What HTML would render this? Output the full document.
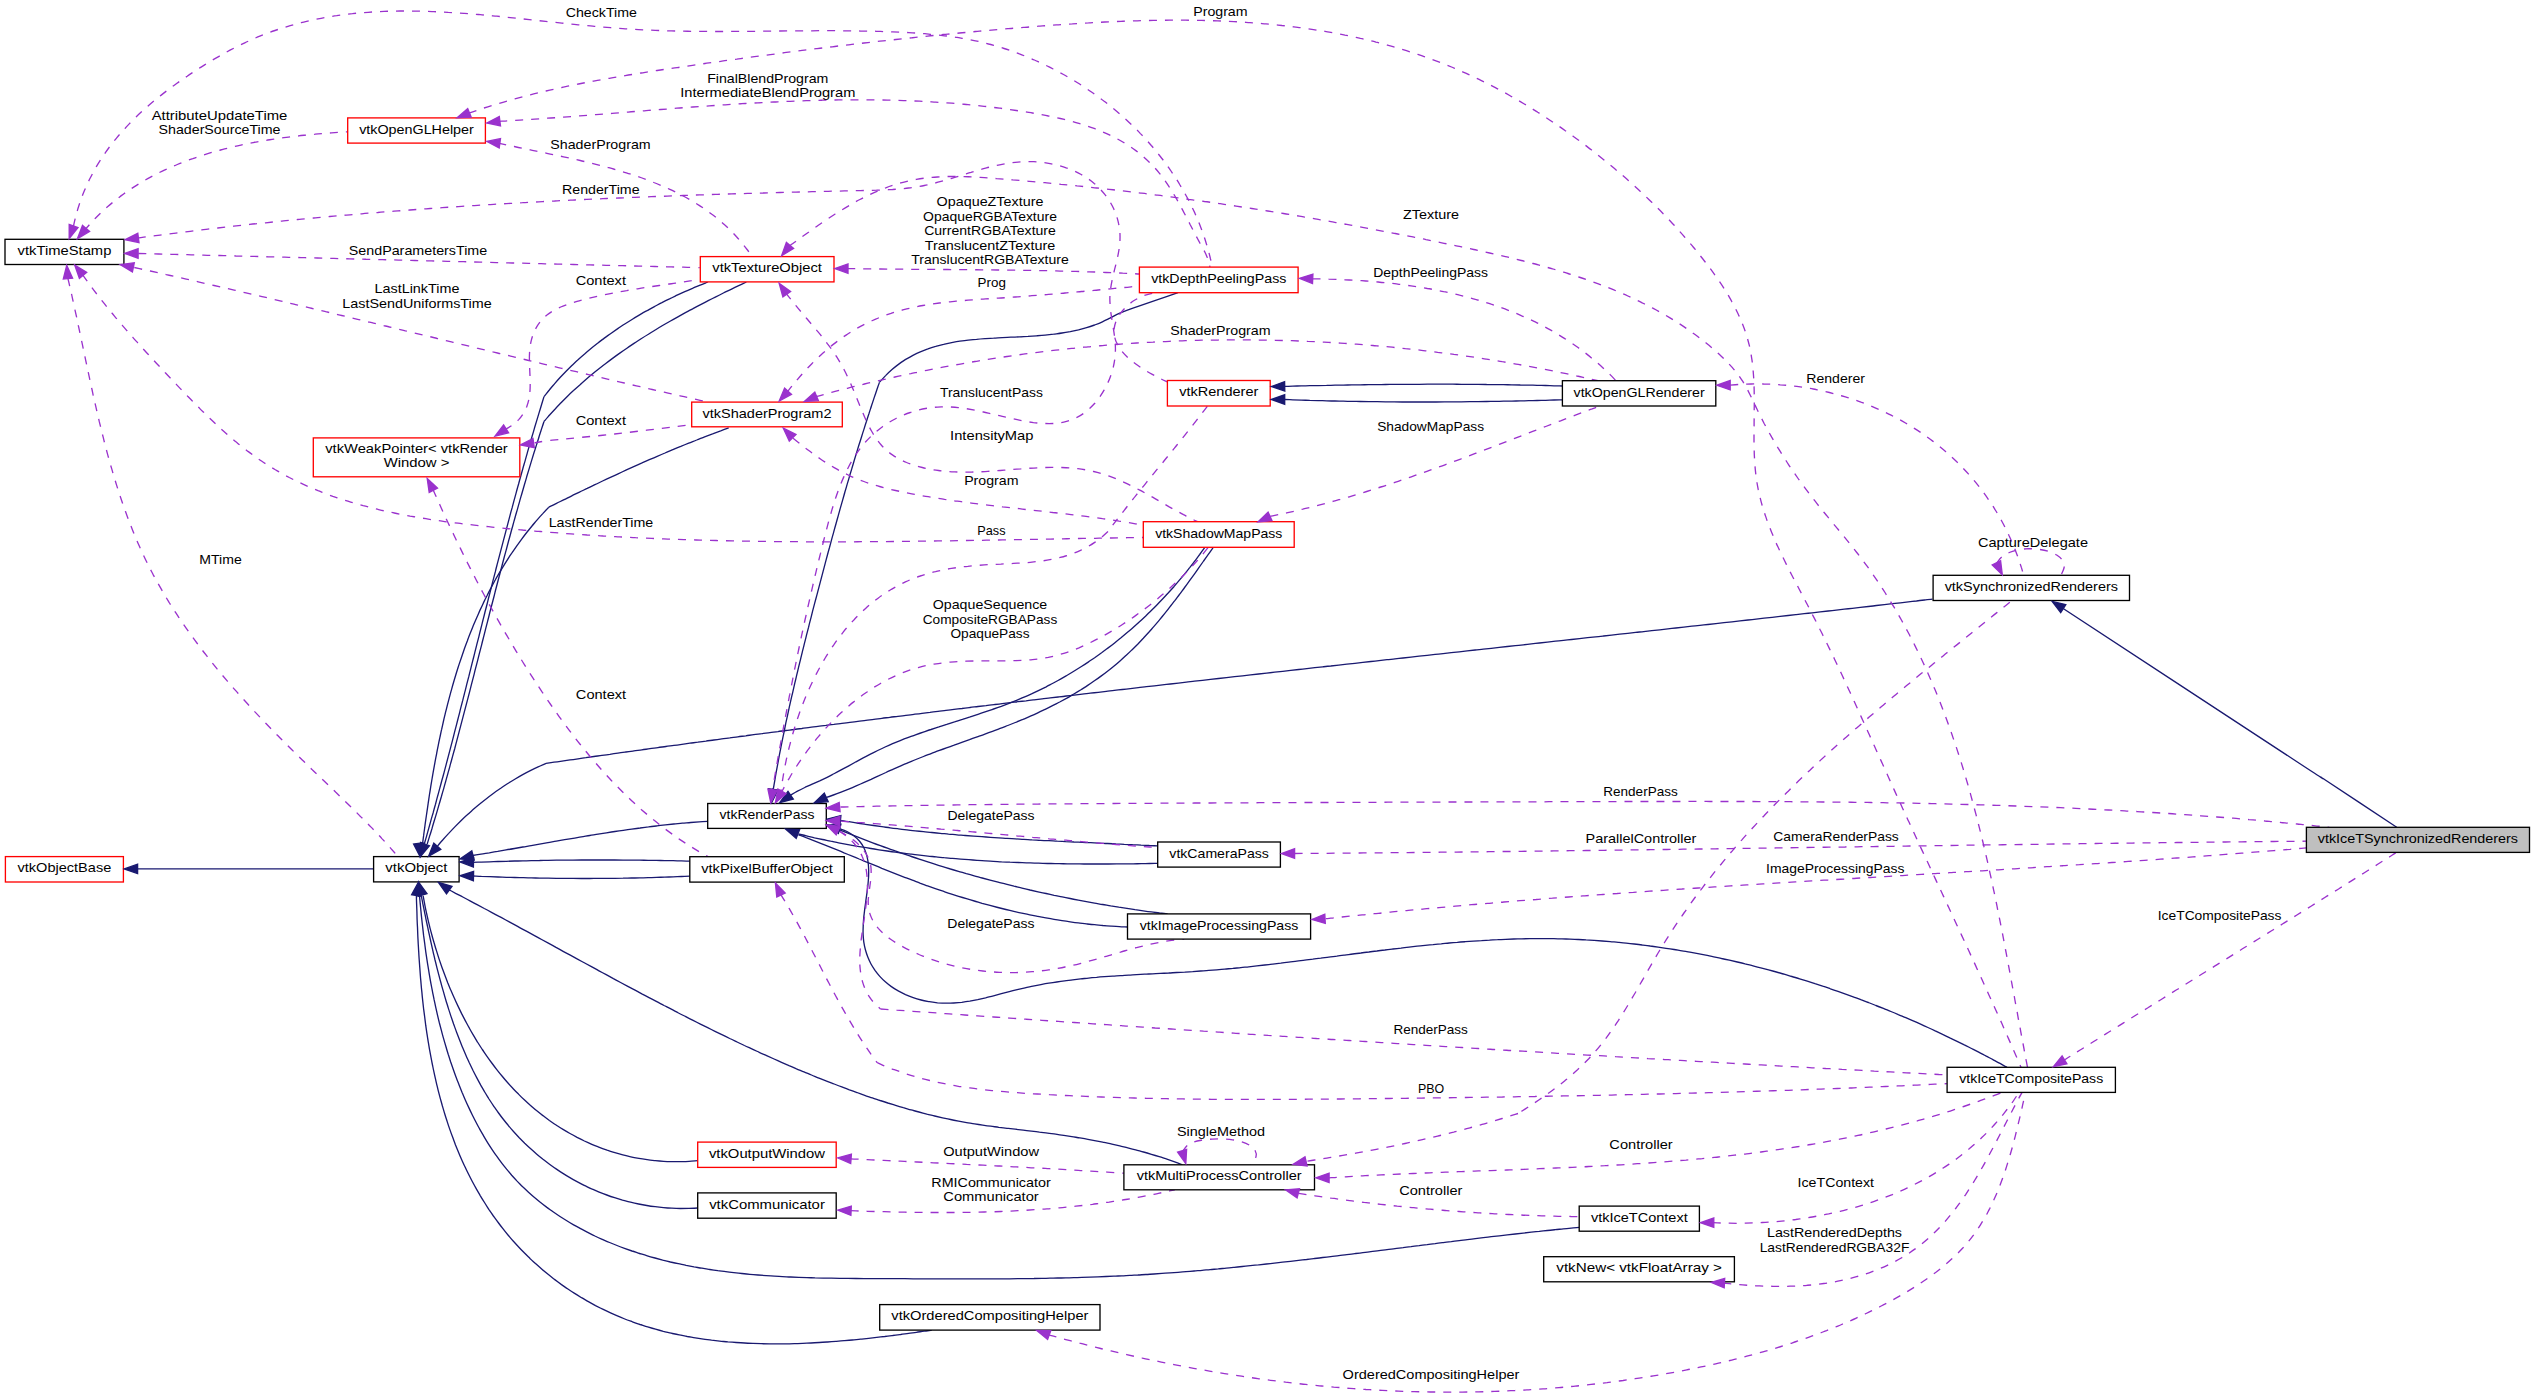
<!DOCTYPE html><html><head><meta charset="utf-8"><style>html,body{margin:0;padding:0;background:#fff;}svg{display:block;}text{font-family:"Liberation Sans",sans-serif;font-size:12.8px;fill:#000;}</style></head><body>
<svg xmlns="http://www.w3.org/2000/svg" width="2535" height="1397" viewBox="0 0 2535 1397">
<rect x="0" y="0" width="2535" height="1397" fill="#fff"/>
<g fill="none" stroke-width="1.33">
<path d="M137.9,868.9L373.6,868.9" stroke="#191970"/>
<path d="M708.0,282.0C706.7,282.5 702.8,284.1 700.2,285.1C697.7,286.2 695.1,287.2 692.5,288.4C689.9,289.5 687.3,290.6 684.8,291.7C682.2,292.9 679.7,294.0 677.1,295.2C674.6,296.4 672.0,297.6 669.5,298.9C667.0,300.1 664.4,301.4 661.9,302.7C659.4,303.9 656.9,305.3 654.4,306.6C651.9,307.9 649.5,309.3 647.0,310.7C644.5,312.0 642.1,313.4 639.6,314.9C637.2,316.3 634.8,317.7 632.4,319.2C630.0,320.7 627.6,322.2 625.2,323.7C622.8,325.2 620.5,326.8 618.1,328.4C615.8,330.0 613.5,331.6 611.2,333.2C608.9,334.8 606.6,336.5 604.3,338.1C602.1,339.8 599.8,341.5 597.6,343.3C595.4,345.0 593.2,346.7 591.0,348.5C588.8,350.3 586.7,352.1 584.6,354.0C582.4,355.8 580.3,357.7 578.3,359.6C576.2,361.4 574.1,363.4 572.1,365.3C570.1,367.3 568.1,369.2 566.1,371.2C564.2,373.2 562.2,375.3 560.3,377.3C558.4,379.4 556.5,381.5 554.7,383.6C552.9,385.7 551.0,387.8 549.3,390.0C547.5,392.2 544.9,395.5 544.0,396.6" stroke="#191970"/>
<path d="M544.0,396.6C543.6,397.9 542.4,401.9 541.6,404.5C540.8,407.1 540.0,409.8 539.2,412.4C538.4,415.1 537.6,417.7 536.8,420.4C536.0,423.0 535.2,425.6 534.4,428.3C533.7,430.9 532.9,433.6 532.1,436.2C531.3,438.9 530.6,441.5 529.8,444.2C529.0,446.8 528.3,449.5 527.5,452.1C526.8,454.8 526.0,457.4 525.3,460.1C524.5,462.7 523.8,465.4 523.0,468.0C522.3,470.7 521.5,473.3 520.8,476.0C520.0,478.7 519.3,481.3 518.6,484.0C517.8,486.6 517.1,489.3 516.4,491.9C515.7,494.6 514.9,497.3 514.2,499.9C513.5,502.6 512.8,505.2 512.1,507.9C511.3,510.6 510.6,513.2 509.9,515.9C509.2,518.6 508.5,521.2 507.8,523.9C507.1,526.6 506.4,529.2 505.7,531.9C505.0,534.6 504.3,537.2 503.6,539.9C502.9,542.6 502.2,545.2 501.5,547.9C500.8,550.6 500.1,553.2 499.4,555.9C498.7,558.6 498.0,561.2 497.3,563.9C496.6,566.6 495.9,569.2 495.3,571.9C494.6,574.6 493.9,577.3 493.2,579.9C492.5,582.6 491.8,585.3 491.2,587.9C490.5,590.6 489.8,593.3 489.1,596.0C488.4,598.6 487.8,601.3 487.1,604.0C486.4,606.6 485.7,609.3 485.0,612.0C484.4,614.7 483.7,617.3 483.0,620.0C482.3,622.7 481.7,625.4 481.0,628.0C480.3,630.7 479.6,633.4 479.0,636.1C478.3,638.7 477.6,641.4 476.9,644.1C476.3,646.7 475.6,649.4 474.9,652.1C474.3,654.8 473.6,657.4 472.9,660.1C472.2,662.8 471.6,665.5 470.9,668.1C470.2,670.8 469.5,673.5 468.9,676.2C468.2,678.8 467.5,681.5 466.8,684.2C466.2,686.9 465.5,689.5 464.8,692.2C464.1,694.9 463.4,697.5 462.8,700.2C462.1,702.9 461.4,705.6 460.7,708.2C460.0,710.9 459.4,713.6 458.7,716.2C458.0,718.9 457.3,721.6 456.6,724.3C455.9,726.9 455.2,729.6 454.5,732.3C453.9,734.9 453.2,737.6 452.5,740.3C451.8,742.9 451.1,745.6 450.4,748.3C449.7,750.9 449.0,753.6 448.3,756.3C447.6,758.9 446.9,761.6 446.2,764.3C445.5,766.9 444.8,769.6 444.1,772.3C443.4,774.9 442.7,777.6 441.9,780.3C441.2,782.9 440.5,785.6 439.8,788.2C439.1,790.9 438.4,793.6 437.6,796.2C436.9,798.9 436.2,801.5 435.5,804.2C434.7,806.9 434.0,809.5 433.3,812.2C432.5,814.8 431.8,817.5 431.0,820.1C430.3,822.8 429.6,825.4 428.8,828.1C428.1,830.7 427.3,833.4 426.6,836.1C425.8,838.7 424.7,842.7 424.3,844.0" stroke="#191970"/>
<path d="M746.4,282.0C745.1,282.6 741.3,284.4 738.7,285.6C736.2,286.8 733.6,288.1 731.1,289.3C728.5,290.5 726.0,291.8 723.4,293.0C720.9,294.3 718.3,295.6 715.8,296.8C713.3,298.1 710.7,299.4 708.2,300.7C705.6,302.0 703.1,303.3 700.6,304.6C698.0,305.9 695.5,307.2 693.0,308.6C690.5,309.9 688.0,311.3 685.4,312.6C682.9,314.0 680.4,315.4 677.9,316.8C675.4,318.2 672.9,319.6 670.5,321.0C668.0,322.4 665.5,323.8 663.0,325.3C660.6,326.7 658.1,328.2 655.7,329.7C653.2,331.2 650.8,332.6 648.4,334.2C645.9,335.7 643.5,337.2 641.1,338.7C638.7,340.3 636.3,341.8 634.0,343.4C631.6,345.0 629.2,346.6 626.9,348.2C624.5,349.8 622.2,351.4 619.8,353.1C617.5,354.7 615.2,356.4 612.9,358.1C610.6,359.8 608.3,361.5 606.1,363.2C603.8,364.9 601.6,366.6 599.3,368.4C597.1,370.2 594.9,372.0 592.7,373.8C590.5,375.6 588.3,377.4 586.2,379.2C584.0,381.1 581.9,383.0 579.8,384.9C577.6,386.8 575.5,388.7 573.5,390.6C571.4,392.5 569.3,394.5 567.3,396.5C565.3,398.5 563.3,400.5 561.3,402.5C559.3,404.6 557.3,406.6 555.4,408.7C553.4,410.8 551.5,412.9 549.6,415.0C547.7,417.2 544.9,420.4 544.0,421.5" stroke="#191970"/>
<path d="M544.0,421.5C543.6,422.8 542.3,426.7 541.4,429.4C540.6,432.0 539.7,434.6 538.9,437.2C538.1,439.9 537.2,442.5 536.4,445.1C535.6,447.8 534.8,450.4 533.9,453.0C533.1,455.7 532.3,458.3 531.5,460.9C530.7,463.6 529.9,466.2 529.1,468.9C528.3,471.5 527.5,474.1 526.7,476.8C526.0,479.4 525.2,482.1 524.4,484.7C523.6,487.4 522.9,490.0 522.1,492.7C521.3,495.3 520.6,498.0 519.8,500.6C519.1,503.3 518.3,505.9 517.6,508.6C516.8,511.2 516.1,513.9 515.3,516.5C514.6,519.2 513.8,521.9 513.1,524.5C512.4,527.2 511.6,529.8 510.9,532.5C510.2,535.2 509.5,537.8 508.7,540.5C508.0,543.1 507.3,545.8 506.6,548.5C505.9,551.1 505.2,553.8 504.4,556.5C503.7,559.1 503.0,561.8 502.3,564.5C501.6,567.1 500.9,569.8 500.2,572.5C499.5,575.1 498.8,577.8 498.1,580.5C497.4,583.1 496.7,585.8 496.0,588.5C495.3,591.1 494.7,593.8 494.0,596.5C493.3,599.2 492.6,601.8 491.9,604.5C491.2,607.2 490.5,609.9 489.8,612.5C489.2,615.2 488.5,617.9 487.8,620.5C487.1,623.2 486.4,625.9 485.7,628.6C485.1,631.2 484.4,633.9 483.7,636.6C483.0,639.3 482.3,641.9 481.7,644.6C481.0,647.3 480.3,649.9 479.6,652.6C478.9,655.3 478.3,658.0 477.6,660.6C476.9,663.3 476.2,666.0 475.5,668.7C474.8,671.3 474.2,674.0 473.5,676.7C472.8,679.4 472.1,682.0 471.4,684.7C470.7,687.4 470.1,690.0 469.4,692.7C468.7,695.4 468.0,698.0 467.3,700.7C466.6,703.4 465.9,706.1 465.2,708.7C464.5,711.4 463.8,714.1 463.1,716.7C462.4,719.4 461.7,722.1 461.0,724.7C460.3,727.4 459.6,730.1 458.9,732.7C458.2,735.4 457.5,738.1 456.8,740.7C456.1,743.4 455.4,746.0 454.7,748.7C453.9,751.4 453.2,754.0 452.5,756.7C451.8,759.3 451.0,762.0 450.3,764.7C449.6,767.3 448.9,770.0 448.1,772.6C447.4,775.3 446.6,777.9 445.9,780.6C445.2,783.2 444.4,785.9 443.7,788.6C442.9,791.2 442.1,793.9 441.4,796.5C440.6,799.1 439.9,801.8 439.1,804.4C438.3,807.1 437.6,809.7 436.8,812.4C436.0,815.0 435.2,817.7 434.4,820.3C433.6,822.9 432.8,825.6 432.1,828.2C431.3,830.8 430.5,833.5 429.6,836.1C428.8,838.7 427.6,842.7 427.2,844.0" stroke="#191970"/>
<path d="M728.7,427.8C727.4,428.3 723.3,429.8 720.7,430.8C718.0,431.7 715.3,432.7 712.6,433.8C710.0,434.8 707.3,435.8 704.6,436.8C702.0,437.9 699.3,438.9 696.7,440.0C694.0,441.0 691.4,442.1 688.7,443.1C686.1,444.2 683.4,445.3 680.8,446.4C678.2,447.4 675.5,448.5 672.9,449.6C670.3,450.7 667.6,451.8 665.0,453.0C662.4,454.1 659.8,455.2 657.2,456.3C654.5,457.5 651.9,458.6 649.3,459.7C646.7,460.9 644.1,462.0 641.5,463.2C638.9,464.3 636.3,465.5 633.7,466.7C631.1,467.9 628.5,469.0 625.9,470.2C623.3,471.4 620.7,472.6 618.1,473.8C615.6,475.0 613.0,476.2 610.4,477.4C607.8,478.6 605.2,479.8 602.6,481.0C600.1,482.2 597.5,483.5 594.9,484.7C592.4,485.9 589.8,487.1 587.2,488.4C584.6,489.6 582.1,490.9 579.5,492.1C576.9,493.3 574.4,494.6 571.8,495.8C569.3,497.1 566.7,498.3 564.1,499.6C561.6,500.9 559.0,502.1 556.5,503.4C553.9,504.7 550.1,506.6 548.8,507.2" stroke="#191970"/>
<path d="M548.8,507.2C547.8,508.2 544.9,511.3 543.0,513.4C541.1,515.4 539.2,517.5 537.4,519.6C535.6,521.7 533.8,523.9 532.0,526.0C530.2,528.2 528.5,530.3 526.7,532.5C525.0,534.7 523.3,536.9 521.7,539.1C520.0,541.4 518.4,543.6 516.8,545.8C515.2,548.1 513.6,550.4 512.1,552.7C510.5,554.9 509.0,557.2 507.5,559.6C506.0,561.9 504.6,564.2 503.1,566.6C501.7,568.9 500.3,571.3 498.9,573.7C497.5,576.0 496.1,578.4 494.8,580.8C493.5,583.3 492.2,585.7 490.9,588.1C489.6,590.5 488.3,593.0 487.1,595.5C485.8,597.9 484.6,600.4 483.4,602.9C482.3,605.4 481.1,607.9 479.9,610.4C478.8,612.9 477.7,615.4 476.6,617.9C475.5,620.5 474.4,623.0 473.3,625.6C472.3,628.1 471.3,630.7 470.2,633.3C469.2,635.8 468.2,638.4 467.3,641.0C466.3,643.6 465.3,646.2 464.4,648.8C463.5,651.4 462.6,654.0 461.7,656.7C460.8,659.3 459.9,661.9 459.0,664.6C458.2,667.2 457.3,669.9 456.5,672.5C455.7,675.2 454.9,677.9 454.1,680.5C453.3,683.2 452.5,685.9 451.8,688.6C451.0,691.3 450.3,693.9 449.6,696.6C448.9,699.3 448.2,702.0 447.5,704.7C446.8,707.4 446.1,710.2 445.4,712.9C444.8,715.6 444.1,718.3 443.5,721.0C442.9,723.7 442.3,726.5 441.7,729.2C441.0,731.9 440.5,734.7 439.9,737.4C439.3,740.1 438.7,742.9 438.2,745.6C437.6,748.3 437.1,751.1 436.6,753.8C436.0,756.6 435.5,759.3 435.0,762.1C434.5,764.8 434.0,767.5 433.5,770.3C433.0,773.0 432.6,775.8 432.1,778.5C431.6,781.3 431.2,784.0 430.7,786.8C430.3,789.5 429.9,792.2 429.4,795.0C429.0,797.7 428.6,800.5 428.2,803.2C427.8,805.9 427.4,808.7 427.0,811.4C426.6,814.1 426.2,816.9 425.8,819.6C425.4,822.3 425.0,825.0 424.7,827.7C424.3,830.5 423.9,833.2 423.6,835.9C423.2,838.6 422.7,842.6 422.5,844.0" stroke="#191970"/>
<path d="M1932.5,599.1C1931.2,599.3 1927.2,599.7 1924.5,600.0C1921.8,600.3 1919.1,600.6 1916.5,601.0C1913.8,601.3 1911.1,601.6 1908.4,601.9C1905.8,602.2 1903.1,602.5 1900.4,602.8C1897.8,603.1 1895.1,603.4 1892.4,603.7C1889.7,604.0 1887.1,604.3 1884.4,604.6C1881.7,604.9 1879.0,605.2 1876.4,605.5C1873.7,605.9 1871.0,606.2 1868.3,606.5C1865.7,606.8 1863.0,607.1 1860.3,607.4C1857.7,607.7 1855.0,608.0 1852.3,608.3C1849.6,608.6 1847.0,608.9 1844.3,609.2C1841.6,609.5 1838.9,609.8 1836.3,610.1C1833.6,610.4 1830.9,610.7 1828.2,611.0C1825.6,611.3 1822.9,611.6 1820.2,611.9C1817.6,612.2 1814.9,612.5 1812.2,612.8C1809.5,613.1 1806.9,613.4 1804.2,613.7C1801.5,614.0 1798.8,614.3 1796.2,614.6C1793.5,614.9 1790.8,615.2 1788.1,615.5C1785.5,615.8 1782.8,616.1 1780.1,616.4C1777.4,616.7 1774.8,617.0 1772.1,617.3C1769.4,617.6 1766.7,617.9 1764.1,618.2C1761.4,618.5 1758.7,618.8 1756.1,619.1C1753.4,619.4 1750.7,619.7 1748.0,620.0C1745.4,620.3 1742.7,620.6 1740.0,620.9C1737.3,621.2 1734.7,621.5 1732.0,621.8C1729.3,622.1 1726.6,622.4 1724.0,622.7C1721.3,623.0 1718.6,623.3 1715.9,623.6C1713.3,623.9 1710.6,624.2 1707.9,624.5C1705.2,624.8 1702.6,625.1 1699.9,625.4C1697.2,625.7 1694.5,626.0 1691.9,626.2C1689.2,626.5 1686.5,626.8 1683.8,627.1C1681.2,627.4 1678.5,627.7 1675.8,628.0C1673.1,628.3 1670.5,628.6 1667.8,628.9C1665.1,629.2 1662.5,629.5 1659.8,629.8C1657.1,630.1 1654.4,630.4 1651.8,630.7C1649.1,631.0 1646.4,631.3 1643.7,631.6C1641.1,631.9 1638.4,632.1 1635.7,632.4C1633.0,632.7 1630.4,633.0 1627.7,633.3C1625.0,633.6 1622.3,633.9 1619.7,634.2C1617.0,634.5 1614.3,634.8 1611.6,635.1C1609.0,635.4 1606.3,635.7 1603.6,636.0C1600.9,636.3 1598.3,636.6 1595.6,636.8C1592.9,637.1 1590.2,637.4 1587.6,637.7C1584.9,638.0 1582.2,638.3 1579.5,638.6C1576.9,638.9 1574.2,639.2 1571.5,639.5C1568.8,639.8 1566.2,640.1 1563.5,640.4C1560.8,640.7 1558.1,641.0 1555.5,641.2C1552.8,641.5 1550.1,641.8 1547.4,642.1C1544.8,642.4 1542.1,642.7 1539.4,643.0C1536.7,643.3 1534.1,643.6 1531.4,643.9C1528.7,644.2 1526.1,644.5 1523.4,644.8C1520.7,645.1 1518.0,645.4 1515.4,645.6C1512.7,645.9 1510.0,646.2 1507.3,646.5C1504.7,646.8 1502.0,647.1 1499.3,647.4C1496.6,647.7 1494.0,648.0 1491.3,648.3C1488.6,648.6 1485.9,648.9 1483.3,649.2C1480.6,649.5 1477.9,649.7 1475.2,650.0C1472.6,650.3 1469.9,650.6 1467.2,650.9C1464.5,651.2 1461.9,651.5 1459.2,651.8C1456.5,652.1 1453.8,652.4 1451.2,652.7C1448.5,653.0 1445.8,653.3 1443.1,653.6C1440.5,653.9 1437.8,654.2 1435.1,654.4C1432.4,654.7 1429.8,655.0 1427.1,655.3C1424.4,655.6 1421.7,655.9 1419.1,656.2C1416.4,656.5 1413.7,656.8 1411.0,657.1C1408.4,657.4 1405.7,657.7 1403.0,658.0C1400.3,658.3 1397.7,658.6 1395.0,658.9C1392.3,659.2 1389.7,659.4 1387.0,659.7C1384.3,660.0 1381.6,660.3 1379.0,660.6C1376.3,660.9 1373.6,661.2 1370.9,661.5C1368.3,661.8 1365.6,662.1 1362.9,662.4C1360.2,662.7 1357.6,663.0 1354.9,663.3C1352.2,663.6 1349.5,663.9 1346.9,664.2C1344.2,664.5 1341.5,664.8 1338.8,665.1C1336.2,665.4 1333.5,665.7 1330.8,666.0C1328.1,666.2 1325.5,666.5 1322.8,666.8C1320.1,667.1 1317.4,667.4 1314.8,667.7C1312.1,668.0 1309.4,668.3 1306.8,668.6C1304.1,668.9 1301.4,669.2 1298.7,669.5C1296.1,669.8 1293.4,670.1 1290.7,670.4C1288.0,670.7 1285.4,671.0 1282.7,671.3C1280.0,671.6 1277.3,671.9 1274.7,672.2C1272.0,672.5 1269.3,672.8 1266.6,673.1C1264.0,673.4 1261.3,673.7 1258.6,674.0C1256.0,674.3 1253.3,674.6 1250.6,674.9C1247.9,675.2 1245.3,675.5 1242.6,675.8C1239.9,676.1 1237.2,676.4 1234.6,676.7C1231.9,677.0 1229.2,677.3 1226.5,677.6C1223.9,677.9 1221.2,678.2 1218.5,678.5C1215.9,678.8 1213.2,679.1 1210.5,679.4C1207.8,679.7 1205.2,680.0 1202.5,680.3C1199.8,680.6 1197.1,680.9 1194.5,681.2C1191.8,681.5 1189.1,681.9 1186.4,682.2C1183.8,682.5 1181.1,682.8 1178.4,683.1C1175.8,683.4 1173.1,683.7 1170.4,684.0C1167.7,684.3 1165.1,684.6 1162.4,684.9C1159.7,685.2 1157.0,685.5 1154.4,685.8C1151.7,686.1 1149.0,686.4 1146.4,686.7C1143.7,687.0 1141.0,687.4 1138.3,687.7C1135.7,688.0 1133.0,688.3 1130.3,688.6C1127.6,688.9 1125.0,689.2 1122.3,689.5C1119.6,689.8 1117.0,690.1 1114.3,690.4C1111.6,690.7 1108.9,691.1 1106.3,691.4C1103.6,691.7 1100.9,692.0 1098.3,692.3C1095.6,692.6 1092.9,692.9 1090.2,693.2C1087.6,693.5 1084.9,693.9 1082.2,694.2C1079.5,694.5 1076.9,694.8 1074.2,695.1C1071.5,695.4 1068.9,695.7 1066.2,696.0C1063.5,696.4 1060.8,696.7 1058.2,697.0C1055.5,697.3 1052.8,697.6 1050.2,697.9C1047.5,698.2 1044.8,698.6 1042.1,698.9C1039.5,699.2 1036.8,699.5 1034.1,699.8C1031.5,700.1 1028.8,700.4 1026.1,700.8C1023.4,701.1 1020.8,701.4 1018.1,701.7C1015.4,702.0 1012.8,702.4 1010.1,702.7C1007.4,703.0 1004.7,703.3 1002.1,703.6C999.4,704.0 996.7,704.3 994.1,704.6C991.4,704.9 988.7,705.2 986.0,705.6C983.4,705.9 980.7,706.2 978.0,706.5C975.4,706.8 972.7,707.2 970.0,707.5C967.4,707.8 964.7,708.1 962.0,708.5C959.3,708.8 956.7,709.1 954.0,709.4C951.3,709.8 948.7,710.1 946.0,710.4C943.3,710.7 940.7,711.1 938.0,711.4C935.3,711.7 932.6,712.0 930.0,712.4C927.3,712.7 924.6,713.0 922.0,713.3C919.3,713.7 916.6,714.0 914.0,714.3C911.3,714.7 908.6,715.0 905.9,715.3C903.3,715.7 900.6,716.0 897.9,716.3C895.3,716.6 892.6,717.0 889.9,717.3C887.3,717.6 884.6,718.0 881.9,718.3C879.2,718.6 876.6,719.0 873.9,719.3C871.2,719.6 868.6,720.0 865.9,720.3C863.2,720.6 860.6,721.0 857.9,721.3C855.2,721.7 852.6,722.0 849.9,722.3C847.2,722.7 844.6,723.0 841.9,723.3C839.2,723.7 836.5,724.0 833.9,724.4C831.2,724.7 828.5,725.0 825.9,725.4C823.2,725.7 820.5,726.1 817.9,726.4C815.2,726.7 812.5,727.1 809.9,727.4C807.2,727.8 804.5,728.1 801.9,728.5C799.2,728.8 796.5,729.1 793.9,729.5C791.2,729.8 788.5,730.2 785.9,730.5C783.2,730.9 780.5,731.2 777.9,731.6C775.2,731.9 772.5,732.3 769.9,732.6C767.2,733.0 764.5,733.3 761.8,733.7C759.2,734.0 756.5,734.4 753.8,734.7C751.2,735.1 748.5,735.4 745.8,735.8C743.2,736.1 740.5,736.5 737.8,736.8C735.2,737.2 732.5,737.5 729.8,737.9C727.2,738.2 724.5,738.6 721.8,738.9C719.2,739.3 716.5,739.7 713.9,740.0C711.2,740.4 708.5,740.7 705.9,741.1C703.2,741.4 700.5,741.8 697.9,742.2C695.2,742.5 692.5,742.9 689.9,743.2C687.2,743.6 684.5,744.0 681.9,744.3C679.2,744.7 676.5,745.1 673.9,745.4C671.2,745.8 668.5,746.1 665.9,746.5C663.2,746.9 660.5,747.2 657.9,747.6C655.2,748.0 652.5,748.3 649.9,748.7C647.2,749.1 644.5,749.4 641.9,749.8C639.2,750.2 636.6,750.5 633.9,750.9C631.2,751.3 628.6,751.7 625.9,752.0C623.2,752.4 620.6,752.8 617.9,753.1C615.2,753.5 612.6,753.9 609.9,754.3C607.3,754.6 604.6,755.0 601.9,755.4C599.3,755.8 596.6,756.1 593.9,756.5C591.3,756.9 588.6,757.3 585.9,757.7C583.3,758.0 580.6,758.4 578.0,758.8C575.3,759.2 572.6,759.6 570.0,759.9C567.3,760.3 564.6,760.7 562.0,761.1C559.3,761.5 556.6,761.9 554.0,762.2C551.3,762.6 547.3,763.2 546.0,763.4" stroke="#191970"/>
<path d="M546.0,763.4C544.7,764.0 540.7,765.7 538.1,766.9C535.5,768.1 532.9,769.4 530.3,770.7C527.7,772.0 525.2,773.3 522.7,774.7C520.1,776.1 517.7,777.5 515.2,779.0C512.7,780.5 510.3,782.0 507.8,783.5C505.4,785.1 503.0,786.6 500.7,788.3C498.3,789.9 495.9,791.5 493.6,793.2C491.3,794.9 489.0,796.6 486.7,798.4C484.5,800.1 482.2,801.9 480.0,803.8C477.8,805.6 475.6,807.4 473.4,809.3C471.3,811.2 469.1,813.1 467.0,815.1C464.9,817.0 462.8,819.0 460.7,821.0C458.7,823.0 456.7,825.0 454.6,827.1C452.6,829.2 450.7,831.2 448.7,833.4C446.7,835.5 444.8,837.6 442.9,839.8C441.0,841.9 438.2,845.2 437.3,846.3" stroke="#191970"/>
<path d="M472.6,855.5C474.0,855.3 478.2,854.6 481.0,854.1C483.8,853.7 486.6,853.2 489.3,852.8C492.1,852.3 494.9,851.8 497.7,851.4C500.5,850.9 503.3,850.4 506.1,849.9C508.9,849.5 511.7,849.0 514.5,848.5C517.2,848.0 520.0,847.5 522.8,847.0C525.6,846.5 528.4,846.1 531.2,845.6C534.0,845.1 536.8,844.6 539.5,844.1C542.3,843.6 545.1,843.1 547.9,842.6C550.7,842.1 553.5,841.7 556.3,841.2C559.1,840.7 561.9,840.2 564.6,839.7C567.4,839.3 570.2,838.8 573.0,838.3C575.8,837.8 578.6,837.4 581.4,836.9C584.2,836.4 587.0,836.0 589.8,835.5C592.6,835.0 595.4,834.6 598.1,834.1C600.9,833.7 603.7,833.3 606.5,832.8C609.3,832.4 612.1,832.0 614.9,831.5C617.7,831.1 620.5,830.7 623.3,830.3C626.1,829.9 628.9,829.5 631.7,829.1C634.5,828.7 637.3,828.3 640.1,828.0C642.9,827.6 645.7,827.2 648.5,826.9C651.3,826.5 654.2,826.2 657.0,825.9C659.8,825.5 662.6,825.2 665.4,824.9C668.2,824.6 671.0,824.3 673.8,824.0C676.7,823.7 679.5,823.5 682.3,823.2C685.1,823.0 687.9,822.7 690.7,822.5C693.6,822.3 696.4,822.1 699.2,821.9C702.0,821.7 706.3,821.4 707.7,821.3" stroke="#191970"/>
<path d="M472.9,862.4C474.3,862.3 478.5,862.2 481.2,862.1C484.0,862.0 486.8,861.9 489.6,861.8C492.4,861.7 495.1,861.6 497.9,861.5C500.7,861.4 503.5,861.3 506.3,861.3C509.0,861.2 511.8,861.1 514.6,861.0C517.4,861.0 520.2,860.9 522.9,860.8C525.7,860.8 528.5,860.7 531.3,860.6C534.1,860.6 536.8,860.5 539.6,860.5C542.4,860.4 545.2,860.4 548.0,860.3C550.7,860.3 553.5,860.3 556.3,860.2C559.1,860.2 561.9,860.2 564.7,860.1C567.4,860.1 570.2,860.1 573.0,860.1C575.8,860.0 578.6,860.0 581.3,860.0C584.1,860.0 586.9,860.0 589.7,860.0C592.5,860.0 595.2,860.0 598.0,860.0C600.8,860.0 603.6,860.0 606.4,860.0C609.2,860.0 611.9,860.0 614.7,860.0C617.5,860.0 620.3,860.0 623.1,860.1C625.8,860.1 628.6,860.1 631.4,860.1C634.2,860.1 637.0,860.2 639.7,860.2C642.5,860.2 645.3,860.3 648.1,860.3C650.9,860.4 653.7,860.4 656.4,860.4C659.2,860.5 662.0,860.5 664.8,860.6C667.6,860.6 670.3,860.7 673.1,860.7C675.9,860.8 678.7,860.8 681.5,860.9C684.2,861.0 688.4,861.1 689.8,861.1" stroke="#191970"/>
<path d="M473.1,876.0C474.5,876.1 478.7,876.2 481.4,876.4C484.2,876.5 487.0,876.6 489.8,876.7C492.5,876.8 495.3,876.9 498.1,877.0C500.9,877.1 503.6,877.2 506.4,877.3C509.2,877.4 512.0,877.4 514.8,877.5C517.5,877.6 520.3,877.7 523.1,877.7C525.9,877.8 528.6,877.9 531.4,877.9C534.2,878.0 537.0,878.0 539.8,878.1C542.5,878.1 545.3,878.2 548.1,878.2C550.9,878.3 553.7,878.3 556.4,878.3C559.2,878.4 562.0,878.4 564.8,878.4C567.6,878.4 570.3,878.4 573.1,878.4C575.9,878.5 578.7,878.5 581.4,878.5C584.2,878.5 587.0,878.5 589.8,878.5C592.6,878.5 595.3,878.4 598.1,878.4C600.9,878.4 603.7,878.4 606.5,878.4C609.2,878.3 612.0,878.3 614.8,878.3C617.6,878.2 620.4,878.2 623.1,878.2C625.9,878.1 628.7,878.1 631.5,878.0C634.2,878.0 637.0,877.9 639.8,877.8C642.6,877.8 645.4,877.7 648.1,877.6C650.9,877.6 653.7,877.5 656.5,877.4C659.3,877.3 662.0,877.2 664.8,877.1C667.6,877.0 670.4,877.0 673.1,876.9C675.9,876.8 678.7,876.6 681.5,876.5C684.2,876.4 688.4,876.3 689.8,876.2" stroke="#191970"/>
<path d="M416.4,895.8C416.4,897.1 416.5,901.0 416.6,903.6C416.7,906.3 416.8,908.9 416.9,911.5C417.0,914.2 417.0,916.8 417.1,919.5C417.2,922.1 417.3,924.8 417.5,927.4C417.6,930.1 417.7,932.8 417.8,935.5C417.9,938.1 418.1,940.8 418.2,943.5C418.4,946.2 418.5,948.9 418.7,951.6C418.8,954.3 419.0,957.0 419.2,959.7C419.4,962.5 419.6,965.2 419.8,967.9C420.0,970.6 420.2,973.3 420.4,976.1C420.6,978.8 420.9,981.5 421.1,984.2C421.3,987.0 421.6,989.7 421.9,992.4C422.1,995.2 422.4,997.9 422.7,1000.6C423.0,1003.4 423.3,1006.1 423.6,1008.8C424.0,1011.6 424.3,1014.3 424.7,1017.0C425.0,1019.8 425.4,1022.5 425.7,1025.2C426.1,1028.0 426.5,1030.7 426.9,1033.4C427.3,1036.2 427.8,1038.9 428.2,1041.6C428.7,1044.3 429.1,1047.0 429.6,1049.8C430.1,1052.5 430.6,1055.2 431.1,1057.9C431.6,1060.6 432.1,1063.3 432.7,1066.0C433.2,1068.7 433.8,1071.4 434.4,1074.1C435.0,1076.8 435.6,1079.4 436.2,1082.1C436.8,1084.8 437.5,1087.5 438.1,1090.1C438.8,1092.8 439.5,1095.4 440.2,1098.1C440.9,1100.7 441.7,1103.4 442.4,1106.0C443.2,1108.6 443.9,1111.2 444.7,1113.8C445.5,1116.5 446.4,1119.1 447.2,1121.6C448.0,1124.2 448.9,1126.8 449.8,1129.4C450.7,1132.0 451.6,1134.5 452.6,1137.1C453.5,1139.6 454.5,1142.1 455.4,1144.7C456.4,1147.2 457.5,1149.7 458.5,1152.2C459.5,1154.7 460.6,1157.2 461.7,1159.7C462.8,1162.1 463.9,1164.6 465.1,1167.0C466.2,1169.5 467.4,1171.9 468.6,1174.3C469.8,1176.7 471.0,1179.1 472.3,1181.5C473.6,1183.9 474.9,1186.3 476.2,1188.6C477.5,1191.0 478.9,1193.3 480.2,1195.6C481.6,1197.9 483.0,1200.2 484.5,1202.5C485.9,1204.8 487.4,1207.1 488.8,1209.3C490.3,1211.5 491.9,1213.8 493.4,1216.0C495.0,1218.2 496.5,1220.3 498.2,1222.5C499.8,1224.7 501.4,1226.8 503.1,1228.9C504.7,1231.0 506.4,1233.1 508.2,1235.2C509.9,1237.2 511.6,1239.3 513.4,1241.3C515.2,1243.3 517.0,1245.3 518.9,1247.2C520.7,1249.2 522.6,1251.1 524.5,1253.0C526.3,1254.9 528.3,1256.8 530.2,1258.7C532.2,1260.5 534.1,1262.3 536.1,1264.1C538.1,1265.9 540.1,1267.7 542.2,1269.5C544.2,1271.2 546.3,1272.9 548.4,1274.6C550.5,1276.3 552.6,1277.9 554.8,1279.6C556.9,1281.2 559.1,1282.8 561.2,1284.4C563.4,1285.9 565.6,1287.5 567.9,1289.0C570.1,1290.5 572.3,1292.0 574.6,1293.4C576.9,1294.9 579.2,1296.3 581.5,1297.7C583.8,1299.0 586.1,1300.4 588.4,1301.7C590.8,1303.0 593.1,1304.3 595.5,1305.6C597.9,1306.8 600.3,1308.0 602.7,1309.2C605.1,1310.4 607.6,1311.6 610.0,1312.7C612.4,1313.8 614.9,1314.9 617.4,1315.9C619.9,1317.0 622.3,1318.0 624.8,1319.0C627.3,1320.0 629.9,1320.9 632.4,1321.8C634.9,1322.8 637.5,1323.6 640.0,1324.5C642.6,1325.3 645.1,1326.2 647.7,1326.9C650.3,1327.7 652.9,1328.5 655.5,1329.2C658.1,1329.9 660.7,1330.6 663.3,1331.3C666.0,1331.9 668.6,1332.6 671.2,1333.2C673.9,1333.8 676.5,1334.4 679.2,1334.9C681.9,1335.4 684.5,1336.0 687.2,1336.5C689.9,1336.9 692.6,1337.4 695.3,1337.8C698.0,1338.3 700.7,1338.7 703.4,1339.1C706.1,1339.5 708.8,1339.8 711.5,1340.2C714.3,1340.5 717.0,1340.8 719.7,1341.1C722.5,1341.4 725.2,1341.6 727.9,1341.9C730.7,1342.1 733.4,1342.3 736.2,1342.5C738.9,1342.7 741.7,1342.9 744.5,1343.0C747.2,1343.2 750.0,1343.3 752.8,1343.4C755.5,1343.5 758.3,1343.6 761.1,1343.7C763.8,1343.8 766.6,1343.8 769.4,1343.8C772.2,1343.9 774.9,1343.9 777.7,1343.9C780.5,1343.9 783.3,1343.8 786.0,1343.8C788.8,1343.8 791.6,1343.7 794.4,1343.6C797.2,1343.6 799.9,1343.5 802.7,1343.4C805.5,1343.3 808.2,1343.1 811.0,1343.0C813.8,1342.9 816.6,1342.7 819.3,1342.5C822.1,1342.4 824.8,1342.2 827.6,1342.0C830.4,1341.8 833.1,1341.6 835.9,1341.4C838.6,1341.2 841.4,1341.0 844.1,1340.7C846.8,1340.5 849.6,1340.3 852.3,1340.0C855.0,1339.7 857.8,1339.5 860.5,1339.2C863.2,1338.9 865.9,1338.6 868.6,1338.3C871.3,1338.0 874.0,1337.7 876.7,1337.4C879.4,1337.1 882.1,1336.8 884.8,1336.5C887.4,1336.1 890.1,1335.8 892.7,1335.5C895.4,1335.1 898.1,1334.8 900.7,1334.5C903.3,1334.1 905.9,1333.8 908.6,1333.4C911.2,1333.0 913.8,1332.7 916.4,1332.3C919.0,1331.9 921.6,1331.6 924.1,1331.2C926.7,1330.8 930.5,1330.3 931.8,1330.1" stroke="#191970"/>
<path d="M419.5,895.8C419.6,897.1 420.0,901.0 420.2,903.7C420.5,906.3 420.7,908.9 421.0,911.6C421.2,914.2 421.5,916.8 421.8,919.5C422.1,922.1 422.4,924.8 422.7,927.4C423.0,930.1 423.3,932.7 423.6,935.4C424.0,938.0 424.3,940.7 424.7,943.3C425.0,946.0 425.4,948.6 425.7,951.3C426.1,954.0 426.5,956.6 426.9,959.3C427.3,962.0 427.7,964.6 428.2,967.3C428.6,969.9 429.0,972.6 429.5,975.3C429.9,977.9 430.4,980.6 430.9,983.3C431.4,985.9 431.9,988.6 432.4,991.2C432.9,993.9 433.5,996.5 434.0,999.2C434.6,1001.9 435.1,1004.5 435.7,1007.1C436.3,1009.8 436.9,1012.4 437.5,1015.1C438.1,1017.7 438.8,1020.4 439.4,1023.0C440.1,1025.6 440.8,1028.2 441.5,1030.9C442.1,1033.5 442.9,1036.1 443.6,1038.7C444.3,1041.3 445.1,1043.9 445.9,1046.5C446.6,1049.1 447.4,1051.7 448.2,1054.3C449.1,1056.9 449.9,1059.5 450.7,1062.0C451.6,1064.6 452.5,1067.2 453.4,1069.7C454.3,1072.3 455.2,1074.8 456.2,1077.4C457.1,1079.9 458.1,1082.4 459.1,1085.0C460.1,1087.5 461.1,1090.0 462.1,1092.5C463.2,1095.0 464.2,1097.5 465.3,1100.0C466.4,1102.5 467.5,1104.9 468.7,1107.4C469.8,1109.8 471.0,1112.3 472.2,1114.7C473.4,1117.1 474.6,1119.6 475.9,1122.0C477.1,1124.4 478.4,1126.7 479.7,1129.1C481.0,1131.5 482.4,1133.8 483.7,1136.1C485.1,1138.5 486.5,1140.8 487.9,1143.1C489.3,1145.3 490.8,1147.6 492.3,1149.8C493.8,1152.1 495.3,1154.3 496.9,1156.4C498.4,1158.6 500.0,1160.8 501.6,1162.9C503.2,1165.0 504.9,1167.1 506.6,1169.2C508.3,1171.2 510.0,1173.2 511.7,1175.2C513.5,1177.2 515.3,1179.2 517.1,1181.1C519.0,1183.0 520.8,1184.9 522.7,1186.8C524.6,1188.6 526.5,1190.4 528.5,1192.2C530.5,1194.0 532.4,1195.7 534.5,1197.5C536.5,1199.2 538.5,1200.9 540.6,1202.5C542.7,1204.2 544.8,1205.8 546.9,1207.4C549.1,1208.9 551.2,1210.5 553.4,1212.0C555.6,1213.5 557.8,1215.0 560.0,1216.5C562.2,1217.9 564.5,1219.3 566.8,1220.7C569.0,1222.1 571.3,1223.5 573.6,1224.8C576.0,1226.1 578.3,1227.4 580.6,1228.7C583.0,1230.0 585.4,1231.2 587.7,1232.4C590.1,1233.6 592.5,1234.8 594.9,1236.0C597.4,1237.1 599.8,1238.2 602.2,1239.3C604.7,1240.4 607.1,1241.5 609.6,1242.5C612.1,1243.5 614.5,1244.5 617.0,1245.5C619.5,1246.5 622.0,1247.4 624.5,1248.3C627.0,1249.2 629.5,1250.1 632.0,1251.0C634.6,1251.8 637.1,1252.7 639.6,1253.5C642.2,1254.3 644.7,1255.1 647.3,1255.8C649.8,1256.6 652.4,1257.3 655.0,1258.0C657.5,1258.7 660.1,1259.4 662.7,1260.1C665.3,1260.7 667.8,1261.3 670.4,1262.0C673.0,1262.6 675.6,1263.2 678.2,1263.7C680.9,1264.3 683.5,1264.8 686.1,1265.4C688.7,1265.9 691.3,1266.4 694.0,1266.9C696.6,1267.3 699.2,1267.8 701.9,1268.2C704.5,1268.7 707.2,1269.1 709.8,1269.5C712.5,1269.9 715.1,1270.3 717.8,1270.7C720.5,1271.0 723.1,1271.4 725.8,1271.7C728.5,1272.1 731.1,1272.4 733.8,1272.7C736.5,1273.0 739.2,1273.3 741.9,1273.5C744.6,1273.8 747.3,1274.1 749.9,1274.3C752.6,1274.6 755.3,1274.8 758.0,1275.0C760.7,1275.2 763.4,1275.4 766.2,1275.6C768.9,1275.8 771.6,1276.0 774.3,1276.1C777.0,1276.3 779.7,1276.5 782.4,1276.6C785.1,1276.7 787.9,1276.9 790.6,1277.0C793.3,1277.1 796.0,1277.2 798.7,1277.3C801.5,1277.4 804.2,1277.5 806.9,1277.6C809.6,1277.7 812.4,1277.8 815.1,1277.9C817.8,1277.9 820.6,1278.0 823.3,1278.1C826.0,1278.1 828.7,1278.2 831.5,1278.2C834.2,1278.3 836.9,1278.3 839.7,1278.3C842.4,1278.4 845.1,1278.4 847.8,1278.4C850.6,1278.5 853.3,1278.5 856.0,1278.5C858.8,1278.5 861.5,1278.5 864.2,1278.6C866.9,1278.6 869.7,1278.6 872.4,1278.6C875.1,1278.6 877.8,1278.6 880.5,1278.6C883.3,1278.6 886.0,1278.7 888.7,1278.7C891.4,1278.7 894.1,1278.7 896.8,1278.7C899.6,1278.7 902.3,1278.7 905.0,1278.7C907.7,1278.8 910.4,1278.8 913.1,1278.8C915.8,1278.8 918.5,1278.8 921.2,1278.8C923.9,1278.8 926.6,1278.8 929.3,1278.8C932.0,1278.9 934.7,1278.9 937.4,1278.9C940.1,1278.9 942.8,1278.9 945.5,1278.9C948.2,1278.9 950.9,1278.9 953.5,1278.9C956.2,1278.9 958.9,1278.9 961.6,1278.9C964.3,1278.9 967.0,1278.9 969.7,1278.9C972.3,1278.9 975.0,1278.9 977.7,1278.9C980.4,1278.9 983.1,1278.9 985.8,1278.9C988.4,1278.9 991.1,1278.9 993.8,1278.9C996.5,1278.8 999.1,1278.8 1001.8,1278.8C1004.5,1278.8 1007.2,1278.8 1009.8,1278.8C1012.5,1278.7 1015.2,1278.7 1017.9,1278.7C1020.5,1278.7 1023.2,1278.6 1025.9,1278.6C1028.6,1278.6 1031.2,1278.5 1033.9,1278.5C1036.6,1278.4 1039.2,1278.4 1041.9,1278.4C1044.6,1278.3 1047.2,1278.3 1049.9,1278.2C1052.6,1278.2 1055.2,1278.1 1057.9,1278.0C1060.6,1278.0 1063.3,1277.9 1065.9,1277.8C1068.6,1277.8 1071.3,1277.7 1073.9,1277.6C1076.6,1277.6 1079.3,1277.5 1081.9,1277.4C1084.6,1277.3 1087.3,1277.2 1089.9,1277.1C1092.6,1277.0 1095.3,1276.9 1097.9,1276.8C1100.6,1276.7 1103.3,1276.6 1105.9,1276.5C1108.6,1276.4 1111.3,1276.3 1113.9,1276.2C1116.6,1276.1 1119.3,1275.9 1121.9,1275.8C1124.6,1275.7 1127.3,1275.5 1129.9,1275.4C1132.6,1275.3 1135.3,1275.1 1137.9,1275.0C1140.6,1274.8 1143.3,1274.7 1145.9,1274.5C1148.6,1274.3 1151.3,1274.2 1154.0,1274.0C1156.6,1273.8 1159.3,1273.6 1162.0,1273.4C1164.6,1273.3 1167.3,1273.1 1170.0,1272.9C1172.7,1272.7 1175.3,1272.5 1178.0,1272.3C1180.7,1272.1 1183.4,1271.9 1186.0,1271.6C1188.7,1271.4 1191.4,1271.2 1194.1,1271.0C1196.7,1270.8 1199.4,1270.5 1202.1,1270.3C1204.8,1270.1 1207.4,1269.8 1210.1,1269.6C1212.8,1269.4 1215.5,1269.1 1218.2,1268.9C1220.8,1268.6 1223.5,1268.4 1226.2,1268.1C1228.9,1267.9 1231.5,1267.6 1234.2,1267.3C1236.9,1267.1 1239.6,1266.8 1242.3,1266.5C1244.9,1266.3 1247.6,1266.0 1250.3,1265.7C1253.0,1265.4 1255.7,1265.1 1258.3,1264.9C1261.0,1264.6 1263.7,1264.3 1266.4,1264.0C1269.1,1263.7 1271.7,1263.4 1274.4,1263.1C1277.1,1262.8 1279.8,1262.5 1282.5,1262.2C1285.1,1261.9 1287.8,1261.6 1290.5,1261.3C1293.2,1261.0 1295.9,1260.7 1298.5,1260.4C1301.2,1260.1 1303.9,1259.8 1306.6,1259.5C1309.3,1259.1 1312.0,1258.8 1314.6,1258.5C1317.3,1258.2 1320.0,1257.9 1322.7,1257.5C1325.4,1257.2 1328.0,1256.9 1330.7,1256.6C1333.4,1256.3 1336.1,1255.9 1338.8,1255.6C1341.4,1255.3 1344.1,1254.9 1346.8,1254.6C1349.5,1254.3 1352.2,1254.0 1354.9,1253.6C1357.5,1253.3 1360.2,1253.0 1362.9,1252.6C1365.6,1252.3 1368.3,1252.0 1370.9,1251.6C1373.6,1251.3 1376.3,1250.9 1379.0,1250.6C1381.7,1250.3 1384.3,1249.9 1387.0,1249.6C1389.7,1249.3 1392.4,1248.9 1395.0,1248.6C1397.7,1248.3 1400.4,1247.9 1403.1,1247.6C1405.8,1247.2 1408.4,1246.9 1411.1,1246.6C1413.8,1246.2 1416.5,1245.9 1419.2,1245.6C1421.8,1245.2 1424.5,1244.9 1427.2,1244.6C1429.9,1244.2 1432.5,1243.9 1435.2,1243.6C1437.9,1243.2 1440.6,1242.9 1443.2,1242.6C1445.9,1242.2 1448.6,1241.9 1451.3,1241.6C1453.9,1241.2 1456.6,1240.9 1459.3,1240.6C1462.0,1240.3 1464.6,1239.9 1467.3,1239.6C1470.0,1239.3 1472.6,1239.0 1475.3,1238.6C1478.0,1238.3 1480.7,1238.0 1483.3,1237.7C1486.0,1237.4 1488.7,1237.1 1491.3,1236.7C1494.0,1236.4 1496.7,1236.1 1499.3,1235.8C1502.0,1235.5 1504.7,1235.2 1507.3,1234.9C1510.0,1234.6 1512.7,1234.3 1515.3,1234.0C1518.0,1233.7 1520.7,1233.4 1523.3,1233.1C1526.0,1232.8 1528.7,1232.5 1531.3,1232.2C1534.0,1231.9 1536.7,1231.6 1539.3,1231.4C1542.0,1231.1 1544.6,1230.8 1547.3,1230.5C1550.0,1230.3 1552.6,1230.0 1555.3,1229.7C1557.9,1229.4 1560.6,1229.2 1563.3,1228.9C1565.9,1228.7 1568.6,1228.4 1571.2,1228.1C1573.9,1227.9 1577.9,1227.5 1579.2,1227.4" stroke="#191970"/>
<path d="M421.3,895.8C421.6,897.1 422.3,901.0 422.8,903.6C423.4,906.2 423.9,908.8 424.4,911.4C424.9,914.0 425.5,916.6 426.0,919.3C426.6,921.9 427.1,924.6 427.7,927.2C428.2,929.9 428.8,932.6 429.4,935.2C430.0,937.9 430.6,940.6 431.2,943.3C431.8,946.0 432.4,948.7 433.0,951.4C433.6,954.1 434.3,956.8 434.9,959.5C435.6,962.2 436.3,964.9 436.9,967.6C437.6,970.3 438.3,973.0 439.0,975.7C439.7,978.4 440.4,981.1 441.2,983.8C441.9,986.5 442.7,989.2 443.5,991.9C444.2,994.6 445.0,997.3 445.8,1000.0C446.6,1002.7 447.5,1005.4 448.3,1008.1C449.2,1010.7 450.0,1013.4 450.9,1016.1C451.8,1018.7 452.7,1021.4 453.6,1024.0C454.6,1026.7 455.5,1029.3 456.5,1031.9C457.5,1034.6 458.5,1037.2 459.5,1039.8C460.5,1042.4 461.6,1045.0 462.6,1047.5C463.7,1050.1 464.8,1052.7 465.9,1055.2C467.0,1057.8 468.2,1060.3 469.3,1062.8C470.5,1065.3 471.7,1067.8 472.9,1070.3C474.2,1072.8 475.4,1075.2 476.7,1077.6C478.0,1080.1 479.3,1082.5 480.6,1084.9C482.0,1087.3 483.3,1089.7 484.7,1092.0C486.1,1094.4 487.6,1096.7 489.0,1099.0C490.5,1101.3 492.0,1103.6 493.5,1105.8C495.1,1108.1 496.6,1110.3 498.2,1112.5C499.8,1114.7 501.4,1116.9 503.1,1119.0C504.8,1121.2 506.5,1123.3 508.2,1125.3C509.9,1127.4 511.7,1129.5 513.5,1131.5C515.3,1133.5 517.2,1135.5 519.0,1137.5C520.9,1139.4 522.8,1141.3 524.7,1143.2C526.7,1145.1 528.7,1147.0 530.7,1148.8C532.7,1150.6 534.7,1152.4 536.8,1154.2C538.8,1155.9 540.9,1157.6 543.0,1159.3C545.2,1161.0 547.3,1162.6 549.5,1164.2C551.7,1165.8 553.9,1167.4 556.1,1168.9C558.4,1170.5 560.6,1172.0 562.9,1173.4C565.2,1174.9 567.5,1176.3 569.9,1177.6C572.2,1179.0 574.6,1180.3 577.0,1181.6C579.4,1182.9 581.8,1184.2 584.2,1185.4C586.7,1186.6 589.2,1187.7 591.6,1188.9C594.1,1190.0 596.6,1191.0 599.2,1192.1C601.7,1193.1 604.3,1194.1 606.8,1195.0C609.4,1196.0 612.0,1196.9 614.6,1197.7C617.2,1198.5 619.8,1199.3 622.5,1200.1C625.1,1200.8 627.8,1201.6 630.5,1202.2C633.2,1202.9 635.9,1203.5 638.6,1204.0C641.3,1204.6 644.0,1205.1 646.8,1205.5C649.5,1206.0 652.3,1206.4 655.1,1206.7C657.9,1207.1 660.7,1207.4 663.5,1207.6C666.3,1207.9 669.1,1208.1 671.9,1208.2C674.8,1208.4 677.6,1208.5 680.5,1208.5C683.3,1208.5 686.2,1208.5 689.0,1208.4C691.9,1208.3 696.3,1208.1 697.7,1208.0" stroke="#191970"/>
<path d="M423.1,895.8C423.4,897.1 424.1,901.1 424.6,903.7C425.1,906.3 425.6,909.0 426.2,911.6C426.8,914.3 427.4,916.9 428.0,919.6C428.6,922.3 429.3,924.9 429.9,927.6C430.6,930.2 431.3,932.9 432.0,935.5C432.7,938.2 433.5,940.8 434.3,943.5C435.0,946.1 435.8,948.8 436.7,951.4C437.5,954.1 438.3,956.7 439.2,959.4C440.1,962.0 441.0,964.6 441.9,967.2C442.9,969.9 443.8,972.5 444.8,975.1C445.8,977.7 446.8,980.3 447.8,982.9C448.9,985.5 449.9,988.1 451.0,990.6C452.1,993.2 453.2,995.8 454.4,998.3C455.5,1000.9 456.7,1003.4 457.9,1005.9C459.1,1008.4 460.3,1010.9 461.5,1013.4C462.8,1015.9 464.1,1018.4 465.4,1020.9C466.7,1023.3 468.0,1025.8 469.4,1028.2C470.7,1030.6 472.1,1033.0 473.5,1035.4C474.9,1037.8 476.4,1040.2 477.8,1042.5C479.3,1044.9 480.8,1047.2 482.3,1049.5C483.9,1051.8 485.4,1054.1 487.0,1056.3C488.6,1058.6 490.2,1060.8 491.8,1063.0C493.5,1065.3 495.1,1067.4 496.8,1069.6C498.5,1071.8 500.2,1073.9 502.0,1076.0C503.7,1078.1 505.5,1080.2 507.3,1082.2C509.1,1084.3 510.9,1086.3 512.8,1088.3C514.7,1090.3 516.5,1092.2 518.5,1094.1C520.4,1096.1 522.3,1098.0 524.3,1099.8C526.3,1101.7 528.3,1103.5 530.3,1105.3C532.4,1107.1 534.4,1108.9 536.5,1110.6C538.6,1112.3 540.7,1114.0 542.9,1115.6C545.0,1117.3 547.2,1118.9 549.4,1120.5C551.6,1122.0 553.8,1123.6 556.1,1125.0C558.4,1126.5 560.6,1128.0 563.0,1129.4C565.3,1130.8 567.6,1132.2 570.0,1133.5C572.3,1134.8 574.7,1136.1 577.1,1137.4C579.5,1138.6 582.0,1139.8 584.4,1141.0C586.9,1142.1 589.3,1143.2 591.8,1144.3C594.3,1145.4 596.9,1146.4 599.4,1147.4C601.9,1148.4 604.5,1149.3 607.1,1150.2C609.7,1151.0 612.2,1151.9 614.9,1152.7C617.5,1153.5 620.1,1154.2 622.8,1154.9C625.4,1155.6 628.1,1156.2 630.8,1156.8C633.4,1157.4 636.1,1157.9 638.9,1158.4C641.6,1158.9 644.3,1159.3 647.1,1159.7C649.8,1160.1 652.6,1160.4 655.3,1160.7C658.1,1161.0 660.9,1161.2 663.7,1161.3C666.5,1161.5 669.3,1161.6 672.1,1161.7C674.9,1161.7 677.7,1161.7 680.6,1161.7C683.4,1161.6 686.3,1161.5 689.1,1161.3C692.0,1161.1 696.3,1160.7 697.7,1160.6" stroke="#191970"/>
<path d="M448.4,889.5C449.6,890.1 453.2,892.0 455.6,893.3C458.0,894.5 460.4,895.8 462.8,897.0C465.2,898.3 467.6,899.6 470.0,900.8C472.3,902.1 474.7,903.4 477.1,904.6C479.5,905.9 481.9,907.2 484.3,908.5C486.7,909.7 489.1,911.0 491.5,912.3C493.9,913.6 496.3,914.9 498.6,916.2C501.0,917.4 503.4,918.7 505.8,920.0C508.2,921.3 510.6,922.6 513.0,923.9C515.4,925.2 517.8,926.5 520.1,927.8C522.5,929.1 524.9,930.4 527.3,931.7C529.7,933.0 532.1,934.3 534.5,935.6C536.9,936.9 539.3,938.2 541.6,939.5C544.0,940.8 546.4,942.1 548.8,943.4C551.2,944.7 553.6,946.0 556.0,947.4C558.4,948.7 560.8,950.0 563.1,951.3C565.5,952.6 567.9,953.9 570.3,955.2C572.7,956.5 575.1,957.8 577.5,959.1C579.9,960.4 582.3,961.7 584.7,963.0C587.1,964.3 589.5,965.6 591.9,966.9C594.3,968.2 596.7,969.5 599.0,970.8C601.4,972.1 603.8,973.4 606.2,974.7C608.6,976.0 611.0,977.3 613.4,978.6C615.8,979.9 618.2,981.2 620.6,982.5C623.0,983.8 625.4,985.1 627.8,986.4C630.3,987.7 632.7,988.9 635.1,990.2C637.5,991.5 639.9,992.8 642.3,994.1C644.7,995.3 647.1,996.6 649.5,997.9C651.9,999.2 654.3,1000.4 656.8,1001.7C659.2,1003.0 661.6,1004.2 664.0,1005.5C666.4,1006.7 668.8,1008.0 671.3,1009.2C673.7,1010.5 676.1,1011.7 678.5,1013.0C681.0,1014.2 683.4,1015.5 685.8,1016.7C688.2,1017.9 690.7,1019.2 693.1,1020.4C695.5,1021.6 698.0,1022.9 700.4,1024.1C702.8,1025.3 705.3,1026.5 707.7,1027.7C710.1,1028.9 712.6,1030.1 715.0,1031.3C717.5,1032.5 719.9,1033.7 722.4,1034.9C724.8,1036.1 727.3,1037.3 729.7,1038.5C732.2,1039.6 734.6,1040.8 737.1,1042.0C739.5,1043.2 742.0,1044.3 744.4,1045.5C746.9,1046.6 749.4,1047.8 751.8,1048.9C754.3,1050.1 756.8,1051.2 759.2,1052.3C761.7,1053.5 764.2,1054.6 766.6,1055.7C769.1,1056.8 771.6,1057.9 774.1,1059.0C776.6,1060.1 779.0,1061.2 781.5,1062.3C784.0,1063.4 786.5,1064.5 789.0,1065.6C791.5,1066.6 794.0,1067.7 796.5,1068.8C799.0,1069.8 801.5,1070.9 804.0,1071.9C806.5,1072.9 809.0,1074.0 811.5,1075.0C814.0,1076.0 816.5,1077.1 819.0,1078.1C821.6,1079.1 824.1,1080.1 826.6,1081.1C829.1,1082.1 831.6,1083.0 834.2,1084.0C836.7,1085.0 839.2,1086.0 841.8,1086.9C844.3,1087.9 846.8,1088.8 849.4,1089.8C851.9,1090.7 854.5,1091.6 857.0,1092.5C859.6,1093.5 862.1,1094.4 864.7,1095.3C867.2,1096.2 869.8,1097.0 872.4,1097.9C874.9,1098.8 877.5,1099.6 880.1,1100.5C882.7,1101.3 885.2,1102.1 887.8,1103.0C890.4,1103.8 893.0,1104.6 895.6,1105.4C898.2,1106.2 900.7,1106.9 903.3,1107.7C905.9,1108.4 908.5,1109.2 911.1,1109.9C913.8,1110.6 916.4,1111.4 919.0,1112.0C921.6,1112.7 924.2,1113.4 926.8,1114.1C929.5,1114.7 932.1,1115.4 934.7,1116.0C937.4,1116.6 940.0,1117.2 942.6,1117.8C945.3,1118.4 947.9,1119.0 950.6,1119.5C953.2,1120.1 955.9,1120.6 958.6,1121.1C961.2,1121.6 963.9,1122.1 966.6,1122.6C969.2,1123.0 971.9,1123.5 974.6,1123.9C977.3,1124.3 980.0,1124.7 982.7,1125.1C985.3,1125.5 988.0,1125.9 990.7,1126.2C993.4,1126.6 996.1,1126.9 998.8,1127.3C1001.6,1127.6 1004.3,1127.9 1007.0,1128.3C1009.7,1128.6 1012.4,1128.9 1015.1,1129.2C1017.8,1129.5 1020.5,1129.8 1023.2,1130.1C1025.9,1130.5 1028.6,1130.8 1031.4,1131.1C1034.1,1131.4 1036.8,1131.7 1039.5,1132.1C1042.2,1132.4 1044.9,1132.8 1047.6,1133.1C1050.3,1133.5 1053.0,1133.8 1055.7,1134.2C1058.4,1134.6 1061.1,1135.0 1063.8,1135.4C1066.5,1135.8 1069.2,1136.2 1071.8,1136.6C1074.5,1137.0 1077.2,1137.5 1079.9,1137.9C1082.6,1138.4 1085.3,1138.9 1087.9,1139.3C1090.6,1139.8 1093.3,1140.3 1095.9,1140.8C1098.6,1141.4 1101.3,1141.9 1103.9,1142.4C1106.6,1143.0 1109.3,1143.5 1111.9,1144.1C1114.6,1144.7 1117.2,1145.3 1119.8,1145.9C1122.5,1146.5 1125.1,1147.2 1127.8,1147.8C1130.4,1148.5 1133.0,1149.2 1135.7,1149.8C1138.3,1150.5 1140.9,1151.3 1143.5,1152.0C1146.1,1152.7 1148.8,1153.5 1151.4,1154.3C1154.0,1155.1 1156.6,1155.9 1159.2,1156.7C1161.8,1157.5 1164.4,1158.4 1166.9,1159.2C1169.5,1160.1 1172.1,1161.0 1174.7,1161.9C1177.3,1162.9 1181.1,1164.3 1182.4,1164.8" stroke="#191970"/>
<path d="M1178.0,292.7C1169.0,295.8 1135.5,307.1 1124.2,311.3C1112.9,315.6 1112.4,317.1 1110.0,318.2" stroke="#191970"/>
<path d="M1110.0,318.2C1108.7,318.8 1104.9,320.7 1102.4,321.8C1099.8,323.0 1097.2,324.0 1094.6,325.0C1092.0,325.9 1089.3,326.8 1086.6,327.6C1084.0,328.4 1081.3,329.1 1078.5,329.8C1075.8,330.4 1073.1,331.0 1070.3,331.6C1067.6,332.1 1064.8,332.6 1062.0,333.0C1059.2,333.5 1056.4,333.8 1053.6,334.2C1050.8,334.5 1048.0,334.8 1045.1,335.1C1042.3,335.4 1039.4,335.6 1036.6,335.8C1033.7,336.0 1030.9,336.2 1028.0,336.4C1025.1,336.5 1022.3,336.7 1019.4,336.8C1016.5,337.0 1013.6,337.1 1010.8,337.2C1007.9,337.4 1005.0,337.5 1002.2,337.6C999.3,337.8 996.4,337.9 993.6,338.1C990.7,338.2 987.9,338.4 985.0,338.6C982.2,338.8 979.4,339.0 976.6,339.3C973.8,339.5 971.0,339.8 968.2,340.1C965.4,340.4 962.6,340.8 959.9,341.2C957.1,341.6 954.4,342.1 951.7,342.6C949.0,343.1 946.3,343.6 943.6,344.3C940.9,344.9 938.3,345.6 935.7,346.4C933.1,347.1 930.5,347.9 927.9,348.9C925.3,349.8 922.8,350.8 920.3,351.8C917.8,352.9 915.3,354.1 912.9,355.3C910.5,356.6 908.1,358.0 905.7,359.4C903.4,360.9 901.0,362.4 898.8,364.1C896.5,365.8 894.2,367.6 892.0,369.5C889.8,371.4 887.7,373.4 885.6,375.6C883.5,377.7 880.4,381.3 879.4,382.4" stroke="#191970"/>
<path d="M879.4,382.4C879.0,383.7 877.6,387.6 876.7,390.2C875.9,392.7 875.0,395.3 874.1,397.9C873.3,400.5 872.4,403.1 871.5,405.7C870.7,408.3 869.8,410.9 869.0,413.5C868.1,416.1 867.3,418.7 866.5,421.3C865.6,423.9 864.8,426.5 864.0,429.1C863.1,431.7 862.3,434.3 861.5,437.0C860.7,439.6 859.9,442.2 859.0,444.8C858.2,447.4 857.4,450.0 856.6,452.6C855.8,455.3 855.0,457.9 854.2,460.5C853.5,463.1 852.7,465.7 851.9,468.4C851.1,471.0 850.3,473.6 849.5,476.3C848.8,478.9 848.0,481.5 847.2,484.1C846.5,486.8 845.7,489.4 844.9,492.0C844.2,494.7 843.4,497.3 842.7,499.9C841.9,502.6 841.2,505.2 840.4,507.9C839.7,510.5 838.9,513.1 838.2,515.8C837.5,518.4 836.7,521.1 836.0,523.7C835.2,526.4 834.5,529.0 833.8,531.6C833.1,534.3 832.3,536.9 831.6,539.6C830.9,542.2 830.2,544.9 829.5,547.5C828.7,550.2 828.0,552.8 827.3,555.5C826.6,558.1 825.9,560.8 825.2,563.4C824.5,566.1 823.8,568.7 823.1,571.4C822.4,574.0 821.7,576.7 821.0,579.3C820.3,582.0 819.6,584.7 818.9,587.3C818.2,590.0 817.5,592.6 816.8,595.3C816.1,597.9 815.4,600.6 814.7,603.2C814.0,605.9 813.3,608.6 812.6,611.2C812.0,613.9 811.3,616.5 810.6,619.2C809.9,621.8 809.2,624.5 808.6,627.2C807.9,629.8 807.2,632.5 806.5,635.1C805.9,637.8 805.2,640.5 804.5,643.1C803.9,645.8 803.2,648.5 802.5,651.1C801.9,653.8 801.2,656.4 800.6,659.1C799.9,661.8 799.3,664.4 798.6,667.1C798.0,669.8 797.4,672.4 796.7,675.1C796.1,677.8 795.5,680.4 794.8,683.1C794.2,685.8 793.6,688.5 793.0,691.1C792.4,693.8 791.7,696.5 791.1,699.1C790.5,701.8 789.9,704.5 789.3,707.2C788.7,709.9 788.2,712.5 787.6,715.2C787.0,717.9 786.4,720.6 785.8,723.2C785.3,725.9 784.7,728.6 784.2,731.3C783.6,734.0 783.0,736.7 782.5,739.4C782.0,742.0 781.4,744.7 780.9,747.4C780.4,750.1 779.8,752.8 779.3,755.5C778.8,758.2 778.3,760.9 777.8,763.6C777.3,766.3 776.8,769.0 776.3,771.7C775.8,774.4 775.4,777.1 774.9,779.8C774.4,782.5 774.0,785.2 773.5,787.9C773.1,790.6 772.4,794.6 772.2,796.0" stroke="#191970"/>
<path d="M1204.5,547.8C1203.7,548.9 1201.3,552.3 1199.7,554.5C1198.0,556.7 1196.4,558.9 1194.7,561.1C1193.1,563.3 1191.4,565.5 1189.7,567.7C1188.0,569.8 1186.3,572.0 1184.5,574.1C1182.8,576.2 1181.0,578.3 1179.2,580.4C1177.5,582.5 1175.7,584.6 1173.9,586.7C1172.1,588.7 1170.2,590.8 1168.4,592.8C1166.5,594.8 1164.7,596.8 1162.8,598.8C1160.9,600.8 1159.0,602.8 1157.1,604.7C1155.2,606.7 1153.3,608.6 1151.3,610.5C1149.4,612.4 1147.4,614.3 1145.5,616.2C1143.5,618.1 1141.5,620.0 1139.5,621.8C1137.5,623.6 1135.4,625.5 1133.4,627.3C1131.4,629.1 1129.3,630.8 1127.2,632.6C1125.1,634.4 1123.1,636.1 1121.0,637.8C1118.8,639.5 1116.7,641.2 1114.6,642.9C1112.5,644.6 1110.3,646.3 1108.1,647.9C1106.0,649.5 1103.8,651.2 1101.6,652.8C1099.4,654.3 1097.2,655.9 1095.0,657.5C1092.7,659.0 1090.5,660.6 1088.2,662.1C1086.0,663.6 1083.7,665.1 1081.4,666.5C1079.2,668.0 1076.9,669.4 1074.6,670.8C1072.2,672.3 1069.9,673.7 1067.6,675.0C1065.2,676.4 1062.9,677.8 1060.5,679.1C1058.2,680.4 1055.8,681.7 1053.4,683.0C1051.0,684.3 1048.6,685.5 1046.2,686.8C1043.8,688.0 1041.3,689.2 1038.9,690.4C1036.4,691.6 1034.0,692.7 1031.5,693.9C1029.0,695.0 1026.6,696.1 1024.1,697.2C1021.6,698.3 1019.1,699.3 1016.5,700.4C1014.0,701.4 1011.5,702.4 1009.0,703.4C1006.4,704.4 1003.9,705.3 1001.3,706.3C998.7,707.2 996.2,708.1 993.6,709.0C991.0,709.9 988.4,710.8 985.8,711.7C983.2,712.6 980.6,713.5 978.0,714.3C975.4,715.2 972.8,716.0 970.2,716.9C967.6,717.7 965.0,718.5 962.4,719.4C959.8,720.2 957.2,721.0 954.5,721.9C951.9,722.7 949.3,723.5 946.7,724.4C944.1,725.2 941.5,726.0 938.9,726.9C936.3,727.7 933.6,728.6 931.0,729.5C928.4,730.3 925.9,731.2 923.3,732.1C920.7,733.0 918.1,733.9 915.5,734.8C913.0,735.8 910.4,736.7 907.8,737.7C905.3,738.6 902.7,739.6 900.2,740.6C897.7,741.6 895.1,742.7 892.6,743.7C890.1,744.8 887.6,745.9 885.1,747.0C882.7,748.1 880.2,749.3 877.7,750.5C875.3,751.7 872.8,752.9 870.4,754.1C868.0,755.4 865.6,756.7 863.2,757.9C860.8,759.2 858.4,760.5 856.0,761.8C853.6,763.2 851.2,764.5 848.8,765.8C846.4,767.1 844.0,768.4 841.6,769.7C839.2,771.0 836.8,772.3 834.4,773.5C831.9,774.8 829.5,776.1 827.1,777.3C824.6,778.5 822.2,779.6 819.7,780.8C817.2,781.9 814.7,783.0 812.2,784.1C809.7,785.3 807.2,786.4 804.8,787.5C802.3,788.7 799.9,789.9 797.5,791.2C795.1,792.5 791.6,794.6 790.4,795.3" stroke="#191970"/>
<path d="M1213.0,547.8C1212.2,548.9 1209.9,552.2 1208.3,554.4C1206.8,556.6 1205.2,558.8 1203.6,561.0C1202.1,563.2 1200.5,565.4 1198.9,567.6C1197.4,569.9 1195.8,572.1 1194.2,574.3C1192.6,576.5 1191.0,578.7 1189.4,580.9C1187.8,583.1 1186.2,585.3 1184.6,587.5C1183.0,589.7 1181.3,591.9 1179.7,594.1C1178.1,596.3 1176.4,598.5 1174.8,600.7C1173.1,602.8 1171.4,605.0 1169.7,607.1C1168.1,609.3 1166.4,611.4 1164.6,613.6C1162.9,615.7 1161.2,617.8 1159.5,619.9C1157.7,622.0 1156.0,624.1 1154.2,626.1C1152.4,628.2 1150.6,630.2 1148.8,632.3C1147.0,634.3 1145.1,636.3 1143.3,638.3C1141.4,640.3 1139.6,642.2 1137.7,644.2C1135.8,646.1 1133.9,648.0 1131.9,649.9C1130.0,651.8 1128.0,653.7 1126.0,655.5C1124.1,657.3 1122.1,659.2 1120.0,660.9C1118.0,662.7 1115.9,664.5 1113.8,666.2C1111.8,667.9 1109.6,669.6 1107.5,671.2C1105.4,672.9 1103.2,674.5 1101.0,676.1C1098.9,677.7 1096.7,679.3 1094.4,680.8C1092.2,682.4 1090.0,683.9 1087.7,685.4C1085.5,686.9 1083.2,688.3 1080.9,689.8C1078.6,691.2 1076.2,692.6 1073.9,694.0C1071.6,695.4 1069.2,696.7 1066.9,698.1C1064.5,699.4 1062.1,700.7 1059.7,702.0C1057.3,703.2 1054.9,704.5 1052.5,705.7C1050.1,707.0 1047.6,708.2 1045.2,709.3C1042.7,710.5 1040.3,711.7 1037.8,712.8C1035.3,714.0 1032.9,715.1 1030.4,716.2C1027.9,717.3 1025.4,718.3 1022.9,719.4C1020.4,720.4 1017.9,721.5 1015.3,722.5C1012.8,723.5 1010.3,724.5 1007.8,725.5C1005.2,726.5 1002.7,727.5 1000.2,728.4C997.6,729.4 995.1,730.4 992.5,731.3C990.0,732.2 987.4,733.2 984.9,734.1C982.3,735.1 979.7,736.0 977.2,736.9C974.6,737.8 972.0,738.7 969.5,739.7C966.9,740.6 964.3,741.5 961.8,742.4C959.2,743.3 956.7,744.2 954.1,745.2C951.5,746.1 949.0,747.0 946.4,747.9C943.8,748.9 941.3,749.8 938.7,750.7C936.2,751.7 933.6,752.6 931.1,753.6C928.5,754.6 926.0,755.5 923.5,756.5C920.9,757.5 918.4,758.5 915.9,759.5C913.3,760.5 910.8,761.6 908.3,762.6C905.8,763.7 903.3,764.7 900.8,765.8C898.3,766.9 895.8,768.0 893.3,769.1C890.9,770.2 888.4,771.3 885.9,772.5C883.4,773.6 881.0,774.7 878.5,775.9C876.0,777.0 873.5,778.1 871.1,779.3C868.6,780.4 866.1,781.5 863.6,782.6C861.2,783.7 858.7,784.8 856.2,785.9C853.7,787.0 851.2,788.1 848.7,789.1C846.1,790.1 843.6,791.2 841.1,792.1C838.6,793.1 836.0,794.1 833.4,795.0C830.9,795.9 827.0,797.2 825.7,797.6" stroke="#191970"/>
<path d="M840.5,820.3C841.9,820.5 846.0,821.2 848.8,821.7C851.5,822.2 854.3,822.6 857.0,823.0C859.8,823.5 862.6,823.9 865.3,824.3C868.1,824.7 870.9,825.1 873.6,825.5C876.4,825.9 879.2,826.3 881.9,826.7C884.7,827.1 887.5,827.4 890.2,827.8C893.0,828.2 895.8,828.5 898.5,828.8C901.3,829.2 904.1,829.5 906.9,829.8C909.6,830.2 912.4,830.5 915.2,830.8C918.0,831.1 920.7,831.4 923.5,831.7C926.3,832.0 929.1,832.2 931.8,832.5C934.6,832.8 937.4,833.1 940.2,833.3C943.0,833.6 945.7,833.8 948.5,834.1C951.3,834.3 954.1,834.6 956.9,834.8C959.7,835.0 962.4,835.3 965.2,835.5C968.0,835.7 970.8,835.9 973.6,836.1C976.4,836.3 979.2,836.5 981.9,836.7C984.7,836.9 987.5,837.1 990.3,837.3C993.1,837.5 995.9,837.7 998.7,837.9C1001.5,838.1 1004.2,838.2 1007.0,838.4C1009.8,838.6 1012.6,838.8 1015.4,838.9C1018.2,839.1 1021.0,839.2 1023.8,839.4C1026.6,839.6 1029.3,839.7 1032.1,839.9C1034.9,840.0 1037.7,840.2 1040.5,840.3C1043.3,840.5 1046.1,840.6 1048.9,840.7C1051.7,840.9 1054.5,841.0 1057.3,841.2C1060.1,841.3 1062.8,841.4 1065.6,841.6C1068.4,841.7 1071.2,841.8 1074.0,842.0C1076.8,842.1 1079.6,842.2 1082.4,842.3C1085.2,842.5 1088.0,842.6 1090.8,842.7C1093.5,842.9 1096.3,843.0 1099.1,843.1C1101.9,843.2 1104.7,843.4 1107.5,843.5C1110.3,843.6 1113.1,843.7 1115.9,843.9C1118.7,844.0 1121.5,844.1 1124.2,844.3C1127.0,844.4 1129.8,844.5 1132.6,844.7C1135.4,844.8 1138.2,844.9 1141.0,845.1C1143.8,845.2 1146.6,845.3 1149.3,845.5C1152.1,845.6 1156.3,845.8 1157.7,845.9" stroke="#191970"/>
<path d="M798.5,834.0C799.8,834.3 803.8,835.3 806.5,835.9C809.2,836.5 811.8,837.2 814.5,837.8C817.2,838.3 819.9,838.9 822.5,839.5C825.2,840.1 827.9,840.6 830.6,841.2C833.2,841.7 835.9,842.3 838.6,842.8C841.3,843.3 844.0,843.8 846.7,844.3C849.4,844.8 852.1,845.3 854.8,845.8C857.4,846.3 860.1,846.8 862.8,847.2C865.5,847.7 868.2,848.1 870.9,848.5C873.6,849.0 876.3,849.4 879.0,849.8C881.8,850.2 884.5,850.6 887.2,851.0C889.9,851.4 892.6,851.8 895.3,852.1C898.0,852.5 900.7,852.9 903.4,853.2C906.1,853.6 908.9,853.9 911.6,854.2C914.3,854.6 917.0,854.9 919.7,855.2C922.5,855.5 925.2,855.8 927.9,856.1C930.6,856.4 933.3,856.6 936.1,856.9C938.8,857.2 941.5,857.4 944.2,857.7C947.0,857.9 949.7,858.2 952.4,858.4C955.2,858.7 957.9,858.9 960.6,859.1C963.4,859.3 966.1,859.5 968.8,859.7C971.5,859.9 974.3,860.1 977.0,860.3C979.8,860.5 982.5,860.7 985.2,860.8C988.0,861.0 990.7,861.2 993.4,861.3C996.2,861.5 998.9,861.6 1001.6,861.8C1004.4,861.9 1007.1,862.0 1009.9,862.2C1012.6,862.3 1015.3,862.4 1018.1,862.5C1020.8,862.6 1023.6,862.7 1026.3,862.8C1029.0,862.9 1031.8,863.0 1034.5,863.1C1037.3,863.2 1040.0,863.2 1042.7,863.3C1045.5,863.4 1048.2,863.5 1051.0,863.5C1053.7,863.6 1056.4,863.6 1059.2,863.7C1061.9,863.7 1064.7,863.8 1067.4,863.8C1070.2,863.8 1072.9,863.9 1075.6,863.9C1078.4,863.9 1081.1,864.0 1083.9,864.0C1086.6,864.0 1089.3,864.0 1092.1,864.0C1094.8,864.0 1097.5,864.0 1100.3,864.0C1103.0,864.0 1105.8,864.0 1108.5,864.0C1111.2,864.0 1114.0,864.0 1116.7,863.9C1119.4,863.9 1122.2,863.9 1124.9,863.9C1127.7,863.9 1130.4,863.8 1133.1,863.8C1135.9,863.8 1138.6,863.7 1141.3,863.7C1144.1,863.6 1146.8,863.6 1149.5,863.5C1152.2,863.5 1156.3,863.4 1157.7,863.4" stroke="#191970"/>
<path d="M798.5,834.8C799.8,835.3 803.6,836.7 806.1,837.7C808.7,838.6 811.2,839.6 813.7,840.6C816.3,841.6 818.8,842.6 821.3,843.6C823.9,844.6 826.4,845.6 828.9,846.6C831.4,847.6 833.9,848.7 836.5,849.7C839.0,850.7 841.5,851.7 844.0,852.8C846.6,853.8 849.1,854.8 851.6,855.9C854.1,856.9 856.6,857.9 859.1,859.0C861.7,860.0 864.2,861.1 866.7,862.1C869.2,863.1 871.7,864.2 874.3,865.2C876.8,866.2 879.3,867.2 881.8,868.3C884.4,869.3 886.9,870.3 889.4,871.3C892.0,872.3 894.5,873.3 897.0,874.3C899.6,875.3 902.1,876.3 904.6,877.3C907.2,878.3 909.7,879.3 912.3,880.2C914.8,881.2 917.4,882.1 919.9,883.1C922.5,884.0 925.1,885.0 927.6,885.9C930.2,886.8 932.8,887.7 935.3,888.6C937.9,889.5 940.5,890.4 943.1,891.2C945.7,892.1 948.2,893.0 950.8,893.8C953.4,894.6 956.0,895.5 958.6,896.3C961.2,897.1 963.8,897.9 966.4,898.7C969.0,899.5 971.7,900.3 974.3,901.0C976.9,901.8 979.5,902.5 982.1,903.3C984.8,904.0 987.4,904.7 990.0,905.4C992.7,906.1 995.3,906.8 997.9,907.5C1000.6,908.2 1003.2,908.8 1005.9,909.5C1008.5,910.1 1011.2,910.7 1013.8,911.3C1016.5,912.0 1019.1,912.6 1021.8,913.1C1024.5,913.7 1027.1,914.3 1029.8,914.8C1032.5,915.4 1035.2,915.9 1037.8,916.4C1040.5,917.0 1043.2,917.5 1045.9,917.9C1048.6,918.4 1051.3,918.9 1054.0,919.3C1056.7,919.8 1059.3,920.2 1062.0,920.6C1064.7,921.0 1067.5,921.4 1070.2,921.8C1072.9,922.2 1075.6,922.6 1078.3,922.9C1081.0,923.2 1083.7,923.6 1086.4,923.9C1089.2,924.2 1091.9,924.5 1094.6,924.7C1097.3,925.0 1100.1,925.2 1102.8,925.5C1105.5,925.7 1108.3,925.9 1111.0,926.1C1113.8,926.3 1116.5,926.5 1119.3,926.6C1122.0,926.8 1126.1,926.9 1127.5,927.0" stroke="#191970"/>
<path d="M827.0,824.6C828.3,825.1 832.0,826.7 834.6,827.8C837.1,828.8 839.6,829.8 842.1,830.9C844.7,831.9 847.2,832.9 849.7,833.9C852.3,834.9 854.8,835.9 857.4,836.9C859.9,837.9 862.5,838.9 865.0,839.9C867.6,840.9 870.1,841.8 872.7,842.8C875.3,843.8 877.8,844.7 880.4,845.6C883.0,846.6 885.5,847.5 888.1,848.4C890.7,849.4 893.3,850.3 895.8,851.2C898.4,852.1 901.0,853.0 903.6,853.9C906.2,854.8 908.8,855.6 911.4,856.5C914.0,857.4 916.6,858.3 919.2,859.1C921.8,860.0 924.4,860.8 927.0,861.6C929.6,862.5 932.2,863.3 934.8,864.1C937.4,865.0 940.0,865.8 942.7,866.6C945.3,867.4 947.9,868.2 950.5,869.0C953.2,869.7 955.8,870.5 958.4,871.3C961.0,872.1 963.7,872.8 966.3,873.6C968.9,874.3 971.6,875.1 974.2,875.8C976.9,876.5 979.5,877.3 982.2,878.0C984.8,878.7 987.4,879.4 990.1,880.1C992.7,880.8 995.4,881.5 998.1,882.2C1000.7,882.9 1003.4,883.5 1006.0,884.2C1008.7,884.9 1011.3,885.5 1014.0,886.2C1016.7,886.8 1019.3,887.5 1022.0,888.1C1024.7,888.7 1027.3,889.3 1030.0,890.0C1032.7,890.6 1035.4,891.2 1038.0,891.8C1040.7,892.4 1043.4,893.0 1046.1,893.5C1048.8,894.1 1051.4,894.7 1054.1,895.3C1056.8,895.8 1059.5,896.4 1062.2,896.9C1064.9,897.5 1067.5,898.0 1070.2,898.5C1072.9,899.1 1075.6,899.6 1078.3,900.1C1081.0,900.6 1083.7,901.1 1086.4,901.6C1089.1,902.1 1091.8,902.6 1094.5,903.1C1097.2,903.6 1099.9,904.0 1102.6,904.5C1105.3,905.0 1108.0,905.4 1110.7,905.9C1113.4,906.3 1116.1,906.7 1118.8,907.2C1121.5,907.6 1124.2,908.0 1126.9,908.4C1129.6,908.9 1132.3,909.3 1135.0,909.7C1137.8,910.0 1140.5,910.4 1143.2,910.8C1145.9,911.2 1148.6,911.6 1151.3,911.9C1154.0,912.3 1156.7,912.6 1159.5,913.0C1162.2,913.3 1166.2,913.8 1167.6,914.0" stroke="#191970"/>
<path d="M2007.0,1067.3C2005.8,1066.7 2002.3,1064.7 2000.0,1063.4C1997.6,1062.2 1995.3,1060.9 1992.9,1059.6C1990.5,1058.4 1988.2,1057.1 1985.8,1055.9C1983.4,1054.6 1981.0,1053.4 1978.7,1052.1C1976.3,1050.9 1973.9,1049.7 1971.5,1048.5C1969.1,1047.3 1966.7,1046.0 1964.3,1044.9C1961.9,1043.7 1959.5,1042.5 1957.1,1041.3C1954.7,1040.1 1952.3,1038.9 1949.8,1037.8C1947.4,1036.6 1945.0,1035.4 1942.6,1034.3C1940.1,1033.1 1937.7,1032.0 1935.2,1030.9C1932.8,1029.7 1930.4,1028.6 1927.9,1027.5C1925.5,1026.4 1923.0,1025.3 1920.6,1024.2C1918.1,1023.1 1915.6,1022.0 1913.2,1020.9C1910.7,1019.9 1908.2,1018.8 1905.8,1017.7C1903.3,1016.7 1900.8,1015.6 1898.3,1014.6C1895.8,1013.5 1893.4,1012.5 1890.9,1011.5C1888.4,1010.5 1885.9,1009.4 1883.4,1008.4C1880.9,1007.4 1878.4,1006.4 1875.9,1005.5C1873.4,1004.5 1870.9,1003.5 1868.4,1002.5C1865.8,1001.6 1863.3,1000.6 1860.8,999.7C1858.3,998.7 1855.8,997.8 1853.2,996.8C1850.7,995.9 1848.2,995.0 1845.6,994.1C1843.1,993.2 1840.6,992.3 1838.0,991.4C1835.5,990.5 1832.9,989.6 1830.4,988.8C1827.8,987.9 1825.3,987.0 1822.7,986.2C1820.2,985.3 1817.6,984.5 1815.0,983.7C1812.5,982.8 1809.9,982.0 1807.3,981.2C1804.8,980.4 1802.2,979.6 1799.6,978.8C1797.1,978.0 1794.5,977.3 1791.9,976.5C1789.3,975.7 1786.7,975.0 1784.1,974.2C1781.6,973.5 1779.0,972.8 1776.4,972.0C1773.8,971.3 1771.2,970.6 1768.6,969.9C1766.0,969.2 1763.4,968.5 1760.8,967.8C1758.2,967.2 1755.6,966.5 1753.0,965.8C1750.4,965.2 1747.8,964.5 1745.1,963.9C1742.5,963.2 1739.9,962.6 1737.3,962.0C1734.7,961.4 1732.1,960.8 1729.4,960.2C1726.8,959.6 1724.2,959.0 1721.6,958.5C1718.9,957.9 1716.3,957.3 1713.7,956.8C1711.0,956.3 1708.4,955.7 1705.8,955.2C1703.1,954.7 1700.5,954.2 1697.9,953.7C1695.2,953.2 1692.6,952.7 1689.9,952.2C1687.3,951.7 1684.7,951.3 1682.0,950.8C1679.4,950.4 1676.7,949.9 1674.1,949.5C1671.4,949.1 1668.8,948.7 1666.1,948.3C1663.5,947.9 1660.8,947.5 1658.1,947.1C1655.5,946.7 1652.8,946.3 1650.2,946.0C1647.5,945.6 1644.8,945.3 1642.2,945.0C1639.5,944.6 1636.9,944.3 1634.2,944.0C1631.5,943.7 1628.9,943.4 1626.2,943.1C1623.5,942.9 1620.9,942.6 1618.2,942.3C1615.5,942.1 1612.8,941.8 1610.2,941.6C1607.5,941.4 1604.8,941.2 1602.2,941.0C1599.5,940.8 1596.8,940.6 1594.1,940.4C1591.5,940.2 1588.8,940.0 1586.1,939.9C1583.4,939.7 1580.7,939.6 1578.1,939.5C1575.4,939.3 1572.7,939.2 1570.0,939.1C1567.3,939.0 1564.7,939.0 1562.0,938.9C1559.3,938.8 1556.6,938.8 1553.9,938.7C1551.3,938.7 1548.6,938.6 1545.9,938.6C1543.2,938.6 1540.5,938.6 1537.8,938.6C1535.2,938.6 1532.5,938.6 1529.8,938.7C1527.1,938.7 1524.4,938.7 1521.7,938.8C1519.0,938.9 1516.4,938.9 1513.7,939.0C1511.0,939.1 1508.3,939.2 1505.6,939.3C1502.9,939.4 1500.3,939.5 1497.6,939.7C1494.9,939.8 1492.2,939.9 1489.5,940.1C1486.8,940.2 1484.1,940.4 1481.5,940.6C1478.8,940.7 1476.1,940.9 1473.4,941.1C1470.7,941.3 1468.0,941.5 1465.3,941.7C1462.7,941.9 1460.0,942.1 1457.3,942.4C1454.6,942.6 1451.9,942.8 1449.2,943.0C1446.6,943.3 1443.9,943.5 1441.2,943.8C1438.5,944.0 1435.8,944.3 1433.1,944.6C1430.5,944.8 1427.8,945.1 1425.1,945.4C1422.4,945.7 1419.7,946.0 1417.1,946.2C1414.4,946.5 1411.7,946.8 1409.0,947.1C1406.3,947.4 1403.7,947.7 1401.0,948.1C1398.3,948.4 1395.6,948.7 1392.9,949.0C1390.3,949.3 1387.6,949.6 1384.9,950.0C1382.2,950.3 1379.6,950.6 1376.9,951.0C1374.2,951.3 1371.6,951.6 1368.9,952.0C1366.2,952.3 1363.5,952.6 1360.9,953.0C1358.2,953.3 1355.5,953.7 1352.8,954.0C1350.2,954.4 1347.5,954.7 1344.8,955.1C1342.2,955.4 1339.5,955.7 1336.8,956.1C1334.2,956.4 1331.5,956.8 1328.8,957.1C1326.1,957.5 1323.5,957.8 1320.8,958.2C1318.1,958.5 1315.5,958.8 1312.8,959.2C1310.1,959.5 1307.5,959.9 1304.8,960.2C1302.1,960.5 1299.5,960.9 1296.8,961.2C1294.1,961.5 1291.5,961.9 1288.8,962.2C1286.1,962.5 1283.5,962.8 1280.8,963.2C1278.1,963.5 1275.5,963.8 1272.8,964.1C1270.1,964.4 1267.5,964.7 1264.8,965.0C1262.1,965.3 1259.4,965.6 1256.8,965.9C1254.1,966.2 1251.4,966.5 1248.8,966.8C1246.1,967.1 1243.4,967.3 1240.8,967.6C1238.1,967.9 1235.4,968.1 1232.8,968.4C1230.1,968.6 1227.4,968.9 1224.8,969.1C1222.1,969.4 1219.4,969.6 1216.7,969.8C1214.1,970.0 1211.4,970.2 1208.7,970.4C1206.1,970.7 1203.4,970.8 1200.7,971.0C1198.1,971.2 1195.4,971.4 1192.7,971.6C1190.0,971.7 1187.4,971.9 1184.7,972.1C1182.0,972.2 1179.3,972.4 1176.7,972.5C1174.0,972.7 1171.3,972.8 1168.7,973.0C1166.0,973.1 1163.3,973.2 1160.6,973.4C1158.0,973.5 1155.3,973.6 1152.6,973.8C1150.0,973.9 1147.3,974.1 1144.6,974.2C1141.9,974.3 1139.3,974.5 1136.6,974.6C1133.9,974.8 1131.3,974.9 1128.6,975.1C1125.9,975.3 1123.3,975.4 1120.6,975.6C1117.9,975.8 1115.3,975.9 1112.6,976.1C1109.9,976.3 1107.3,976.5 1104.6,976.7C1101.9,976.9 1099.3,977.1 1096.6,977.4C1093.9,977.6 1091.3,977.8 1088.6,978.1C1086.0,978.4 1083.3,978.6 1080.6,978.9C1078.0,979.2 1075.3,979.5 1072.7,979.8C1070.0,980.1 1067.4,980.5 1064.7,980.8C1062.1,981.2 1059.4,981.6 1056.8,982.0C1054.1,982.4 1051.5,982.8 1048.8,983.2C1046.2,983.6 1043.5,984.1 1040.9,984.6C1038.3,985.1 1035.6,985.6 1033.0,986.1C1030.3,986.7 1027.7,987.2 1025.1,987.8C1022.4,988.4 1019.8,989.0 1017.2,989.6C1014.6,990.3 1011.9,991.0 1009.3,991.6C1006.7,992.3 1004.1,993.0 1001.4,993.7C998.8,994.4 996.2,995.1 993.5,995.8C990.9,996.5 988.3,997.1 985.6,997.8C983.0,998.4 980.4,999.0 977.7,999.6C975.1,1000.1 972.4,1000.6 969.8,1001.1C967.1,1001.5 964.5,1001.9 961.8,1002.3C959.1,1002.6 956.4,1002.8 953.7,1003.0C951.1,1003.2 948.4,1003.2 945.6,1003.2C942.9,1003.2 940.2,1003.0 937.5,1002.8C934.7,1002.5 932.0,1002.2 929.3,1001.7C926.6,1001.2 923.8,1000.7 921.1,1000.0C918.5,999.3 915.8,998.5 913.2,997.6C910.6,996.7 908.0,995.7 905.5,994.6C903.0,993.4 900.6,992.2 898.2,990.9C895.9,989.6 893.6,988.2 891.4,986.6C889.3,985.1 887.2,983.5 885.3,981.8C883.3,980.1 881.5,978.3 879.8,976.4C878.1,974.5 876.5,972.5 875.0,970.4C873.6,968.3 872.2,966.2 871.0,964.0C869.8,961.7 868.7,959.4 867.8,957.1C866.9,954.7 866.1,952.3 865.4,949.8C864.7,947.3 864.2,944.8 863.8,942.2C863.5,939.6 863.2,937.0 863.1,934.3C863.0,931.6 863.1,928.9 863.2,926.1C863.3,923.4 863.5,920.6 863.7,917.8C864.0,915.0 864.4,912.2 864.7,909.4C865.1,906.6 865.5,903.8 865.8,901.0C866.2,898.2 866.6,895.4 867.0,892.6C867.4,889.8 867.7,887.1 868.0,884.3C868.2,881.6 868.5,878.9 868.6,876.3C868.7,873.6 868.7,871.0 868.6,868.4C868.5,865.9 868.3,863.4 867.9,860.9C867.5,858.5 867.0,856.1 866.3,853.9C865.6,851.6 864.7,849.4 863.6,847.3C862.5,845.2 861.2,843.2 859.6,841.3C858.0,839.4 856.2,837.6 854.1,836.0C852.0,834.4 849.7,832.9 847.0,831.5C844.3,830.2 839.5,828.6 838.0,828.0" stroke="#191970"/>
<path d="M1284.5,386.3C1285.9,386.3 1290.1,386.2 1292.9,386.1C1295.7,386.0 1298.5,386.0 1301.3,385.9C1304.1,385.8 1307.0,385.8 1309.8,385.7C1312.6,385.7 1315.4,385.6 1318.2,385.6C1321.0,385.5 1323.8,385.4 1326.6,385.4C1329.4,385.3 1332.2,385.3 1335.0,385.2C1337.8,385.2 1340.6,385.1 1343.4,385.1C1346.3,385.0 1349.1,385.0 1351.9,384.9C1354.7,384.9 1357.5,384.9 1360.3,384.8C1363.1,384.8 1365.9,384.7 1368.7,384.7C1371.5,384.7 1374.3,384.6 1377.1,384.6C1379.9,384.6 1382.7,384.5 1385.6,384.5C1388.4,384.5 1391.2,384.4 1394.0,384.4C1396.8,384.4 1399.6,384.4 1402.4,384.4C1405.2,384.3 1408.0,384.3 1410.8,384.3C1413.6,384.3 1416.4,384.3 1419.2,384.3C1422.1,384.2 1424.9,384.2 1427.7,384.2C1430.5,384.2 1433.3,384.2 1436.1,384.2C1438.9,384.2 1441.7,384.2 1444.5,384.2C1447.3,384.2 1450.1,384.2 1452.9,384.2C1455.7,384.2 1458.5,384.3 1461.4,384.3C1464.2,384.3 1467.0,384.3 1469.8,384.3C1472.6,384.3 1475.4,384.4 1478.2,384.4C1481.0,384.4 1483.8,384.4 1486.6,384.5C1489.4,384.5 1492.2,384.5 1495.0,384.6C1497.8,384.6 1500.7,384.6 1503.5,384.7C1506.3,384.7 1509.1,384.8 1511.9,384.8C1514.7,384.8 1517.5,384.9 1520.3,385.0C1523.1,385.0 1525.9,385.1 1528.7,385.1C1531.5,385.2 1534.3,385.2 1537.1,385.3C1539.9,385.4 1542.8,385.4 1545.6,385.5C1548.4,385.6 1551.2,385.7 1554.0,385.8C1556.8,385.8 1561.0,386.0 1562.4,386.0" stroke="#191970"/>
<path d="M1284.5,399.5C1285.9,399.6 1290.1,399.7 1292.9,399.8C1295.7,399.9 1298.5,400.0 1301.3,400.1C1304.1,400.2 1307.0,400.3 1309.8,400.4C1312.6,400.4 1315.4,400.5 1318.2,400.6C1321.0,400.7 1323.8,400.7 1326.6,400.8C1329.4,400.9 1332.2,401.0 1335.0,401.0C1337.8,401.1 1340.6,401.1 1343.4,401.2C1346.2,401.3 1349.1,401.3 1351.9,401.4C1354.7,401.4 1357.5,401.5 1360.3,401.5C1363.1,401.6 1365.9,401.6 1368.7,401.6C1371.5,401.7 1374.3,401.7 1377.1,401.7C1379.9,401.8 1382.7,401.8 1385.5,401.8C1388.4,401.9 1391.2,401.9 1394.0,401.9C1396.8,401.9 1399.6,401.9 1402.4,402.0C1405.2,402.0 1408.0,402.0 1410.8,402.0C1413.6,402.0 1416.4,402.0 1419.2,402.0C1422.0,402.0 1424.9,402.0 1427.7,402.0C1430.5,402.0 1433.3,402.0 1436.1,402.0C1438.9,402.0 1441.7,402.0 1444.5,401.9C1447.3,401.9 1450.1,401.9 1452.9,401.9C1455.7,401.9 1458.5,401.9 1461.3,401.8C1464.2,401.8 1467.0,401.8 1469.8,401.7C1472.6,401.7 1475.4,401.7 1478.2,401.6C1481.0,401.6 1483.8,401.6 1486.6,401.5C1489.4,401.5 1492.2,401.4 1495.0,401.4C1497.8,401.3 1500.7,401.3 1503.5,401.2C1506.3,401.2 1509.1,401.1 1511.9,401.1C1514.7,401.0 1517.5,401.0 1520.3,400.9C1523.1,400.8 1525.9,400.8 1528.7,400.7C1531.5,400.6 1534.3,400.6 1537.1,400.5C1539.9,400.4 1542.8,400.4 1545.6,400.3C1548.4,400.2 1551.2,400.1 1554.0,400.0C1556.8,400.0 1561.0,399.8 1562.4,399.8" stroke="#191970"/>
<path d="M2062.4,608.0C2102.0,634.0 2256.2,735.0 2300.0,763.7C2343.8,792.4 2309.2,769.4 2325.3,780.0C2341.4,790.6 2384.8,819.4 2396.7,827.3" stroke="#191970"/>
<path d="M73.4,226.5C73.7,225.1 74.6,220.9 75.3,218.2C76.0,215.5 76.7,212.8 77.5,210.1C78.3,207.4 79.2,204.8 80.0,202.2C80.9,199.6 81.9,197.1 82.8,194.6C83.8,192.0 84.9,189.6 85.9,187.1C87.0,184.7 88.1,182.2 89.3,179.8C90.5,177.5 91.7,175.1 93.0,172.8C94.2,170.5 95.5,168.2 96.8,165.9C98.2,163.6 99.6,161.4 101.0,159.2C102.4,157.0 103.9,154.8 105.4,152.7C106.9,150.5 108.4,148.4 110.0,146.3C111.6,144.2 113.2,142.1 114.8,140.1C116.5,138.1 118.2,136.0 119.9,134.1C121.6,132.1 123.4,130.1 125.2,128.2C126.9,126.2 128.8,124.3 130.6,122.4C132.5,120.5 134.4,118.6 136.3,116.8C138.2,114.9 140.1,113.1 142.1,111.3C144.1,109.5 146.1,107.7 148.1,105.9C150.1,104.2 152.2,102.4 154.3,100.7C156.3,99.0 158.4,97.3 160.6,95.6C162.7,93.9 164.9,92.2 167.0,90.6C169.2,88.9 171.4,87.3 173.6,85.7C175.8,84.1 178.1,82.5 180.3,80.9C182.6,79.3 184.9,77.7 187.2,76.2C189.4,74.6 191.8,73.1 194.1,71.6C196.4,70.1 198.8,68.5 201.1,67.1C203.5,65.6 205.8,64.1 208.2,62.6C210.6,61.2 213.0,59.8 215.4,58.4C217.8,57.0 220.3,55.6 222.7,54.2C225.1,52.9 227.6,51.5 230.0,50.2C232.5,48.9 234.9,47.6 237.4,46.4C239.9,45.2 242.4,44.0 244.8,42.8C247.3,41.6 249.8,40.5 252.3,39.4C254.8,38.3 257.3,37.2 259.8,36.2C262.3,35.2 264.9,34.2 267.4,33.3C269.9,32.3 272.4,31.4 275.0,30.5C277.5,29.6 280.0,28.8 282.6,28.0C285.1,27.2 287.7,26.4 290.2,25.7C292.8,24.9 295.3,24.2 297.9,23.5C300.4,22.9 303.0,22.2 305.6,21.6C308.2,21.0 310.7,20.4 313.3,19.9C315.9,19.3 318.5,18.8 321.1,18.3C323.7,17.8 326.3,17.3 328.9,16.9C331.5,16.4 334.1,16.0 336.7,15.7C339.3,15.3 341.9,14.9 344.5,14.6C347.1,14.3 349.7,13.9 352.4,13.7C355.0,13.4 357.6,13.1 360.2,12.9C362.9,12.7 365.5,12.5 368.1,12.3C370.8,12.1 373.4,11.9 376.1,11.8C378.7,11.6 381.4,11.5 384.0,11.4C386.7,11.3 389.3,11.2 392.0,11.2C394.6,11.1 397.3,11.1 400.0,11.0C402.6,11.0 405.3,11.0 408.0,11.0C410.6,11.0 413.3,11.1 416.0,11.1C418.6,11.1 421.3,11.2 424.0,11.3C426.7,11.4 429.4,11.5 432.0,11.6C434.7,11.7 437.4,11.8 440.1,11.9C442.8,12.0 445.5,12.2 448.2,12.4C450.9,12.5 453.5,12.7 456.2,12.9C458.9,13.0 461.6,13.2 464.3,13.4C467.0,13.6 469.7,13.8 472.4,14.1C475.1,14.3 477.8,14.5 480.5,14.7C483.2,15.0 486.0,15.2 488.7,15.5C491.4,15.7 494.1,16.0 496.8,16.2C499.5,16.5 502.2,16.8 504.9,17.1C507.6,17.3 510.3,17.6 513.0,17.9C515.8,18.2 518.5,18.5 521.2,18.7C523.9,19.0 526.6,19.3 529.3,19.6C532.0,19.9 534.8,20.2 537.5,20.5C540.2,20.8 542.9,21.1 545.6,21.4C548.3,21.7 551.0,22.0 553.8,22.2C556.5,22.5 559.2,22.8 561.9,23.1C564.6,23.4 567.3,23.7 570.1,24.0C572.8,24.2 575.5,24.5 578.2,24.8C580.9,25.1 583.6,25.3 586.3,25.6C589.0,25.8 591.8,26.1 594.5,26.3C597.2,26.6 599.9,26.8 602.6,27.1C605.3,27.3 608.0,27.5 610.7,27.7C613.4,28.0 616.1,28.2 618.8,28.4C621.5,28.6 624.2,28.7 626.9,28.9C629.6,29.1 632.3,29.3 635.0,29.4C637.7,29.6 640.4,29.7 643.1,29.8C645.8,30.0 648.5,30.1 651.2,30.2C653.9,30.3 656.6,30.4 659.3,30.5C662.0,30.6 664.7,30.7 667.4,30.8C670.0,30.9 672.7,30.9 675.4,31.0C678.1,31.1 680.8,31.1 683.5,31.2C686.2,31.2 688.8,31.3 691.5,31.3C694.2,31.3 696.9,31.4 699.6,31.4C702.3,31.4 704.9,31.4 707.6,31.4C710.3,31.4 713.0,31.5 715.7,31.5C718.3,31.5 721.0,31.5 723.7,31.5C726.4,31.4 729.0,31.4 731.7,31.4C734.4,31.4 737.1,31.4 739.7,31.4C742.4,31.4 745.1,31.3 747.8,31.3C750.5,31.3 753.1,31.3 755.8,31.3C758.5,31.2 761.2,31.2 763.8,31.2C766.5,31.2 769.2,31.1 771.9,31.1C774.5,31.1 777.2,31.0 779.9,31.0C782.6,31.0 785.2,31.0 787.9,30.9C790.6,30.9 793.3,30.9 795.9,30.9C798.6,30.8 801.3,30.8 804.0,30.8C806.6,30.8 809.3,30.8 812.0,30.8C814.7,30.7 817.3,30.7 820.0,30.7C822.7,30.7 825.4,30.7 828.1,30.7C830.7,30.7 833.4,30.7 836.1,30.7C838.8,30.7 841.5,30.8 844.1,30.8C846.8,30.8 849.5,30.8 852.2,30.9C854.9,30.9 857.6,30.9 860.2,31.0C862.9,31.0 865.6,31.1 868.3,31.1C871.0,31.2 873.7,31.2 876.4,31.3C879.1,31.4 881.7,31.5 884.4,31.6C887.1,31.7 889.8,31.8 892.5,31.9C895.2,32.0 897.9,32.1 900.6,32.2C903.3,32.3 906.0,32.5 908.7,32.6C911.4,32.8 914.1,33.0 916.8,33.1C919.5,33.3 922.2,33.5 924.9,33.7C927.6,34.0 930.3,34.2 932.9,34.5C935.6,34.7 938.3,35.0 941.0,35.3C943.7,35.6 946.3,35.9 949.0,36.3C951.7,36.7 954.4,37.0 957.0,37.4C959.7,37.9 962.3,38.3 965.0,38.8C967.6,39.2 970.3,39.8 972.9,40.3C975.6,40.8 978.2,41.4 980.8,42.0C983.4,42.6 986.0,43.3 988.6,44.0C991.2,44.6 993.8,45.4 996.4,46.1C999.0,46.9 1001.6,47.7 1004.1,48.5C1006.7,49.3 1009.3,50.2 1011.8,51.1C1014.3,52.0 1016.9,52.9 1019.4,53.9C1021.9,54.8 1024.4,55.8 1026.9,56.9C1029.4,57.9 1031.9,59.0 1034.4,60.0C1036.9,61.1 1039.3,62.3 1041.8,63.4C1044.2,64.6 1046.7,65.7 1049.1,66.9C1051.5,68.1 1053.9,69.4 1056.3,70.6C1058.7,71.9 1061.1,73.2 1063.5,74.5C1065.9,75.8 1068.2,77.2 1070.5,78.6C1072.9,79.9 1075.2,81.4 1077.5,82.8C1079.8,84.2 1082.1,85.7 1084.3,87.2C1086.6,88.7 1088.9,90.2 1091.1,91.7C1093.3,93.2 1095.5,94.8 1097.7,96.4C1099.9,98.0 1102.1,99.6 1104.2,101.3C1106.4,102.9 1108.5,104.6 1110.6,106.3C1112.7,108.0 1114.8,109.7 1116.9,111.4C1118.9,113.2 1121.0,115.0 1123.0,116.8C1125.0,118.6 1127.0,120.4 1128.9,122.2C1130.9,124.1 1132.9,125.9 1134.8,127.8C1136.7,129.7 1138.6,131.6 1140.4,133.6C1142.3,135.5 1144.2,137.5 1146.0,139.5C1147.8,141.5 1149.6,143.5 1151.3,145.5C1153.1,147.5 1154.8,149.6 1156.5,151.7C1158.2,153.8 1159.9,155.9 1161.5,158.0C1163.2,160.1 1164.8,162.3 1166.4,164.4C1167.9,166.6 1169.5,168.8 1171.0,171.0C1172.5,173.2 1174.0,175.4 1175.5,177.7C1176.9,179.9 1178.4,182.2 1179.7,184.5C1181.1,186.8 1182.5,189.1 1183.8,191.4C1185.1,193.8 1186.4,196.1 1187.7,198.5C1188.9,200.9 1190.1,203.2 1191.3,205.7C1192.5,208.1 1193.7,210.5 1194.8,212.9C1195.9,215.4 1196.9,217.9 1198.0,220.4C1199.0,222.8 1200.0,225.3 1201.0,227.9C1201.9,230.4 1202.8,232.9 1203.7,235.5C1204.6,238.0 1205.4,240.6 1206.2,243.2C1207.0,245.8 1207.8,248.4 1208.5,251.0C1209.2,253.7 1209.9,256.3 1210.5,259.0C1211.2,261.6 1212.0,265.7 1212.3,267.0" stroke="#9a32cd" stroke-dasharray="8,8"/>
<path d="M84.1,230.8C85.0,229.7 87.8,226.5 89.6,224.4C91.5,222.3 93.5,220.3 95.4,218.3C97.3,216.3 99.3,214.3 101.3,212.4C103.4,210.5 105.4,208.6 107.5,206.8C109.6,205.0 111.7,203.2 113.8,201.5C115.9,199.8 118.1,198.1 120.3,196.4C122.5,194.8 124.7,193.2 126.9,191.6C129.2,190.1 131.4,188.6 133.7,187.1C136.0,185.6 138.3,184.2 140.7,182.7C143.0,181.3 145.4,180.0 147.7,178.7C150.1,177.3 152.5,176.0 155.0,174.8C157.4,173.5 159.8,172.3 162.3,171.1C164.8,169.9 167.3,168.8 169.8,167.7C172.3,166.6 174.8,165.5 177.3,164.5C179.9,163.4 182.4,162.4 185.0,161.4C187.6,160.4 190.2,159.5 192.8,158.6C195.4,157.6 198.0,156.8 200.6,155.9C203.2,155.0 205.9,154.2 208.5,153.4C211.2,152.6 213.9,151.8 216.5,151.1C219.2,150.4 221.9,149.6 224.6,148.9C227.3,148.3 230.0,147.6 232.7,147.0C235.4,146.3 238.1,145.7 240.9,145.1C243.6,144.5 246.3,143.9 249.1,143.4C251.8,142.9 254.6,142.3 257.3,141.8C260.1,141.3 262.8,140.9 265.6,140.4C268.3,140.0 271.1,139.5 273.8,139.1C276.6,138.7 279.4,138.3 282.1,137.9C284.9,137.5 287.6,137.2 290.4,136.8C293.1,136.5 295.9,136.2 298.7,135.9C301.4,135.5 304.2,135.3 306.9,135.0C309.7,134.7 312.4,134.4 315.1,134.2C317.9,133.9 320.6,133.7 323.4,133.5C326.1,133.3 328.8,133.0 331.5,132.9C334.2,132.7 336.9,132.5 339.6,132.3C342.3,132.1 346.4,131.9 347.7,131.8" stroke="#9a32cd" stroke-dasharray="8,8"/>
<path d="M137.8,238.0C139.1,237.8 143.1,237.3 145.8,236.9C148.4,236.6 151.1,236.2 153.8,235.9C156.4,235.5 159.1,235.2 161.8,234.8C164.4,234.5 167.1,234.1 169.8,233.8C172.4,233.5 175.1,233.1 177.7,232.8C180.4,232.5 183.1,232.1 185.7,231.8C188.4,231.5 191.1,231.2 193.7,230.8C196.4,230.5 199.1,230.2 201.7,229.9C204.4,229.6 207.1,229.2 209.7,228.9C212.4,228.6 215.1,228.3 217.7,228.0C220.4,227.7 223.1,227.4 225.7,227.1C228.4,226.8 231.1,226.5 233.7,226.2C236.4,225.9 239.1,225.6 241.7,225.3C244.4,225.0 247.1,224.7 249.7,224.4C252.4,224.2 255.1,223.9 257.7,223.6C260.4,223.3 263.1,223.0 265.7,222.8C268.4,222.5 271.1,222.2 273.7,221.9C276.4,221.7 279.1,221.4 281.8,221.1C284.4,220.8 287.1,220.6 289.8,220.3C292.4,220.1 295.1,219.8 297.8,219.5C300.4,219.3 303.1,219.0 305.8,218.8C308.5,218.5 311.1,218.3 313.8,218.0C316.5,217.8 319.1,217.5 321.8,217.3C324.5,217.0 327.2,216.8 329.8,216.5C332.5,216.3 335.2,216.1 337.8,215.8C340.5,215.6 343.2,215.4 345.9,215.1C348.5,214.9 351.2,214.7 353.9,214.4C356.6,214.2 359.2,214.0 361.9,213.8C364.6,213.5 367.2,213.3 369.9,213.1C372.6,212.9 375.3,212.7 377.9,212.5C380.6,212.2 383.3,212.0 386.0,211.8C388.6,211.6 391.3,211.4 394.0,211.2C396.7,211.0 399.3,210.8 402.0,210.6C404.7,210.4 407.4,210.2 410.0,210.0C412.7,209.8 415.4,209.6 418.1,209.4C420.7,209.2 423.4,209.0 426.1,208.8C428.8,208.6 431.4,208.4 434.1,208.2C436.8,208.0 439.5,207.9 442.1,207.7C444.8,207.5 447.5,207.3 450.2,207.1C452.9,206.9 455.5,206.8 458.2,206.6C460.9,206.4 463.6,206.2 466.2,206.1C468.9,205.9 471.6,205.7 474.3,205.6C476.9,205.4 479.6,205.2 482.3,205.1C485.0,204.9 487.7,204.7 490.3,204.6C493.0,204.4 495.7,204.2 498.4,204.1C501.0,203.9 503.7,203.8 506.4,203.6C509.1,203.5 511.8,203.3 514.4,203.2C517.1,203.0 519.8,202.8 522.5,202.7C525.2,202.5 527.8,202.4 530.5,202.3C533.2,202.1 535.9,202.0 538.6,201.8C541.2,201.7 543.9,201.5 546.6,201.4C549.3,201.3 551.9,201.1 554.6,201.0C557.3,200.8 560.0,200.7 562.7,200.6C565.3,200.4 568.0,200.3 570.7,200.2C573.4,200.1 576.1,199.9 578.7,199.8C581.4,199.7 584.1,199.5 586.8,199.4C589.5,199.3 592.2,199.2 594.8,199.0C597.5,198.9 600.2,198.8 602.9,198.7C605.6,198.6 608.2,198.4 610.9,198.3C613.6,198.2 616.3,198.1 619.0,198.0C621.6,197.9 624.3,197.8 627.0,197.6C629.7,197.5 632.4,197.4 635.0,197.3C637.7,197.2 640.4,197.1 643.1,197.0C645.8,196.9 648.5,196.8 651.1,196.7C653.8,196.6 656.5,196.5 659.2,196.4C661.9,196.3 664.5,196.2 667.2,196.1C669.9,196.0 672.6,195.9 675.3,195.8C678.0,195.7 680.6,195.6 683.3,195.5C686.0,195.4 688.7,195.3 691.4,195.2C694.1,195.1 696.7,195.0 699.4,194.9C702.1,194.8 704.8,194.8 707.5,194.7C710.1,194.6 712.8,194.5 715.5,194.4C718.2,194.3 720.9,194.2 723.6,194.1C726.2,194.1 728.9,194.0 731.6,193.9C734.3,193.8 737.0,193.7 739.7,193.7C742.3,193.6 745.0,193.5 747.7,193.4C750.4,193.3 753.1,193.3 755.8,193.2C758.4,193.1 761.1,193.0 763.8,193.0C766.5,192.9 769.2,192.8 771.9,192.7C774.5,192.7 777.2,192.6 779.9,192.5C782.6,192.4 785.3,192.4 788.0,192.3C790.6,192.2 793.3,192.2 796.0,192.1C798.7,192.0 801.4,192.0 804.1,191.9C806.7,191.8 809.4,191.8 812.1,191.7C814.8,191.6 817.5,191.6 820.2,191.5C822.8,191.4 825.5,191.4 828.2,191.3C830.9,191.2 833.6,191.2 836.3,191.1C838.9,191.1 841.6,191.0 844.3,190.9C847.0,190.9 849.7,190.8 852.4,190.8C855.0,190.7 857.7,190.6 860.4,190.6C863.1,190.5 865.8,190.5 868.5,190.4C871.1,190.3 873.8,190.3 876.5,190.2C879.2,190.1 881.9,190.0 884.5,189.9C887.2,189.8 889.9,189.6 892.6,189.5C895.2,189.3 897.9,189.1 900.5,188.9C903.2,188.6 905.9,188.4 908.5,188.0C911.2,187.7 913.8,187.4 916.4,186.9C919.1,186.5 921.7,186.1 924.3,185.5C927.0,185.0 929.6,184.4 932.2,183.8C934.8,183.1 937.4,182.5 940.0,181.7C942.6,181.0 945.2,180.3 947.8,179.5C950.4,178.8 952.9,178.0 955.5,177.2C958.1,176.4 960.7,175.6 963.3,174.8C965.9,174.0 968.4,173.1 971.0,172.4C973.6,171.6 976.2,170.8 978.8,170.0C981.4,169.3 983.9,168.6 986.5,167.9C989.1,167.2 991.7,166.6 994.3,166.0C996.9,165.4 999.5,164.8 1002.1,164.3C1004.7,163.8 1007.3,163.4 1010.0,163.0C1012.6,162.7 1015.2,162.4 1017.9,162.1C1020.5,161.9 1023.2,161.7 1025.8,161.7C1028.5,161.6 1031.2,161.6 1033.9,161.7C1036.6,161.9 1039.3,162.1 1042.0,162.4C1044.7,162.7 1047.4,163.1 1050.1,163.6C1052.9,164.1 1055.6,164.7 1058.2,165.4C1060.9,166.1 1063.6,166.9 1066.2,167.9C1068.8,168.8 1071.4,169.8 1073.9,170.9C1076.4,172.0 1078.8,173.2 1081.2,174.5C1083.6,175.9 1085.9,177.3 1088.1,178.8C1090.4,180.3 1092.5,182.0 1094.5,183.7C1096.6,185.4 1098.5,187.2 1100.3,189.2C1102.1,191.1 1103.8,193.1 1105.4,195.2C1107.0,197.2 1108.5,199.4 1109.9,201.6C1111.2,203.9 1112.5,206.2 1113.6,208.5C1114.7,210.9 1115.6,213.3 1116.5,215.7C1117.3,218.2 1118.0,220.7 1118.5,223.2C1119.1,225.8 1119.5,228.3 1119.8,230.9C1120.0,233.5 1120.1,236.1 1120.0,238.8C1120.0,241.4 1119.8,244.0 1119.4,246.7C1119.1,249.3 1118.6,252.0 1118.1,254.6C1117.6,257.3 1116.9,260.0 1116.3,262.7C1115.7,265.3 1114.9,268.0 1114.3,270.7C1113.7,273.4 1113.0,276.1 1112.4,278.7C1111.9,281.4 1111.3,284.1 1110.9,286.8C1110.5,289.5 1110.2,292.2 1110.0,294.8C1109.8,297.5 1109.8,300.2 1110.0,302.8C1110.1,305.5 1110.3,308.2 1110.6,310.8C1110.9,313.5 1111.4,316.2 1111.8,318.8C1112.2,321.5 1112.7,324.2 1113.1,326.8C1113.5,329.5 1114.0,332.2 1114.3,334.8C1114.7,337.5 1115.0,340.2 1115.2,342.9C1115.4,345.6 1115.5,348.2 1115.4,350.9C1115.3,353.6 1115.1,356.4 1114.8,359.1C1114.4,361.8 1113.9,364.5 1113.3,367.1C1112.6,369.8 1111.8,372.4 1111.0,375.0C1110.1,377.6 1109.1,380.2 1107.9,382.6C1106.8,385.1 1105.6,387.6 1104.2,389.9C1102.9,392.3 1101.4,394.5 1099.9,396.7C1098.3,398.9 1096.7,401.0 1095.0,403.0C1093.3,404.9 1091.4,406.8 1089.6,408.5C1087.7,410.2 1085.7,411.8 1083.7,413.3C1081.7,414.7 1079.5,416.1 1077.4,417.2C1075.2,418.3 1073.0,419.3 1070.8,420.1C1068.5,421.0 1066.2,421.6 1063.8,422.1C1061.5,422.6 1059.0,423.0 1056.6,423.2C1054.1,423.5 1051.7,423.6 1049.1,423.6C1046.6,423.6 1044.0,423.5 1041.4,423.4C1038.8,423.2 1036.2,422.9 1033.5,422.6C1030.9,422.2 1028.2,421.8 1025.5,421.3C1022.7,420.8 1020.0,420.3 1017.2,419.7C1014.5,419.1 1011.7,418.5 1008.9,417.9C1006.1,417.2 1003.3,416.6 1000.5,415.9C997.7,415.3 994.9,414.6 992.0,413.9C989.2,413.3 986.4,412.6 983.5,412.0C980.7,411.4 977.9,410.8 975.0,410.2C972.2,409.7 969.4,409.2 966.6,408.7C963.7,408.3 960.9,407.9 958.1,407.6C955.3,407.3 952.6,407.1 949.8,406.9C947.0,406.8 944.3,406.8 941.6,406.9C938.9,407.0 936.1,407.1 933.5,407.4C930.8,407.7 928.2,408.1 925.5,408.5C922.9,409.0 920.3,409.6 917.8,410.2C915.3,410.9 912.7,411.6 910.3,412.5C907.8,413.3 905.4,414.2 903.0,415.2C900.6,416.2 898.2,417.3 896.0,418.5C893.7,419.7 891.4,420.9 889.2,422.3C887.0,423.6 884.9,425.0 882.8,426.5C880.7,428.0 878.7,429.6 876.7,431.2C874.8,432.8 872.8,434.5 871.0,436.3C869.2,438.1 867.4,439.9 865.7,441.8C864.0,443.7 862.4,445.7 860.8,447.7C859.2,449.8 857.7,451.9 856.3,454.0C854.8,456.1 853.5,458.3 852.1,460.6C850.8,462.8 849.5,465.1 848.3,467.5C847.1,469.8 845.9,472.2 844.8,474.6C843.7,477.1 842.6,479.5 841.6,482.0C840.6,484.5 839.6,487.0 838.6,489.6C837.7,492.1 836.8,494.7 835.9,497.3C835.0,499.9 834.2,502.6 833.4,505.2C832.5,507.8 831.7,510.5 831.0,513.2C830.2,515.8 829.4,518.5 828.7,521.2C828.0,523.9 827.3,526.6 826.6,529.3C825.9,532.0 825.2,534.7 824.5,537.4C823.8,540.1 823.1,542.7 822.5,545.4C821.8,548.1 821.1,550.8 820.5,553.4C819.8,556.1 819.2,558.8 818.5,561.4C817.9,564.1 817.3,566.7 816.6,569.3C816.0,572.0 815.4,574.6 814.7,577.3C814.1,579.9 813.5,582.5 812.9,585.1C812.3,587.8 811.7,590.4 811.1,593.0C810.5,595.6 809.9,598.2 809.3,600.8C808.7,603.4 808.1,606.0 807.5,608.7C806.9,611.3 806.4,613.9 805.8,616.5C805.2,619.0 804.6,621.6 804.1,624.2C803.5,626.8 803.0,629.4 802.4,632.0C801.8,634.6 801.3,637.2 800.7,639.8C800.2,642.4 799.7,645.0 799.1,647.5C798.6,650.1 798.0,652.7 797.5,655.3C797.0,657.9 796.4,660.5 795.9,663.1C795.4,665.6 794.9,668.2 794.3,670.8C793.8,673.4 793.3,676.0 792.8,678.6C792.3,681.2 791.8,683.8 791.3,686.4C790.8,689.0 790.3,691.6 789.8,694.2C789.2,696.7 788.8,699.3 788.3,702.0C787.8,704.6 787.3,707.2 786.8,709.8C786.3,712.4 785.8,715.0 785.3,717.6C784.8,720.2 784.3,722.8 783.8,725.5C783.4,728.1 782.9,730.7 782.4,733.4C781.9,736.0 781.4,738.6 781.0,741.3C780.5,743.9 780.0,746.6 779.5,749.2C779.1,751.9 778.6,754.5 778.1,757.2C777.6,759.9 777.2,762.5 776.7,765.2C776.2,767.9 775.8,770.6 775.3,773.3C774.8,776.0 774.4,778.7 773.9,781.4C773.4,784.1 772.7,788.1 772.5,789.5" stroke="#9a32cd" stroke-dasharray="8,8"/>
<path d="M789.5,246.0C790.5,245.2 793.6,243.0 795.7,241.5C797.8,240.0 799.9,238.4 802.0,236.9C804.2,235.3 806.3,233.8 808.5,232.3C810.6,230.7 812.8,229.2 815.0,227.6C817.2,226.1 819.4,224.5 821.6,223.0C823.9,221.5 826.1,220.0 828.4,218.5C830.6,217.0 832.9,215.5 835.2,214.0C837.5,212.5 839.8,211.1 842.2,209.7C844.5,208.2 846.8,206.8 849.2,205.5C851.6,204.1 853.9,202.8 856.3,201.4C858.7,200.1 861.1,198.9 863.5,197.6C866.0,196.4 868.4,195.2 870.8,194.1C873.3,192.9 875.8,191.8 878.2,190.8C880.7,189.7 883.2,188.7 885.7,187.8C888.2,186.8 890.7,185.9 893.3,185.1C895.8,184.3 898.3,183.5 900.9,182.8C903.5,182.1 906.0,181.5 908.6,180.9C911.2,180.3 913.8,179.8 916.4,179.4C919.0,178.9 921.6,178.5 924.2,178.2C926.9,177.9 929.5,177.6 932.1,177.4C934.8,177.1 937.4,177.0 940.1,176.8C942.7,176.7 945.4,176.6 948.1,176.5C950.7,176.5 953.4,176.5 956.1,176.5C958.8,176.5 961.5,176.6 964.2,176.6C966.9,176.7 969.5,176.8 972.2,176.9C974.9,177.1 977.6,177.2 980.3,177.4C983.0,177.6 985.7,177.7 988.4,177.9C991.1,178.1 993.8,178.3 996.5,178.6C999.2,178.8 1001.9,179.0 1004.6,179.2C1007.3,179.4 1010.0,179.6 1012.7,179.9C1015.4,180.1 1018.1,180.3 1020.8,180.5C1023.5,180.8 1026.2,181.0 1028.9,181.3C1031.5,181.5 1034.2,181.7 1036.9,182.0C1039.6,182.2 1042.3,182.5 1045.0,182.7C1047.6,183.0 1050.3,183.2 1053.0,183.5C1055.7,183.7 1058.3,184.0 1061.0,184.3C1063.7,184.5 1066.4,184.8 1069.0,185.1C1071.7,185.3 1074.4,185.6 1077.0,185.9C1079.7,186.1 1082.4,186.4 1085.1,186.7C1087.7,187.0 1090.4,187.3 1093.0,187.6C1095.7,187.9 1098.4,188.1 1101.0,188.4C1103.7,188.7 1106.4,189.0 1109.0,189.3C1111.7,189.6 1114.3,189.9 1117.0,190.2C1119.7,190.5 1122.3,190.9 1125.0,191.2C1127.6,191.5 1130.3,191.8 1132.9,192.1C1135.6,192.4 1138.2,192.8 1140.9,193.1C1143.5,193.4 1146.2,193.7 1148.8,194.1C1151.5,194.4 1154.1,194.7 1156.8,195.1C1159.4,195.4 1162.1,195.7 1164.7,196.1C1167.4,196.4 1170.0,196.8 1172.7,197.1C1175.3,197.5 1178.0,197.8 1180.6,198.2C1183.2,198.5 1185.9,198.9 1188.5,199.3C1191.2,199.6 1193.8,200.0 1196.5,200.3C1199.1,200.7 1201.7,201.1 1204.4,201.5C1207.0,201.8 1209.7,202.2 1212.3,202.6C1214.9,203.0 1217.6,203.3 1220.2,203.7C1222.8,204.1 1225.5,204.5 1228.1,204.9C1230.8,205.3 1233.4,205.7 1236.0,206.1C1238.7,206.5 1241.3,206.9 1243.9,207.3C1246.6,207.7 1249.2,208.1 1251.8,208.5C1254.5,208.9 1257.1,209.3 1259.8,209.7C1262.4,210.1 1265.0,210.5 1267.7,211.0C1270.3,211.4 1272.9,211.8 1275.6,212.2C1278.2,212.7 1280.8,213.1 1283.5,213.5C1286.1,214.0 1288.7,214.4 1291.4,214.8C1294.0,215.3 1296.6,215.7 1299.3,216.1C1301.9,216.6 1304.5,217.0 1307.2,217.5C1309.8,217.9 1312.4,218.4 1315.1,218.8C1317.7,219.3 1320.3,219.7 1323.0,220.2C1325.6,220.7 1328.2,221.1 1330.9,221.6C1333.5,222.1 1336.2,222.5 1338.8,223.0C1341.4,223.5 1344.1,223.9 1346.7,224.4C1349.3,224.9 1352.0,225.4 1354.6,225.9C1357.2,226.3 1359.9,226.8 1362.5,227.3C1365.2,227.8 1367.8,228.3 1370.4,228.8C1373.1,229.3 1375.7,229.8 1378.3,230.3C1381.0,230.8 1383.6,231.3 1386.3,231.8C1388.9,232.3 1391.5,232.8 1394.2,233.3C1396.8,233.8 1399.5,234.3 1402.1,234.9C1404.8,235.4 1407.4,235.9 1410.0,236.4C1412.7,236.9 1415.3,237.5 1418.0,238.0C1420.6,238.5 1423.3,239.0 1425.9,239.6C1428.6,240.1 1431.2,240.6 1433.9,241.2C1436.5,241.7 1439.2,242.3 1441.8,242.8C1444.5,243.4 1447.1,243.9 1449.8,244.4C1452.4,245.0 1455.1,245.5 1457.7,246.1C1460.4,246.7 1463.0,247.2 1465.7,247.8C1468.4,248.3 1471.0,248.9 1473.7,249.5C1476.3,250.1 1479.0,250.6 1481.6,251.2C1484.3,251.8 1486.9,252.4 1489.6,253.0C1492.2,253.6 1494.9,254.2 1497.5,254.8C1500.2,255.4 1502.8,256.0 1505.4,256.6C1508.1,257.2 1510.7,257.9 1513.4,258.5C1516.0,259.2 1518.6,259.8 1521.3,260.5C1523.9,261.1 1526.5,261.8 1529.1,262.5C1531.7,263.2 1534.4,263.8 1537.0,264.5C1539.6,265.2 1542.2,266.0 1544.8,266.7C1547.4,267.4 1550.0,268.1 1552.6,268.9C1555.2,269.6 1557.7,270.4 1560.3,271.2C1562.9,272.0 1565.5,272.7 1568.0,273.5C1570.6,274.3 1573.1,275.2 1575.7,276.0C1578.2,276.8 1580.8,277.7 1583.3,278.5C1585.8,279.4 1588.4,280.3 1590.9,281.2C1593.4,282.1 1595.9,283.0 1598.4,283.9C1600.9,284.9 1603.4,285.8 1605.9,286.8C1608.3,287.7 1610.8,288.7 1613.3,289.7C1615.7,290.7 1618.2,291.8 1620.6,292.8C1623.1,293.8 1625.5,294.9 1627.9,296.0C1630.3,297.1 1632.7,298.2 1635.1,299.3C1637.5,300.4 1639.9,301.6 1642.2,302.8C1644.6,303.9 1647.0,305.1 1649.3,306.3C1651.6,307.5 1654.0,308.8 1656.3,310.0C1658.6,311.3 1660.9,312.6 1663.2,313.9C1665.5,315.2 1667.8,316.6 1670.0,317.9C1672.3,319.3 1674.5,320.7 1676.7,322.1C1679.0,323.5 1681.2,324.9 1683.4,326.4C1685.6,327.9 1687.8,329.4 1689.9,330.9C1692.1,332.4 1694.2,334.0 1696.4,335.5C1698.5,337.1 1700.6,338.7 1702.7,340.4C1704.8,342.0 1706.9,343.7 1709.0,345.3C1711.0,347.0 1713.1,348.8 1715.1,350.5C1717.1,352.3 1719.1,354.1 1721.0,355.9C1723.0,357.8 1724.9,359.6 1726.8,361.6C1728.6,363.5 1730.4,365.4 1732.2,367.4C1733.9,369.5 1735.6,371.5 1737.3,373.6C1738.9,375.8 1740.4,377.9 1741.9,380.2C1743.4,382.4 1744.7,384.7 1746.1,387.0C1747.4,389.4 1748.6,391.8 1749.8,394.2C1751.0,396.6 1752.2,399.0 1753.3,401.5C1754.5,403.9 1755.6,406.4 1756.8,408.8C1758.0,411.2 1759.2,413.6 1760.4,416.0C1761.6,418.4 1762.8,420.8 1764.0,423.2C1765.3,425.6 1766.6,427.9 1767.8,430.2C1769.1,432.6 1770.4,434.9 1771.7,437.2C1773.1,439.5 1774.4,441.8 1775.8,444.1C1777.1,446.4 1778.5,448.7 1779.9,450.9C1781.3,453.2 1782.7,455.4 1784.1,457.7C1785.5,459.9 1787.0,462.1 1788.4,464.3C1789.9,466.6 1791.4,468.8 1792.9,470.9C1794.4,473.1 1795.9,475.3 1797.4,477.5C1798.9,479.7 1800.5,481.8 1802.1,484.0C1803.6,486.1 1805.2,488.3 1806.8,490.4C1808.4,492.6 1810.0,494.7 1811.6,496.8C1813.3,498.9 1814.9,501.0 1816.6,503.1C1818.3,505.3 1819.9,507.4 1821.6,509.5C1823.3,511.5 1825.0,513.6 1826.8,515.7C1828.5,517.8 1830.2,519.9 1831.9,522.0C1833.7,524.1 1835.4,526.1 1837.1,528.2C1838.9,530.3 1840.6,532.4 1842.3,534.5C1844.1,536.6 1845.8,538.7 1847.5,540.8C1849.2,542.9 1850.9,545.0 1852.6,547.1C1854.3,549.2 1855.9,551.4 1857.6,553.5C1859.2,555.6 1860.9,557.8 1862.5,559.9C1864.1,562.1 1865.7,564.3 1867.3,566.4C1868.8,568.6 1870.4,570.8 1871.9,573.0C1873.5,575.2 1875.0,577.4 1876.5,579.6C1878.0,581.8 1879.5,584.1 1881.0,586.3C1882.4,588.5 1883.9,590.8 1885.3,593.0C1886.7,595.3 1888.1,597.5 1889.5,599.8C1890.9,602.1 1892.3,604.4 1893.7,606.7C1895.1,608.9 1896.4,611.2 1897.7,613.6C1899.1,615.9 1900.4,618.2 1901.7,620.5C1903.0,622.8 1904.3,625.2 1905.5,627.5C1906.8,629.8 1908.0,632.2 1909.3,634.5C1910.5,636.9 1911.7,639.3 1912.9,641.6C1914.2,644.0 1915.3,646.4 1916.5,648.8C1917.7,651.2 1918.9,653.6 1920.0,656.0C1921.2,658.4 1922.3,660.8 1923.4,663.2C1924.5,665.6 1925.6,668.0 1926.7,670.5C1927.8,672.9 1928.9,675.3 1929.9,677.8C1931.0,680.2 1932.1,682.7 1933.1,685.1C1934.1,687.6 1935.2,690.0 1936.2,692.5C1937.2,695.0 1938.2,697.4 1939.2,699.9C1940.2,702.4 1941.1,704.9 1942.1,707.4C1943.0,709.9 1944.0,712.4 1944.9,714.9C1945.9,717.4 1946.8,719.9 1947.7,722.4C1948.6,724.9 1949.5,727.4 1950.4,730.0C1951.3,732.5 1952.2,735.0 1953.0,737.6C1953.9,740.1 1954.8,742.6 1955.6,745.2C1956.5,747.7 1957.3,750.3 1958.1,752.8C1959.0,755.4 1959.8,757.9 1960.6,760.5C1961.4,763.1 1962.2,765.6 1963.0,768.2C1963.7,770.8 1964.5,773.4 1965.3,775.9C1966.0,778.5 1966.8,781.1 1967.6,783.7C1968.3,786.3 1969.0,788.9 1969.8,791.5C1970.5,794.1 1971.2,796.6 1971.9,799.2C1972.6,801.8 1973.3,804.5 1974.0,807.1C1974.7,809.7 1975.4,812.3 1976.1,814.9C1976.8,817.5 1977.5,820.1 1978.1,822.7C1978.8,825.4 1979.4,828.0 1980.1,830.6C1980.7,833.2 1981.4,835.8 1982.0,838.5C1982.7,841.1 1983.3,843.7 1983.9,846.4C1984.5,849.0 1985.1,851.6 1985.8,854.3C1986.4,856.9 1987.0,859.5 1987.6,862.2C1988.2,864.8 1988.8,867.4 1989.3,870.1C1989.9,872.7 1990.5,875.4 1991.1,878.0C1991.6,880.7 1992.2,883.3 1992.8,885.9C1993.3,888.6 1993.9,891.2 1994.5,893.9C1995.0,896.5 1995.6,899.2 1996.1,901.8C1996.7,904.5 1997.2,907.1 1997.7,909.8C1998.3,912.4 1998.8,915.1 1999.3,917.7C1999.9,920.4 2000.4,923.0 2000.9,925.7C2001.4,928.3 2001.9,931.0 2002.5,933.6C2003.0,936.3 2003.5,938.9 2004.0,941.6C2004.5,944.2 2005.0,946.9 2005.5,949.5C2006.0,952.1 2006.5,954.8 2007.0,957.4C2007.5,960.1 2008.0,962.7 2008.5,965.4C2009.0,968.0 2009.5,970.6 2010.0,973.3C2010.5,975.9 2011.0,978.6 2011.4,981.2C2011.9,983.8 2012.4,986.5 2012.9,989.1C2013.4,991.7 2013.9,994.4 2014.4,997.0C2014.8,999.6 2015.3,1002.2 2015.8,1004.9C2016.3,1007.5 2016.8,1010.1 2017.3,1012.7C2017.7,1015.4 2018.2,1018.0 2018.7,1020.6C2019.2,1023.2 2019.7,1025.8 2020.2,1028.4C2020.6,1031.0 2021.1,1033.6 2021.6,1036.2C2022.1,1038.8 2022.6,1041.4 2023.1,1044.0C2023.6,1046.6 2024.1,1049.2 2024.5,1051.8C2025.0,1054.4 2025.5,1057.0 2026.0,1059.6C2026.5,1062.1 2027.3,1066.0 2027.5,1067.3" stroke="#9a32cd" stroke-dasharray="8,8"/>
<path d="M468.8,113.1C470.1,112.7 473.9,111.4 476.4,110.5C478.9,109.6 481.5,108.8 484.0,108.0C486.6,107.2 489.1,106.4 491.7,105.6C494.2,104.8 496.8,104.0 499.3,103.3C501.9,102.5 504.5,101.7 507.1,101.0C509.6,100.3 512.2,99.6 514.8,98.9C517.4,98.2 520.0,97.5 522.6,96.8C525.1,96.1 527.7,95.4 530.3,94.8C532.9,94.1 535.5,93.5 538.2,92.9C540.8,92.2 543.4,91.6 546.0,91.0C548.6,90.4 551.2,89.8 553.8,89.2C556.5,88.6 559.1,88.0 561.7,87.5C564.3,86.9 567.0,86.4 569.6,85.8C572.2,85.3 574.9,84.7 577.5,84.2C580.1,83.7 582.8,83.2 585.4,82.6C588.1,82.1 590.7,81.6 593.4,81.1C596.0,80.6 598.7,80.2 601.3,79.7C604.0,79.2 606.6,78.7 609.3,78.3C611.9,77.8 614.6,77.3 617.2,76.9C619.9,76.4 622.5,76.0 625.2,75.6C627.9,75.1 630.5,74.7 633.2,74.3C635.8,73.8 638.5,73.4 641.2,73.0C643.8,72.6 646.5,72.1 649.1,71.7C651.8,71.3 654.5,70.9 657.1,70.5C659.8,70.1 662.5,69.7 665.1,69.3C667.8,68.9 670.4,68.5 673.1,68.1C675.8,67.7 678.4,67.4 681.1,67.0C683.7,66.6 686.4,66.2 689.1,65.8C691.7,65.4 694.4,65.0 697.0,64.7C699.7,64.3 702.3,63.9 705.0,63.5C707.7,63.1 710.3,62.8 713.0,62.4C715.6,62.0 718.3,61.7 720.9,61.3C723.6,60.9 726.2,60.5 728.9,60.2C731.5,59.8 734.2,59.4 736.8,59.1C739.5,58.7 742.1,58.4 744.8,58.0C747.4,57.6 750.1,57.3 752.7,56.9C755.4,56.6 758.0,56.2 760.7,55.9C763.3,55.5 766.0,55.2 768.6,54.8C771.3,54.5 773.9,54.1 776.6,53.8C779.2,53.4 781.9,53.1 784.5,52.7C787.2,52.4 789.8,52.0 792.5,51.7C795.1,51.4 797.8,51.0 800.4,50.7C803.1,50.4 805.7,50.0 808.4,49.7C811.0,49.4 813.6,49.0 816.3,48.7C818.9,48.4 821.6,48.1 824.2,47.7C826.9,47.4 829.5,47.1 832.2,46.8C834.8,46.4 837.5,46.1 840.1,45.8C842.8,45.5 845.4,45.2 848.1,44.9C850.7,44.6 853.4,44.3 856.0,43.9C858.7,43.6 861.3,43.3 864.0,43.0C866.6,42.7 869.3,42.4 871.9,42.1C874.6,41.8 877.2,41.5 879.9,41.2C882.5,40.9 885.2,40.6 887.8,40.4C890.5,40.1 893.1,39.8 895.8,39.5C898.4,39.2 901.1,38.9 903.8,38.6C906.4,38.3 909.1,38.1 911.7,37.8C914.4,37.5 917.0,37.2 919.7,37.0C922.3,36.7 925.0,36.4 927.7,36.1C930.3,35.9 933.0,35.6 935.6,35.3C938.3,35.1 941.0,34.8 943.6,34.5C946.3,34.3 949.0,34.0 951.6,33.8C954.3,33.5 957.0,33.3 959.6,33.0C962.3,32.7 965.0,32.5 967.6,32.3C970.3,32.0 973.0,31.8 975.6,31.5C978.3,31.3 981.0,31.0 983.7,30.8C986.3,30.6 989.0,30.3 991.7,30.1C994.4,29.8 997.0,29.6 999.7,29.4C1002.4,29.2 1005.1,28.9 1007.8,28.7C1010.4,28.5 1013.1,28.3 1015.8,28.0C1018.5,27.8 1021.2,27.6 1023.9,27.4C1026.5,27.2 1029.2,27.0 1031.9,26.7C1034.6,26.5 1037.3,26.3 1040.0,26.1C1042.7,25.9 1045.4,25.7 1048.1,25.5C1050.8,25.3 1053.5,25.1 1056.2,24.9C1058.9,24.8 1061.5,24.6 1064.2,24.4C1066.9,24.2 1069.6,24.0 1072.3,23.9C1075.0,23.7 1077.7,23.5 1080.4,23.4C1083.1,23.2 1085.8,23.0 1088.5,22.9C1091.2,22.7 1093.9,22.6 1096.6,22.4C1099.3,22.3 1102.0,22.2 1104.7,22.0C1107.4,21.9 1110.1,21.8 1112.9,21.7C1115.6,21.5 1118.3,21.4 1121.0,21.3C1123.7,21.2 1126.4,21.1 1129.1,21.0C1131.8,20.9 1134.5,20.8 1137.2,20.8C1139.9,20.7 1142.6,20.6 1145.3,20.6C1148.0,20.5 1150.7,20.4 1153.4,20.4C1156.1,20.3 1158.8,20.3 1161.5,20.3C1164.2,20.2 1166.8,20.2 1169.5,20.2C1172.2,20.2 1174.9,20.2 1177.6,20.2C1180.3,20.2 1183.0,20.2 1185.7,20.2C1188.4,20.2 1191.1,20.3 1193.8,20.3C1196.5,20.3 1199.2,20.4 1201.8,20.4C1204.5,20.5 1207.2,20.6 1209.9,20.6C1212.6,20.7 1215.3,20.8 1217.9,20.9C1220.6,21.0 1223.3,21.1 1226.0,21.2C1228.7,21.4 1231.3,21.5 1234.0,21.6C1236.7,21.8 1239.4,21.9 1242.0,22.1C1244.7,22.3 1247.4,22.4 1250.0,22.6C1252.7,22.8 1255.4,23.0 1258.0,23.2C1260.7,23.4 1263.3,23.7 1266.0,23.9C1268.7,24.1 1271.3,24.4 1274.0,24.6C1276.6,24.9 1279.3,25.2 1281.9,25.5C1284.6,25.7 1287.2,26.0 1289.8,26.4C1292.5,26.7 1295.1,27.0 1297.8,27.3C1300.4,27.7 1303.0,28.0 1305.7,28.4C1308.3,28.8 1310.9,29.2 1313.5,29.6C1316.2,30.0 1318.8,30.4 1321.4,30.8C1324.0,31.2 1326.6,31.7 1329.3,32.1C1331.9,32.6 1334.5,33.1 1337.1,33.5C1339.7,34.0 1342.3,34.5 1344.9,35.1C1347.5,35.6 1350.1,36.1 1352.7,36.7C1355.3,37.2 1357.8,37.8 1360.4,38.4C1363.0,38.9 1365.6,39.5 1368.2,40.2C1370.7,40.8 1373.3,41.4 1375.9,42.1C1378.4,42.7 1381.0,43.4 1383.6,44.1C1386.1,44.8 1388.7,45.5 1391.2,46.2C1393.8,46.9 1396.3,47.6 1398.9,48.4C1401.4,49.1 1403.9,49.9 1406.5,50.7C1409.0,51.5 1411.5,52.3 1414.1,53.1C1416.6,54.0 1419.1,54.8 1421.6,55.7C1424.1,56.6 1426.6,57.4 1429.1,58.4C1431.6,59.3 1434.1,60.2 1436.6,61.1C1439.1,62.1 1441.6,63.0 1444.1,64.0C1446.6,65.0 1449.1,66.0 1451.5,67.0C1454.0,68.1 1456.5,69.1 1458.9,70.2C1461.4,71.3 1463.8,72.3 1466.3,73.4C1468.7,74.6 1471.2,75.7 1473.6,76.8C1476.1,78.0 1478.5,79.2 1480.9,80.3C1483.4,81.5 1485.8,82.7 1488.2,84.0C1490.6,85.2 1493.0,86.4 1495.4,87.7C1497.8,89.0 1500.2,90.2 1502.6,91.5C1505.0,92.8 1507.4,94.2 1509.7,95.5C1512.1,96.8 1514.5,98.2 1516.8,99.5C1519.2,100.9 1521.5,102.3 1523.9,103.7C1526.2,105.1 1528.5,106.5 1530.9,107.9C1533.2,109.4 1535.5,110.8 1537.8,112.3C1540.1,113.7 1542.4,115.2 1544.7,116.7C1547.0,118.2 1549.3,119.7 1551.5,121.2C1553.8,122.7 1556.0,124.3 1558.3,125.8C1560.5,127.3 1562.8,128.9 1565.0,130.5C1567.2,132.0 1569.5,133.6 1571.7,135.2C1573.9,136.8 1576.1,138.4 1578.3,140.0C1580.5,141.6 1582.6,143.3 1584.8,144.9C1587.0,146.5 1589.1,148.2 1591.3,149.8C1593.4,151.5 1595.5,153.2 1597.7,154.8C1599.8,156.5 1601.9,158.2 1604.0,159.9C1606.1,161.6 1608.2,163.3 1610.2,165.0C1612.3,166.7 1614.4,168.4 1616.4,170.2C1618.5,171.9 1620.5,173.6 1622.5,175.4C1624.5,177.1 1626.6,178.9 1628.6,180.7C1630.6,182.4 1632.5,184.2 1634.5,186.0C1636.5,187.8 1638.5,189.6 1640.4,191.4C1642.4,193.2 1644.3,195.1 1646.2,196.9C1648.1,198.7 1650.1,200.6 1652.0,202.4C1653.9,204.3 1655.8,206.2 1657.6,208.1C1659.5,209.9 1661.4,211.8 1663.2,213.7C1665.1,215.6 1666.9,217.6 1668.7,219.5C1670.6,221.4 1672.4,223.4 1674.2,225.3C1676.0,227.3 1677.8,229.2 1679.5,231.2C1681.3,233.2 1683.1,235.2 1684.8,237.2C1686.6,239.2 1688.3,241.2 1690.0,243.3C1691.8,245.3 1693.5,247.4 1695.2,249.4C1696.9,251.5 1698.6,253.6 1700.2,255.7C1701.9,257.7 1703.6,259.9 1705.2,262.0C1706.8,264.1 1708.5,266.2 1710.1,268.4C1711.7,270.5 1713.3,272.7 1714.8,274.9C1716.4,277.0 1717.9,279.2 1719.4,281.5C1720.9,283.7 1722.4,285.9 1723.8,288.1C1725.2,290.4 1726.6,292.6 1728.0,294.9C1729.3,297.2 1730.7,299.5 1731.9,301.8C1733.2,304.1 1734.5,306.5 1735.6,308.8C1736.8,311.2 1738.0,313.5 1739.0,315.9C1740.1,318.3 1741.2,320.7 1742.1,323.1C1743.1,325.5 1744.0,328.0 1744.9,330.4C1745.7,332.9 1746.5,335.4 1747.3,337.9C1748.0,340.4 1748.7,342.9 1749.3,345.4C1749.9,348.0 1750.4,350.5 1750.9,353.1C1751.3,355.7 1751.7,358.3 1752.1,360.9C1752.4,363.5 1752.7,366.1 1753.0,368.7C1753.2,371.4 1753.4,374.0 1753.6,376.7C1753.8,379.4 1753.9,382.0 1754.0,384.7C1754.1,387.4 1754.2,390.1 1754.2,392.8C1754.3,395.5 1754.3,398.2 1754.3,400.9C1754.3,403.6 1754.3,406.4 1754.2,409.1C1754.2,411.8 1754.2,414.5 1754.2,417.3C1754.1,420.0 1754.1,422.7 1754.1,425.5C1754.0,428.2 1754.0,430.9 1754.0,433.7C1754.0,436.4 1754.0,439.1 1754.0,441.8C1754.1,444.6 1754.1,447.3 1754.2,450.0C1754.2,452.7 1754.3,455.4 1754.5,458.1C1754.6,460.8 1754.8,463.5 1755.0,466.1C1755.2,468.8 1755.5,471.5 1755.8,474.1C1756.1,476.8 1756.5,479.4 1756.9,482.1C1757.3,484.7 1757.8,487.3 1758.3,489.9C1758.9,492.5 1759.5,495.1 1760.1,497.6C1760.7,500.2 1761.4,502.8 1762.1,505.3C1762.9,507.8 1763.7,510.4 1764.5,512.9C1765.3,515.4 1766.2,517.9 1767.0,520.4C1767.9,522.9 1768.9,525.4 1769.9,527.9C1770.8,530.4 1771.8,532.9 1772.9,535.3C1773.9,537.8 1775.0,540.3 1776.0,542.7C1777.1,545.2 1778.3,547.6 1779.4,550.0C1780.5,552.5 1781.7,554.9 1782.9,557.3C1784.1,559.8 1785.3,562.2 1786.5,564.6C1787.7,567.0 1788.9,569.4 1790.1,571.8C1791.4,574.3 1792.6,576.7 1793.9,579.1C1795.1,581.5 1796.4,583.9 1797.7,586.3C1798.9,588.7 1800.2,591.1 1801.5,593.5C1802.7,595.9 1804.0,598.3 1805.3,600.7C1806.5,603.1 1807.8,605.5 1809.0,607.9C1810.3,610.3 1811.5,612.7 1812.7,615.1C1814.0,617.5 1815.2,619.9 1816.4,622.3C1817.6,624.7 1818.8,627.1 1820.0,629.5C1821.3,631.9 1822.4,634.3 1823.6,636.7C1824.8,639.1 1826.0,641.5 1827.2,644.0C1828.4,646.4 1829.5,648.8 1830.7,651.2C1831.9,653.6 1833.0,656.0 1834.2,658.4C1835.3,660.9 1836.5,663.3 1837.6,665.7C1838.8,668.1 1839.9,670.5 1841.1,673.0C1842.2,675.4 1843.3,677.8 1844.4,680.2C1845.6,682.6 1846.7,685.1 1847.8,687.5C1848.9,689.9 1850.1,692.3 1851.2,694.8C1852.3,697.2 1853.4,699.6 1854.5,702.0C1855.6,704.5 1856.7,706.9 1857.8,709.3C1858.9,711.8 1860.0,714.2 1861.1,716.6C1862.2,719.0 1863.3,721.5 1864.4,723.9C1865.5,726.3 1866.6,728.8 1867.7,731.2C1868.8,733.6 1869.9,736.1 1871.0,738.5C1872.1,740.9 1873.2,743.4 1874.3,745.8C1875.4,748.2 1876.5,750.7 1877.6,753.1C1878.7,755.5 1879.8,758.0 1880.9,760.4C1882.0,762.8 1883.1,765.3 1884.2,767.7C1885.3,770.1 1886.4,772.6 1887.5,775.0C1888.6,777.4 1889.7,779.9 1890.8,782.3C1891.9,784.8 1893.0,787.2 1894.1,789.6C1895.2,792.1 1896.3,794.5 1897.4,796.9C1898.5,799.4 1899.7,801.8 1900.8,804.2C1901.9,806.7 1903.0,809.1 1904.1,811.6C1905.3,814.0 1906.4,816.4 1907.5,818.9C1908.6,821.3 1909.8,823.7 1910.9,826.2C1912.0,828.6 1913.1,831.1 1914.3,833.5C1915.4,835.9 1916.5,838.4 1917.7,840.8C1918.8,843.3 1919.9,845.7 1921.0,848.1C1922.2,850.6 1923.3,853.0 1924.4,855.4C1925.6,857.9 1926.7,860.3 1927.9,862.8C1929.0,865.2 1930.1,867.6 1931.3,870.1C1932.4,872.5 1933.5,875.0 1934.7,877.4C1935.8,879.8 1936.9,882.3 1938.1,884.7C1939.2,887.1 1940.3,889.6 1941.5,892.0C1942.6,894.5 1943.8,896.9 1944.9,899.3C1946.0,901.8 1947.2,904.2 1948.3,906.6C1949.4,909.1 1950.6,911.5 1951.7,914.0C1952.8,916.4 1954.0,918.8 1955.1,921.3C1956.2,923.7 1957.4,926.2 1958.5,928.6C1959.6,931.0 1960.8,933.5 1961.9,935.9C1963.0,938.3 1964.2,940.8 1965.3,943.2C1966.4,945.6 1967.5,948.1 1968.7,950.5C1969.8,953.0 1970.9,955.4 1972.0,957.8C1973.2,960.3 1974.3,962.7 1975.4,965.1C1976.5,967.6 1977.6,970.0 1978.7,972.4C1979.9,974.9 1981.0,977.3 1982.1,979.8C1983.2,982.2 1984.3,984.6 1985.4,987.1C1986.5,989.5 1987.6,991.9 1988.7,994.4C1989.8,996.8 1990.9,999.2 1992.0,1001.7C1993.1,1004.1 1994.2,1006.5 1995.3,1009.0C1996.4,1011.4 1997.5,1013.8 1998.6,1016.3C1999.7,1018.7 2000.8,1021.1 2001.9,1023.6C2002.9,1026.0 2004.0,1028.4 2005.1,1030.9C2006.2,1033.3 2007.2,1035.7 2008.3,1038.1C2009.4,1040.6 2010.5,1043.0 2011.5,1045.4C2012.6,1047.9 2013.6,1050.3 2014.7,1052.7C2015.8,1055.2 2016.8,1057.6 2017.9,1060.0C2018.9,1062.4 2020.5,1066.1 2021.0,1067.3" stroke="#9a32cd" stroke-dasharray="8,8"/>
<path d="M499.2,121.3C500.5,121.2 504.6,121.0 507.2,120.8C509.9,120.7 512.6,120.5 515.3,120.4C518.0,120.2 520.7,120.0 523.3,119.9C526.0,119.7 528.7,119.5 531.4,119.3C534.1,119.2 536.8,119.0 539.4,118.8C542.1,118.6 544.8,118.4 547.5,118.2C550.2,118.1 552.9,117.9 555.6,117.7C558.2,117.5 560.9,117.3 563.6,117.1C566.3,116.9 569.0,116.7 571.7,116.5C574.4,116.3 577.1,116.1 579.8,115.9C582.4,115.7 585.1,115.5 587.8,115.3C590.5,115.0 593.2,114.8 595.9,114.6C598.6,114.4 601.3,114.2 604.0,114.0C606.7,113.8 609.4,113.6 612.1,113.4C614.7,113.1 617.4,112.9 620.1,112.7C622.8,112.5 625.5,112.3 628.2,112.1C630.9,111.8 633.6,111.6 636.3,111.4C639.0,111.2 641.7,111.0 644.4,110.8C647.1,110.6 649.8,110.3 652.5,110.1C655.2,109.9 657.9,109.7 660.6,109.5C663.3,109.3 666.0,109.1 668.6,108.9C671.3,108.7 674.0,108.4 676.7,108.2C679.4,108.0 682.1,107.8 684.8,107.6C687.5,107.4 690.2,107.2 692.9,107.0C695.6,106.8 698.3,106.6 701.0,106.4C703.7,106.2 706.4,106.1 709.1,105.9C711.8,105.7 714.5,105.5 717.2,105.3C719.9,105.1 722.6,104.9 725.3,104.8C728.0,104.6 730.7,104.4 733.4,104.2C736.1,104.1 738.8,103.9 741.5,103.7C744.2,103.6 746.9,103.4 749.6,103.3C752.3,103.1 755.0,103.0 757.7,102.8C760.4,102.7 763.1,102.5 765.8,102.4C768.5,102.2 771.2,102.1 773.9,102.0C776.6,101.9 779.3,101.7 782.0,101.6C784.7,101.5 787.4,101.4 790.1,101.3C792.8,101.2 795.5,101.1 798.2,101.0C800.9,100.9 803.6,100.8 806.3,100.7C809.0,100.6 811.7,100.5 814.4,100.4C817.1,100.4 819.8,100.3 822.5,100.2C825.2,100.2 827.9,100.1 830.6,100.1C833.3,100.0 836.0,100.0 838.7,99.9C841.4,99.9 844.1,99.9 846.8,99.9C849.5,99.8 852.2,99.8 854.9,99.8C857.6,99.8 860.3,99.8 863.0,99.8C865.7,99.8 868.4,99.8 871.1,99.9C873.7,99.9 876.4,99.9 879.1,100.0C881.8,100.0 884.5,100.0 887.2,100.1C889.9,100.2 892.6,100.2 895.3,100.3C898.0,100.4 900.7,100.5 903.4,100.6C906.1,100.6 908.8,100.7 911.5,100.9C914.2,101.0 916.9,101.1 919.6,101.2C922.3,101.3 924.9,101.5 927.6,101.6C930.3,101.8 933.0,101.9 935.7,102.1C938.4,102.3 941.1,102.5 943.8,102.6C946.5,102.8 949.2,103.0 951.9,103.2C954.6,103.5 957.2,103.7 959.9,103.9C962.6,104.1 965.3,104.4 968.0,104.6C970.7,104.9 973.4,105.2 976.1,105.4C978.8,105.7 981.4,106.0 984.1,106.3C986.8,106.6 989.5,106.9 992.2,107.2C994.9,107.6 997.6,107.9 1000.2,108.2C1002.9,108.6 1005.6,109.0 1008.3,109.3C1011.0,109.7 1013.7,110.1 1016.3,110.5C1019.0,110.9 1021.7,111.3 1024.4,111.7C1027.1,112.1 1029.8,112.6 1032.4,113.0C1035.1,113.5 1037.8,113.9 1040.5,114.4C1043.1,114.9 1045.8,115.4 1048.4,116.0C1051.1,116.5 1053.8,117.0 1056.4,117.6C1059.0,118.2 1061.7,118.8 1064.3,119.4C1066.9,120.1 1069.5,120.7 1072.1,121.4C1074.7,122.2 1077.2,122.9 1079.8,123.7C1082.3,124.4 1084.9,125.2 1087.4,126.1C1089.9,126.9 1092.4,127.8 1094.9,128.7C1097.3,129.7 1099.8,130.6 1102.2,131.7C1104.6,132.7 1107.0,133.7 1109.4,134.9C1111.7,136.0 1114.1,137.2 1116.4,138.4C1118.7,139.6 1121.0,140.9 1123.2,142.2C1125.4,143.5 1127.6,144.9 1129.8,146.4C1132.0,147.8 1134.1,149.3 1136.2,150.9C1138.3,152.5 1140.4,154.1 1142.4,155.8C1144.4,157.6 1146.4,159.3 1148.3,161.2C1150.2,163.0 1152.1,164.9 1153.9,166.9C1155.8,168.9 1157.6,171.0 1159.3,173.1C1161.1,175.3 1162.8,177.5 1164.4,179.8C1166.1,182.1 1167.7,184.5 1169.2,186.9C1170.8,189.3 1172.3,191.7 1173.8,194.2C1175.3,196.7 1176.7,199.2 1178.1,201.7C1179.5,204.3 1180.9,206.8 1182.3,209.4C1183.6,211.9 1185.0,214.5 1186.3,217.0C1187.6,219.5 1188.9,222.0 1190.1,224.5C1191.4,227.0 1192.7,229.4 1193.9,231.8C1195.1,234.2 1196.4,236.5 1197.6,238.8C1198.8,241.1 1200.0,243.2 1201.2,245.4C1202.4,247.6 1203.6,249.6 1204.7,251.8C1205.8,254.0 1206.9,256.2 1207.7,258.8C1208.6,261.3 1209.6,265.6 1210.0,267.0" stroke="#9a32cd" stroke-dasharray="8,8"/>
<path d="M498.3,143.1C499.6,143.4 503.5,144.3 506.2,144.8C508.8,145.4 511.5,146.0 514.2,146.5C516.8,147.1 519.5,147.7 522.2,148.2C524.9,148.8 527.7,149.4 530.4,149.9C533.1,150.5 535.8,151.0 538.6,151.6C541.3,152.2 544.1,152.7 546.9,153.3C549.6,153.9 552.4,154.5 555.2,155.0C557.9,155.6 560.7,156.2 563.5,156.8C566.3,157.4 569.1,158.0 571.9,158.6C574.7,159.3 577.4,159.9 580.2,160.5C583.0,161.2 585.8,161.8 588.6,162.5C591.4,163.2 594.2,163.9 596.9,164.6C599.7,165.3 602.5,166.0 605.2,166.7C608.0,167.5 610.8,168.2 613.5,169.0C616.3,169.8 619.0,170.6 621.7,171.4C624.5,172.2 627.2,173.1 629.9,173.9C632.6,174.8 635.3,175.7 638.0,176.6C640.6,177.5 643.3,178.5 646.0,179.5C648.6,180.4 651.2,181.4 653.8,182.5C656.5,183.5 659.1,184.6 661.6,185.7C664.2,186.8 666.7,187.9 669.3,189.1C671.8,190.2 674.3,191.4 676.8,192.7C679.3,193.9 681.7,195.2 684.2,196.5C686.6,197.8 689.0,199.2 691.4,200.6C693.7,202.0 696.1,203.4 698.4,204.9C700.7,206.3 703.0,207.9 705.3,209.4C707.5,211.0 709.7,212.6 711.9,214.3C714.1,215.9 716.3,217.6 718.4,219.4C720.5,221.1 722.6,222.9 724.6,224.8C726.6,226.6 728.6,228.5 730.6,230.5C732.6,232.4 734.5,234.4 736.3,236.5C738.2,238.6 740.1,240.7 741.8,242.9C743.6,245.0 745.4,247.3 747.1,249.5C748.8,251.8 751.2,255.4 752.0,256.6" stroke="#9a32cd" stroke-dasharray="8,8"/>
<path d="M138.3,253.5C139.7,253.5 143.7,253.6 146.4,253.7C149.1,253.8 151.9,253.8 154.6,253.9C157.3,254.0 160.0,254.0 162.7,254.1C165.4,254.2 168.1,254.2 170.8,254.3C173.6,254.4 176.3,254.4 179.0,254.5C181.7,254.6 184.4,254.7 187.1,254.7C189.8,254.8 192.5,254.9 195.3,254.9C198.0,255.0 200.7,255.1 203.4,255.1C206.1,255.2 208.8,255.3 211.5,255.3C214.2,255.4 217.0,255.5 219.7,255.5C222.4,255.6 225.1,255.7 227.8,255.7C230.5,255.8 233.2,255.9 235.9,256.0C238.6,256.0 241.4,256.1 244.1,256.2C246.8,256.2 249.5,256.3 252.2,256.4C254.9,256.4 257.6,256.5 260.3,256.6C263.1,256.6 265.8,256.7 268.5,256.8C271.2,256.8 273.9,256.9 276.6,257.0C279.3,257.1 282.0,257.1 284.8,257.2C287.5,257.3 290.2,257.3 292.9,257.4C295.6,257.5 298.3,257.5 301.0,257.6C303.7,257.7 306.4,257.7 309.2,257.8C311.9,257.9 314.6,257.9 317.3,258.0C320.0,258.1 322.7,258.2 325.4,258.2C328.1,258.3 330.9,258.4 333.6,258.4C336.3,258.5 339.0,258.6 341.7,258.6C344.4,258.7 347.1,258.8 349.8,258.8C352.6,258.9 355.3,259.0 358.0,259.1C360.7,259.1 363.4,259.2 366.1,259.3C368.8,259.3 371.5,259.4 374.2,259.5C377.0,259.5 379.7,259.6 382.4,259.7C385.1,259.7 387.8,259.8 390.5,259.9C393.2,259.9 395.9,260.0 398.7,260.1C401.4,260.2 404.1,260.2 406.8,260.3C409.5,260.4 412.2,260.4 414.9,260.5C417.6,260.6 420.4,260.6 423.1,260.7C425.8,260.8 428.5,260.8 431.2,260.9C433.9,261.0 436.6,261.0 439.3,261.1C442.1,261.2 444.8,261.3 447.5,261.3C450.2,261.4 452.9,261.5 455.6,261.5C458.3,261.6 461.0,261.7 463.7,261.7C466.5,261.8 469.2,261.9 471.9,261.9C474.6,262.0 477.3,262.1 480.0,262.1C482.7,262.2 485.4,262.3 488.2,262.4C490.9,262.4 493.6,262.5 496.3,262.6C499.0,262.6 501.7,262.7 504.4,262.8C507.1,262.8 509.9,262.9 512.6,263.0C515.3,263.0 518.0,263.1 520.7,263.2C523.4,263.2 526.1,263.3 528.8,263.4C531.5,263.4 534.3,263.5 537.0,263.6C539.7,263.7 542.4,263.7 545.1,263.8C547.8,263.9 550.5,263.9 553.2,264.0C556.0,264.1 558.7,264.1 561.4,264.2C564.1,264.3 566.8,264.3 569.5,264.4C572.2,264.5 574.9,264.5 577.7,264.6C580.4,264.7 583.1,264.7 585.8,264.8C588.5,264.9 591.2,264.9 593.9,265.0C596.6,265.1 599.4,265.1 602.1,265.2C604.8,265.3 607.5,265.3 610.2,265.4C612.9,265.5 615.6,265.5 618.3,265.6C621.0,265.7 623.8,265.7 626.5,265.8C629.2,265.9 631.9,265.9 634.6,266.0C637.3,266.1 640.0,266.1 642.7,266.2C645.5,266.3 648.2,266.3 650.9,266.4C653.6,266.5 656.3,266.5 659.0,266.6C661.7,266.7 664.4,266.7 667.2,266.8C669.9,266.9 672.6,266.9 675.3,267.0C678.0,267.1 680.7,267.1 683.4,267.2C686.1,267.3 688.9,267.3 691.6,267.4C694.3,267.5 698.3,267.6 699.7,267.6" stroke="#9a32cd" stroke-dasharray="8,8"/>
<path d="M134.3,267.5C135.6,267.8 139.6,268.7 142.3,269.3C145.0,269.9 147.6,270.4 150.3,271.0C152.9,271.6 155.6,272.2 158.3,272.8C160.9,273.4 163.6,274.0 166.3,274.6C168.9,275.2 171.6,275.8 174.2,276.4C176.9,277.0 179.6,277.6 182.2,278.2C184.9,278.8 187.5,279.4 190.2,280.0C192.9,280.6 195.5,281.2 198.2,281.8C200.8,282.4 203.5,283.1 206.2,283.7C208.8,284.3 211.5,284.9 214.1,285.5C216.8,286.1 219.5,286.7 222.1,287.3C224.8,287.9 227.4,288.6 230.1,289.2C232.8,289.8 235.4,290.4 238.1,291.0C240.7,291.6 243.4,292.3 246.0,292.9C248.7,293.5 251.4,294.1 254.0,294.7C256.7,295.4 259.3,296.0 262.0,296.6C264.7,297.2 267.3,297.8 270.0,298.5C272.6,299.1 275.3,299.7 277.9,300.3C280.6,301.0 283.3,301.6 285.9,302.2C288.6,302.9 291.2,303.5 293.9,304.1C296.5,304.7 299.2,305.4 301.8,306.0C304.5,306.6 307.2,307.3 309.8,307.9C312.5,308.5 315.1,309.2 317.8,309.8C320.4,310.4 323.1,311.0 325.7,311.7C328.4,312.3 331.1,312.9 333.7,313.6C336.4,314.2 339.0,314.9 341.7,315.5C344.3,316.1 347.0,316.8 349.6,317.4C352.3,318.0 355.0,318.7 357.6,319.3C360.3,319.9 362.9,320.6 365.6,321.2C368.2,321.8 370.9,322.5 373.5,323.1C376.2,323.8 378.8,324.4 381.5,325.0C384.2,325.7 386.8,326.3 389.5,327.0C392.1,327.6 394.8,328.2 397.4,328.9C400.1,329.5 402.7,330.1 405.4,330.8C408.0,331.4 410.7,332.1 413.3,332.7C416.0,333.3 418.7,334.0 421.3,334.6C424.0,335.3 426.6,335.9 429.3,336.5C431.9,337.2 434.6,337.8 437.2,338.5C439.9,339.1 442.5,339.7 445.2,340.4C447.8,341.0 450.5,341.7 453.1,342.3C455.8,342.9 458.5,343.6 461.1,344.2C463.8,344.9 466.4,345.5 469.1,346.1C471.7,346.8 474.4,347.4 477.0,348.1C479.7,348.7 482.3,349.3 485.0,350.0C487.6,350.6 490.3,351.2 492.9,351.9C495.6,352.5 498.3,353.2 500.9,353.8C503.6,354.4 506.2,355.1 508.9,355.7C511.5,356.3 514.2,357.0 516.8,357.6C519.5,358.2 522.1,358.9 524.8,359.5C527.4,360.2 530.1,360.8 532.8,361.4C535.4,362.1 538.1,362.7 540.7,363.3C543.4,364.0 546.0,364.6 548.7,365.2C551.3,365.8 554.0,366.5 556.6,367.1C559.3,367.7 561.9,368.4 564.6,369.0C567.2,369.6 569.9,370.3 572.6,370.9C575.2,371.5 577.9,372.1 580.5,372.8C583.2,373.4 585.8,374.0 588.5,374.6C591.1,375.3 593.8,375.9 596.4,376.5C599.1,377.1 601.8,377.8 604.4,378.4C607.1,379.0 609.7,379.6 612.4,380.2C615.0,380.9 617.7,381.5 620.3,382.1C623.0,382.7 625.6,383.3 628.3,383.9C631.0,384.6 633.6,385.2 636.3,385.8C638.9,386.4 641.6,387.0 644.2,387.6C646.9,388.2 649.5,388.9 652.2,389.5C654.9,390.1 657.5,390.7 660.2,391.3C662.8,391.9 665.5,392.5 668.1,393.1C670.8,393.7 673.5,394.3 676.1,394.9C678.8,395.5 681.4,396.1 684.1,396.7C686.7,397.3 689.4,397.9 692.1,398.5C694.7,399.1 697.4,399.7 700.0,400.3C702.7,400.9 706.7,401.8 708.0,402.1" stroke="#9a32cd" stroke-dasharray="8,8"/>
<path d="M67.9,278.3C68.2,279.6 69.1,283.5 69.7,286.1C70.3,288.7 70.9,291.3 71.5,293.9C72.1,296.5 72.6,299.1 73.2,301.7C73.8,304.3 74.4,306.9 74.9,309.6C75.5,312.2 76.1,314.8 76.7,317.5C77.2,320.1 77.8,322.8 78.3,325.4C78.9,328.1 79.5,330.7 80.0,333.4C80.6,336.0 81.1,338.7 81.7,341.4C82.3,344.0 82.8,346.7 83.4,349.4C83.9,352.0 84.5,354.7 85.1,357.4C85.6,360.1 86.2,362.7 86.8,365.4C87.3,368.1 87.9,370.8 88.5,373.4C89.1,376.1 89.6,378.8 90.2,381.5C90.8,384.2 91.4,386.9 92.0,389.5C92.6,392.2 93.1,394.9 93.7,397.6C94.3,400.3 95.0,402.9 95.6,405.6C96.2,408.3 96.8,411.0 97.4,413.7C98.0,416.3 98.7,419.0 99.3,421.7C100.0,424.4 100.6,427.0 101.3,429.7C101.9,432.4 102.6,435.0 103.3,437.7C103.9,440.4 104.6,443.0 105.3,445.7C106.0,448.3 106.7,451.0 107.4,453.6C108.1,456.3 108.9,458.9 109.6,461.5C110.3,464.2 111.1,466.8 111.9,469.4C112.6,472.1 113.4,474.7 114.2,477.3C115.0,479.9 115.8,482.5 116.6,485.1C117.4,487.7 118.2,490.3 119.1,492.9C119.9,495.5 120.8,498.1 121.7,500.7C122.5,503.2 123.4,505.8 124.3,508.4C125.3,510.9 126.2,513.5 127.1,516.0C128.1,518.6 129.0,521.1 130.0,523.6C131.0,526.1 132.0,528.6 133.0,531.2C134.0,533.7 135.0,536.2 136.1,538.6C137.1,541.1 138.2,543.6 139.3,546.1C140.4,548.5 141.5,551.0 142.6,553.4C143.8,555.9 144.9,558.3 146.1,560.7C147.3,563.1 148.5,565.5 149.7,567.9C150.9,570.3 152.2,572.7 153.4,575.1C154.7,577.4 156.0,579.8 157.3,582.2C158.6,584.5 159.9,586.8 161.3,589.2C162.6,591.5 164.0,593.8 165.3,596.1C166.7,598.4 168.1,600.7 169.5,603.0C171.0,605.3 172.4,607.6 173.8,609.8C175.3,612.1 176.8,614.3 178.3,616.6C179.7,618.8 181.3,621.1 182.8,623.3C184.3,625.5 185.8,627.7 187.4,629.9C188.9,632.1 190.5,634.3 192.1,636.5C193.7,638.7 195.3,640.9 196.9,643.0C198.5,645.2 200.1,647.4 201.8,649.5C203.4,651.7 205.1,653.8 206.8,655.9C208.4,658.1 210.1,660.2 211.8,662.3C213.5,664.4 215.2,666.5 216.9,668.6C218.7,670.7 220.4,672.8 222.1,674.9C223.9,677.0 225.7,679.1 227.4,681.1C229.2,683.2 231.0,685.3 232.8,687.3C234.6,689.4 236.4,691.4 238.2,693.5C240.0,695.5 241.8,697.5 243.6,699.5C245.5,701.6 247.3,703.6 249.2,705.6C251.0,707.6 252.9,709.6 254.7,711.6C256.6,713.6 258.5,715.6 260.3,717.6C262.2,719.6 264.1,721.6 266.0,723.5C267.9,725.5 269.8,727.5 271.7,729.4C273.6,731.4 275.5,733.4 277.5,735.3C279.4,737.3 281.3,739.2 283.2,741.2C285.2,743.1 287.1,745.0 289.1,747.0C291.0,748.9 292.9,750.8 294.9,752.7C296.8,754.7 298.8,756.6 300.8,758.5C302.7,760.4 304.7,762.3 306.6,764.2C308.6,766.1 310.6,768.0 312.5,769.9C314.5,771.8 316.5,773.7 318.4,775.6C320.4,777.5 322.4,779.4 324.4,781.3C326.3,783.2 328.3,785.0 330.3,786.9C332.2,788.8 334.2,790.7 336.1,792.6C338.1,794.5 340.1,796.4 342.0,798.3C344.0,800.1 345.9,802.0 347.9,803.9C349.8,805.8 351.7,807.7 353.7,809.6C355.6,811.5 357.5,813.4 359.4,815.4C361.4,817.3 363.3,819.2 365.2,821.1C367.1,823.0 368.9,825.0 370.8,826.9C372.7,828.8 374.6,830.8 376.4,832.7C378.3,834.7 380.1,836.6 381.9,838.6C383.8,840.6 385.6,842.5 387.4,844.5C389.2,846.5 391.0,848.5 392.7,850.5C394.5,852.5 397.1,855.6 398.0,856.6" stroke="#9a32cd" stroke-dasharray="8,8"/>
<path d="M82.5,274.7C83.3,275.8 85.7,279.1 87.3,281.3C88.8,283.5 90.5,285.7 92.1,287.8C93.7,290.0 95.3,292.1 96.9,294.2C98.6,296.4 100.2,298.5 101.9,300.6C103.5,302.7 105.2,304.7 106.8,306.8C108.5,308.9 110.2,310.9 111.9,313.0C113.6,315.0 115.3,317.1 117.0,319.1C118.7,321.1 120.4,323.1 122.1,325.1C123.8,327.1 125.6,329.1 127.3,331.1C129.1,333.1 130.8,335.1 132.6,337.1C134.3,339.1 136.1,341.0 137.9,343.0C139.7,345.0 141.4,347.0 143.2,348.9C145.0,350.9 146.8,352.9 148.6,354.8C150.4,356.8 152.3,358.7 154.1,360.7C155.9,362.7 157.7,364.6 159.6,366.6C161.4,368.6 163.3,370.5 165.1,372.5C167.0,374.5 168.8,376.4 170.7,378.4C172.6,380.4 174.4,382.4 176.3,384.4C178.2,386.4 180.1,388.3 182.0,390.3C183.9,392.3 185.8,394.3 187.7,396.3C189.7,398.3 191.6,400.3 193.5,402.2C195.5,404.2 197.4,406.2 199.4,408.1C201.3,410.1 203.3,412.0 205.3,414.0C207.3,415.9 209.3,417.8 211.3,419.8C213.3,421.7 215.3,423.6 217.3,425.4C219.3,427.3 221.4,429.2 223.4,431.0C225.5,432.9 227.5,434.7 229.6,436.5C231.7,438.3 233.8,440.0 235.9,441.8C238.0,443.5 240.1,445.3 242.3,446.9C244.4,448.6 246.5,450.3 248.7,451.9C250.9,453.5 253.0,455.1 255.2,456.7C257.4,458.3 259.6,459.8 261.9,461.3C264.1,462.8 266.3,464.2 268.6,465.6C270.9,467.0 273.1,468.4 275.4,469.8C277.7,471.1 280.0,472.4 282.3,473.7C284.6,475.0 287.0,476.3 289.3,477.5C291.7,478.7 294.0,479.9 296.4,481.0C298.7,482.2 301.1,483.3 303.5,484.4C305.9,485.5 308.3,486.6 310.7,487.6C313.2,488.7 315.6,489.7 318.0,490.7C320.5,491.6 322.9,492.6 325.4,493.5C327.9,494.5 330.4,495.4 332.8,496.3C335.3,497.1 337.8,498.0 340.3,498.8C342.8,499.6 345.4,500.4 347.9,501.2C350.4,502.0 352.9,502.8 355.5,503.5C358.0,504.2 360.6,505.0 363.1,505.7C365.7,506.3 368.3,507.0 370.9,507.7C373.4,508.3 376.0,509.0 378.6,509.6C381.2,510.2 383.8,510.8 386.4,511.3C389.0,511.9 391.6,512.5 394.3,513.0C396.9,513.6 399.5,514.1 402.1,514.6C404.8,515.1 407.4,515.6 410.0,516.1C412.7,516.5 415.3,517.0 418.0,517.4C420.6,517.9 423.3,518.3 425.9,518.7C428.6,519.2 431.3,519.6 433.9,520.0C436.6,520.4 439.3,520.7 442.0,521.1C444.6,521.5 447.3,521.9 450.0,522.2C452.7,522.6 455.3,522.9 458.0,523.2C460.7,523.6 463.4,523.9 466.1,524.2C468.8,524.5 471.5,524.8 474.2,525.1C476.8,525.4 479.5,525.7 482.2,526.0C484.9,526.3 487.6,526.6 490.3,526.9C493.0,527.2 495.7,527.4 498.4,527.7C501.1,528.0 503.8,528.2 506.4,528.5C509.1,528.7 511.8,529.0 514.5,529.3C517.2,529.5 519.9,529.7 522.6,530.0C525.3,530.2 528.0,530.5 530.7,530.7C533.4,530.9 536.0,531.2 538.7,531.4C541.4,531.6 544.1,531.8 546.8,532.0C549.5,532.3 552.2,532.5 554.9,532.7C557.6,532.9 560.3,533.1 562.9,533.3C565.6,533.5 568.3,533.7 571.0,533.9C573.7,534.1 576.4,534.2 579.1,534.4C581.8,534.6 584.5,534.8 587.1,535.0C589.8,535.1 592.5,535.3 595.2,535.5C597.9,535.6 600.6,535.8 603.3,536.0C606.0,536.1 608.7,536.3 611.3,536.4C614.0,536.6 616.7,536.7 619.4,536.9C622.1,537.0 624.8,537.1 627.5,537.3C630.2,537.4 632.9,537.5 635.5,537.7C638.2,537.8 640.9,537.9 643.6,538.0C646.3,538.2 649.0,538.3 651.7,538.4C654.4,538.5 657.0,538.6 659.7,538.7C662.4,538.8 665.1,539.0 667.8,539.1C670.5,539.2 673.2,539.3 675.9,539.3C678.5,539.4 681.2,539.5 683.9,539.6C686.6,539.7 689.3,539.8 692.0,539.9C694.7,540.0 697.4,540.0 700.0,540.1C702.7,540.2 705.4,540.3 708.1,540.3C710.8,540.4 713.5,540.5 716.2,540.5C718.9,540.6 721.5,540.7 724.2,540.7C726.9,540.8 729.6,540.9 732.3,540.9C735.0,541.0 737.7,541.0 740.3,541.1C743.0,541.1 745.7,541.2 748.4,541.2C751.1,541.2 753.8,541.3 756.5,541.3C759.2,541.4 761.8,541.4 764.5,541.4C767.2,541.5 769.9,541.5 772.6,541.5C775.3,541.6 778.0,541.6 780.6,541.6C783.3,541.6 786.0,541.7 788.7,541.7C791.4,541.7 794.1,541.7 796.8,541.7C799.5,541.7 802.1,541.8 804.8,541.8C807.5,541.8 810.2,541.8 812.9,541.8C815.6,541.8 818.3,541.8 820.9,541.8C823.6,541.8 826.3,541.8 829.0,541.8C831.7,541.8 834.4,541.8 837.1,541.8C839.8,541.8 842.4,541.8 845.1,541.8C847.8,541.8 850.5,541.8 853.2,541.8C855.9,541.8 858.6,541.7 861.3,541.7C863.9,541.7 866.6,541.7 869.3,541.7C872.0,541.7 874.7,541.6 877.4,541.6C880.1,541.6 882.7,541.6 885.4,541.6C888.1,541.5 890.8,541.5 893.5,541.5C896.2,541.5 898.9,541.4 901.6,541.4C904.2,541.4 906.9,541.4 909.6,541.3C912.3,541.3 915.0,541.3 917.7,541.2C920.4,541.2 923.1,541.2 925.7,541.1C928.4,541.1 931.1,541.1 933.8,541.0C936.5,541.0 939.2,540.9 941.9,540.9C944.6,540.9 947.2,540.8 949.9,540.8C952.6,540.7 955.3,540.7 958.0,540.7C960.7,540.6 963.4,540.6 966.1,540.5C968.7,540.5 971.4,540.5 974.1,540.4C976.8,540.4 979.5,540.3 982.2,540.3C984.9,540.2 987.6,540.2 990.3,540.1C992.9,540.1 995.6,540.0 998.3,540.0C1001.0,540.0 1003.7,539.9 1006.4,539.9C1009.1,539.8 1011.8,539.8 1014.5,539.7C1017.1,539.7 1019.8,539.6 1022.5,539.6C1025.2,539.5 1027.9,539.5 1030.6,539.4C1033.3,539.4 1036.0,539.3 1038.7,539.3C1041.3,539.2 1044.0,539.2 1046.7,539.1C1049.4,539.1 1052.1,539.0 1054.8,539.0C1057.5,538.9 1060.2,538.9 1062.9,538.8C1065.6,538.8 1068.2,538.7 1070.9,538.7C1073.6,538.6 1076.3,538.6 1079.0,538.5C1081.7,538.5 1084.4,538.4 1087.1,538.4C1089.8,538.4 1092.5,538.3 1095.1,538.3C1097.8,538.2 1100.5,538.2 1103.2,538.1C1105.9,538.1 1108.6,538.0 1111.3,538.0C1114.0,537.9 1116.7,537.9 1119.4,537.9C1122.1,537.8 1124.8,537.8 1127.4,537.7C1130.1,537.7 1132.8,537.7 1135.5,537.6C1138.2,537.6 1142.3,537.5 1143.6,537.5" stroke="#9a32cd" stroke-dasharray="8,8"/>
<path d="M504.5,429.9C505.8,429.1 510.0,426.9 512.4,425.1C514.8,423.4 516.9,421.5 518.7,419.6C520.5,417.6 522.1,415.4 523.5,413.2C524.8,411.0 526.0,408.6 526.9,406.2C527.8,403.8 528.5,401.2 529.0,398.6C529.5,396.0 529.8,393.3 530.0,390.6C530.2,387.8 530.2,385.0 530.2,382.2C530.2,379.4 530.0,376.5 529.9,373.6C529.8,370.7 529.6,367.8 529.6,365.0C529.5,362.1 529.4,359.3 529.4,356.5C529.5,353.7 529.6,350.9 529.9,348.3C530.2,345.6 530.7,342.9 531.3,340.4C531.9,337.9 532.7,335.4 533.6,333.1C534.6,330.7 535.7,328.5 537.0,326.4C538.3,324.2 539.8,322.2 541.4,320.3C543.0,318.4 544.9,316.7 546.9,315.1C548.8,313.5 551.0,312.0 553.4,310.7C555.7,309.3 558.2,308.2 560.7,307.0C563.3,305.9 566.0,305.0 568.7,304.0C571.4,303.1 574.2,302.3 577.0,301.4C579.8,300.6 582.6,299.9 585.4,299.2C588.2,298.5 591.0,297.8 593.8,297.1C596.5,296.5 599.3,295.9 602.1,295.3C604.8,294.7 607.6,294.1 610.3,293.6C613.1,293.0 615.8,292.5 618.6,292.0C621.3,291.5 624.0,291.0 626.7,290.6C629.5,290.1 632.2,289.6 634.9,289.2C637.6,288.8 640.3,288.3 643.0,287.9C645.7,287.5 648.4,287.1 651.1,286.7C653.8,286.3 656.5,285.9 659.2,285.5C661.9,285.1 664.6,284.7 667.3,284.3C670.0,283.9 672.7,283.6 675.4,283.2C678.1,282.8 680.8,282.3 683.5,281.9C686.2,281.5 688.9,281.1 691.6,280.7C694.3,280.2 698.3,279.5 699.7,279.3" stroke="#9a32cd" stroke-dasharray="8,8"/>
<path d="M534.6,442.9C537.5,442.4 539.0,441.7 552.3,440.2C565.6,438.7 591.4,436.6 614.6,434.0C637.8,431.4 678.6,426.2 691.4,424.7" stroke="#9a32cd" stroke-dasharray="8,8"/>
<path d="M433.0,489.5C433.5,490.7 435.2,494.4 436.3,496.9C437.4,499.3 438.5,501.8 439.6,504.3C440.7,506.7 441.8,509.2 442.9,511.6C444.1,514.1 445.2,516.5 446.3,519.0C447.5,521.5 448.6,523.9 449.8,526.4C450.9,528.8 452.1,531.3 453.3,533.7C454.4,536.2 455.6,538.6 456.8,541.1C458.0,543.5 459.2,546.0 460.4,548.4C461.6,550.9 462.8,553.3 464.0,555.8C465.2,558.2 466.4,560.7 467.6,563.1C468.9,565.5 470.1,568.0 471.3,570.4C472.6,572.9 473.8,575.3 475.1,577.7C476.3,580.1 477.6,582.6 478.9,585.0C480.2,587.4 481.4,589.9 482.7,592.3C484.0,594.7 485.3,597.1 486.6,599.5C487.9,601.9 489.2,604.3 490.6,606.8C491.9,609.2 493.2,611.6 494.5,614.0C495.9,616.4 497.2,618.8 498.6,621.1C499.9,623.5 501.3,625.9 502.7,628.3C504.0,630.7 505.4,633.1 506.8,635.4C508.2,637.8 509.6,640.2 511.0,642.5C512.4,644.9 513.8,647.3 515.2,649.6C516.6,652.0 518.1,654.3 519.5,656.7C520.9,659.0 522.4,661.3 523.8,663.7C525.3,666.0 526.8,668.3 528.2,670.7C529.7,673.0 531.2,675.3 532.7,677.6C534.2,679.9 535.7,682.2 537.2,684.5C538.7,686.8 540.2,689.1 541.7,691.4C543.3,693.6 544.8,695.9 546.3,698.2C547.9,700.5 549.4,702.7 551.0,705.0C552.6,707.2 554.1,709.5 555.7,711.7C557.3,713.9 558.9,716.2 560.5,718.4C562.1,720.6 563.7,722.8 565.4,725.0C567.0,727.2 568.6,729.4 570.3,731.6C571.9,733.8 573.6,735.9 575.3,738.1C576.9,740.3 578.6,742.4 580.3,744.5C582.0,746.7 583.7,748.8 585.5,750.9C587.2,753.0 588.9,755.1 590.7,757.2C592.4,759.3 594.2,761.3 596.0,763.4C597.7,765.4 599.5,767.5 601.3,769.5C603.1,771.5 605.0,773.5 606.8,775.5C608.6,777.5 610.5,779.5 612.3,781.5C614.2,783.4 616.1,785.4 618.0,787.3C619.9,789.3 621.8,791.2 623.7,793.1C625.7,795.0 627.6,796.8 629.6,798.7C631.5,800.6 633.5,802.4 635.5,804.2C637.5,806.1 639.5,807.9 641.5,809.7C643.5,811.4 645.6,813.2 647.7,815.0C649.7,816.7 651.8,818.4 653.9,820.1C656.0,821.8 658.1,823.5 660.2,825.2C662.4,826.8 664.5,828.5 666.7,830.1C668.9,831.7 671.1,833.3 673.3,834.9C675.5,836.5 677.7,838.0 680.0,839.6C682.2,841.1 684.5,842.6 686.8,844.1C689.1,845.5 691.4,847.0 693.7,848.4C696.1,849.9 698.4,851.3 700.8,852.6C703.2,854.0 706.8,856.0 708.0,856.7" stroke="#9a32cd" stroke-dasharray="8,8"/>
<path d="M785.8,292.8C786.6,293.9 789.1,297.2 790.8,299.3C792.4,301.5 794.2,303.6 795.9,305.7C797.6,307.8 799.4,309.9 801.2,312.0C803.0,314.1 804.8,316.2 806.5,318.3C808.3,320.4 810.1,322.5 811.9,324.6C813.7,326.7 815.5,328.8 817.2,330.9C819.0,333.0 820.8,335.1 822.5,337.3C824.2,339.4 825.9,341.6 827.5,343.8C829.2,345.9 830.8,348.1 832.3,350.4C833.9,352.6 835.4,354.8 836.9,357.1C838.3,359.4 839.7,361.8 841.1,364.1C842.4,366.5 843.7,368.9 844.9,371.3C846.1,373.7 847.3,376.2 848.4,378.7C849.6,381.1 850.7,383.6 851.8,386.2C852.9,388.7 853.9,391.2 855.0,393.8C856.0,396.3 857.1,398.9 858.1,401.4C859.2,404.0 860.2,406.6 861.3,409.1C862.3,411.7 863.4,414.3 864.5,416.8C865.6,419.3 866.8,421.8 868.0,424.3C869.2,426.7 870.4,429.2 871.8,431.5C873.1,433.8 874.5,436.1 876.0,438.3C877.5,440.5 879.1,442.6 880.8,444.5C882.5,446.5 884.3,448.4 886.2,450.1C888.2,451.8 890.3,453.5 892.4,454.9C894.6,456.4 896.9,457.8 899.3,459.0C901.6,460.3 904.1,461.4 906.6,462.5C909.1,463.5 911.7,464.4 914.3,465.3C917.0,466.1 919.6,466.8 922.3,467.5C925.0,468.2 927.7,468.7 930.4,469.2C933.1,469.8 935.8,470.2 938.5,470.5C941.2,470.9 943.9,471.2 946.7,471.4C949.4,471.7 952.1,471.8 954.9,471.9C957.6,472.1 960.3,472.1 963.1,472.2C965.8,472.2 968.6,472.2 971.3,472.1C974.0,472.0 976.8,471.9 979.5,471.8C982.3,471.7 985.1,471.6 987.8,471.4C990.6,471.2 993.3,471.0 996.1,470.8C998.8,470.6 1001.6,470.4 1004.3,470.2C1007.1,470.0 1009.8,469.7 1012.6,469.5C1015.3,469.3 1018.1,469.1 1020.8,468.9C1023.6,468.6 1026.3,468.4 1029.1,468.3C1031.8,468.1 1034.5,467.9 1037.3,467.8C1040.0,467.7 1042.7,467.5 1045.4,467.5C1048.2,467.4 1050.9,467.3 1053.6,467.4C1056.3,467.4 1059.0,467.4 1061.7,467.5C1064.4,467.6 1067.1,467.7 1069.8,467.9C1072.5,468.1 1075.1,468.4 1077.8,468.7C1080.5,469.0 1083.1,469.4 1085.8,469.9C1088.4,470.4 1091.0,470.9 1093.7,471.5C1096.3,472.1 1098.9,472.8 1101.5,473.6C1104.1,474.4 1106.7,475.3 1109.3,476.2C1111.9,477.2 1114.5,478.2 1117.0,479.2C1119.6,480.3 1122.1,481.4 1124.7,482.6C1127.2,483.8 1129.7,485.0 1132.2,486.3C1134.8,487.6 1137.3,488.9 1139.8,490.2C1142.3,491.5 1144.7,492.9 1147.2,494.3C1149.7,495.6 1152.2,497.0 1154.6,498.4C1157.1,499.8 1159.5,501.2 1161.9,502.6C1164.4,504.0 1166.8,505.4 1169.2,506.8C1171.6,508.1 1174.0,509.5 1176.4,510.8C1178.8,512.1 1181.2,513.4 1183.5,514.7C1185.9,515.9 1188.2,517.2 1190.6,518.3C1192.9,519.5 1196.4,521.1 1197.6,521.7" stroke="#9a32cd" stroke-dasharray="8,8"/>
<path d="M786.9,392.5C787.8,391.4 790.4,388.0 792.2,385.8C793.9,383.6 795.7,381.4 797.6,379.3C799.4,377.1 801.3,375.0 803.2,372.9C805.0,370.8 807.0,368.7 808.9,366.7C810.9,364.7 812.8,362.7 814.8,360.7C816.8,358.7 818.9,356.8 820.9,354.9C823.0,353.0 825.1,351.2 827.2,349.4C829.3,347.6 831.4,345.8 833.6,344.1C835.8,342.4 838.0,340.8 840.2,339.1C842.4,337.5 844.7,336.0 847.0,334.5C849.3,333.0 851.6,331.5 853.9,330.1C856.3,328.7 858.6,327.4 861.0,326.1C863.4,324.8 865.9,323.6 868.3,322.4C870.8,321.3 873.2,320.2 875.7,319.1C878.2,318.0 880.8,317.0 883.3,316.1C885.9,315.1 888.4,314.2 891.0,313.4C893.6,312.5 896.2,311.8 898.8,311.0C901.5,310.3 904.1,309.6 906.8,308.9C909.4,308.3 912.1,307.7 914.8,307.1C917.5,306.5 920.2,306.0 922.9,305.5C925.7,305.1 928.4,304.6 931.1,304.2C933.9,303.8 936.7,303.4 939.4,303.0C942.2,302.7 945.0,302.4 947.8,302.0C950.5,301.7 953.3,301.5 956.1,301.2C958.9,300.9 961.7,300.7 964.5,300.5C967.3,300.2 970.2,300.0 973.0,299.8C975.8,299.6 978.6,299.4 981.4,299.2C984.2,299.0 987.1,298.9 989.9,298.7C992.7,298.5 995.5,298.3 998.3,298.1C1001.1,298.0 1003.9,297.8 1006.7,297.6C1009.5,297.4 1012.3,297.2 1015.1,297.0C1017.9,296.8 1020.7,296.6 1023.5,296.4C1026.2,296.2 1029.0,296.0 1031.8,295.7C1034.6,295.5 1037.4,295.3 1040.1,295.1C1042.9,294.9 1045.7,294.6 1048.4,294.4C1051.2,294.2 1054.0,294.0 1056.7,293.7C1059.5,293.5 1062.3,293.2 1065.0,293.0C1067.8,292.8 1070.5,292.5 1073.3,292.3C1076.0,292.0 1078.8,291.8 1081.5,291.5C1084.3,291.3 1087.1,291.0 1089.8,290.8C1092.6,290.5 1095.3,290.3 1098.1,290.0C1100.8,289.7 1103.6,289.5 1106.3,289.2C1109.1,288.9 1111.8,288.7 1114.6,288.4C1117.3,288.2 1120.1,287.9 1122.8,287.6C1125.6,287.4 1128.4,287.1 1131.1,286.8C1133.9,286.5 1138.0,286.1 1139.4,286.0" stroke="#9a32cd" stroke-dasharray="8,8"/>
<path d="M815.9,396.6C817.2,396.2 821.1,395.2 823.8,394.5C826.4,393.7 829.0,393.0 831.6,392.3C834.2,391.7 836.9,391.0 839.5,390.3C842.1,389.6 844.8,388.9 847.4,388.3C850.0,387.6 852.7,386.9 855.3,386.3C857.9,385.6 860.6,385.0 863.2,384.3C865.8,383.7 868.5,383.1 871.1,382.4C873.8,381.8 876.4,381.2 879.1,380.6C881.7,380.0 884.4,379.4 887.0,378.8C889.6,378.2 892.3,377.6 894.9,377.0C897.6,376.4 900.3,375.8 902.9,375.3C905.6,374.7 908.2,374.1 910.9,373.6C913.5,373.0 916.2,372.5 918.9,371.9C921.5,371.4 924.2,370.8 926.8,370.3C929.5,369.8 932.2,369.3 934.8,368.7C937.5,368.2 940.2,367.7 942.8,367.2C945.5,366.7 948.2,366.2 950.8,365.7C953.5,365.2 956.2,364.8 958.9,364.3C961.5,363.8 964.2,363.3 966.9,362.9C969.6,362.4 972.2,362.0 974.9,361.5C977.6,361.1 980.3,360.6 983.0,360.2C985.6,359.8 988.3,359.4 991.0,358.9C993.7,358.5 996.4,358.1 999.1,357.7C1001.7,357.3 1004.4,356.9 1007.1,356.5C1009.8,356.1 1012.5,355.7 1015.2,355.4C1017.9,355.0 1020.6,354.6 1023.3,354.2C1026.0,353.9 1028.6,353.5 1031.3,353.2C1034.0,352.8 1036.7,352.5 1039.4,352.1C1042.1,351.8 1044.8,351.5 1047.5,351.2C1050.2,350.8 1052.9,350.5 1055.6,350.2C1058.3,349.9 1061.0,349.6 1063.7,349.3C1066.4,349.0 1069.1,348.7 1071.8,348.4C1074.5,348.2 1077.2,347.9 1079.9,347.6C1082.6,347.3 1085.3,347.1 1088.0,346.8C1090.7,346.6 1093.4,346.3 1096.1,346.1C1098.8,345.9 1101.6,345.6 1104.3,345.4C1107.0,345.2 1109.7,345.0 1112.4,344.7C1115.1,344.5 1117.8,344.3 1120.5,344.1C1123.2,343.9 1125.9,343.7 1128.6,343.6C1131.4,343.4 1134.1,343.2 1136.8,343.0C1139.5,342.8 1142.2,342.7 1144.9,342.5C1147.6,342.4 1150.3,342.2 1153.0,342.1C1155.8,341.9 1158.5,341.8 1161.2,341.7C1163.9,341.5 1166.6,341.4 1169.3,341.3C1172.0,341.2 1174.8,341.1 1177.5,341.0C1180.2,340.9 1182.9,340.8 1185.6,340.7C1188.3,340.6 1191.0,340.5 1193.8,340.4C1196.5,340.4 1199.2,340.3 1201.9,340.2C1204.6,340.2 1207.3,340.1 1210.1,340.1C1212.8,340.0 1215.5,340.0 1218.2,340.0C1220.9,339.9 1223.6,339.9 1226.4,339.9C1229.1,339.9 1231.8,339.8 1234.5,339.8C1237.2,339.8 1239.9,339.8 1242.7,339.8C1245.4,339.9 1248.1,339.9 1250.8,339.9C1253.5,339.9 1256.2,339.9 1259.0,340.0C1261.7,340.0 1264.4,340.1 1267.1,340.1C1269.8,340.1 1272.5,340.2 1275.3,340.3C1278.0,340.3 1280.7,340.4 1283.4,340.5C1286.1,340.6 1288.8,340.6 1291.6,340.7C1294.3,340.8 1297.0,340.9 1299.7,341.0C1302.4,341.1 1305.1,341.2 1307.8,341.4C1310.6,341.5 1313.3,341.6 1316.0,341.7C1318.7,341.9 1321.4,342.0 1324.1,342.1C1326.8,342.3 1329.5,342.4 1332.3,342.6C1335.0,342.8 1337.7,342.9 1340.4,343.1C1343.1,343.3 1345.8,343.4 1348.5,343.6C1351.2,343.8 1353.9,344.0 1356.6,344.2C1359.4,344.4 1362.1,344.6 1364.8,344.8C1367.5,345.0 1370.2,345.3 1372.9,345.5C1375.6,345.7 1378.3,346.0 1381.0,346.2C1383.7,346.4 1386.4,346.7 1389.1,346.9C1391.8,347.2 1394.5,347.5 1397.2,347.7C1399.9,348.0 1402.6,348.3 1405.3,348.6C1408.0,348.8 1410.7,349.1 1413.4,349.4C1416.1,349.7 1418.8,350.0 1421.5,350.3C1424.2,350.6 1426.9,351.0 1429.6,351.3C1432.3,351.6 1435.0,351.9 1437.7,352.3C1440.4,352.6 1443.1,353.0 1445.8,353.3C1448.5,353.7 1451.2,354.0 1453.9,354.4C1456.6,354.7 1459.2,355.1 1461.9,355.5C1464.6,355.9 1467.3,356.3 1470.0,356.6C1472.7,357.0 1475.4,357.4 1478.1,357.8C1480.7,358.2 1483.4,358.7 1486.1,359.1C1488.8,359.5 1491.5,359.9 1494.2,360.4C1496.8,360.8 1499.5,361.2 1502.2,361.7C1504.9,362.1 1507.5,362.6 1510.2,363.0C1512.9,363.5 1515.6,364.0 1518.2,364.4C1520.9,364.9 1523.6,365.4 1526.3,365.9C1528.9,366.4 1531.6,366.9 1534.3,367.4C1536.9,367.9 1539.6,368.4 1542.3,368.9C1544.9,369.4 1547.6,369.9 1550.2,370.4C1552.9,371.0 1555.6,371.5 1558.2,372.1C1560.9,372.6 1563.5,373.1 1566.2,373.7C1568.9,374.3 1571.5,374.8 1574.2,375.4C1576.8,376.0 1579.5,376.5 1582.1,377.1C1584.8,377.7 1587.4,378.3 1590.1,378.9C1592.7,379.5 1596.7,380.4 1598.0,380.7" stroke="#9a32cd" stroke-dasharray="8,8"/>
<path d="M793.1,438.2C794.2,439.1 797.5,441.8 799.7,443.5C802.0,445.3 804.2,447.0 806.4,448.8C808.7,450.5 810.9,452.2 813.2,453.8C815.5,455.5 817.8,457.1 820.1,458.7C822.4,460.3 824.7,461.8 827.1,463.3C829.4,464.8 831.8,466.2 834.2,467.6C836.6,469.0 839.0,470.4 841.4,471.6C843.8,472.9 846.3,474.1 848.8,475.3C851.3,476.5 853.8,477.5 856.3,478.6C858.8,479.6 861.4,480.6 863.9,481.5C866.5,482.5 869.1,483.3 871.7,484.2C874.3,485.0 876.9,485.8 879.6,486.5C882.2,487.3 884.9,487.9 887.5,488.6C890.2,489.3 892.9,489.9 895.6,490.5C898.3,491.1 901.0,491.7 903.7,492.2C906.4,492.8 909.1,493.3 911.8,493.8C914.5,494.4 917.3,494.8 920.0,495.3C922.7,495.8 925.4,496.3 928.2,496.7C930.9,497.2 933.7,497.6 936.4,498.1C939.1,498.5 941.9,498.9 944.6,499.4C947.4,499.8 950.1,500.2 952.9,500.6C955.6,501.0 958.4,501.3 961.2,501.7C963.9,502.1 966.7,502.5 969.4,502.8C972.2,503.2 975.0,503.5 977.7,503.9C980.5,504.2 983.3,504.6 986.1,504.9C988.8,505.2 991.6,505.6 994.4,505.9C997.1,506.2 999.9,506.5 1002.7,506.9C1005.5,507.2 1008.3,507.5 1011.0,507.8C1013.8,508.1 1016.6,508.4 1019.4,508.7C1022.1,509.1 1024.9,509.4 1027.7,509.7C1030.5,510.0 1033.3,510.3 1036.0,510.6C1038.8,510.9 1041.6,511.2 1044.4,511.5C1047.1,511.8 1049.9,512.1 1052.7,512.5C1055.5,512.8 1058.3,513.1 1061.0,513.4C1063.8,513.7 1066.6,514.1 1069.3,514.4C1072.1,514.7 1074.9,515.1 1077.7,515.4C1080.4,515.7 1083.2,516.1 1086.0,516.4C1088.7,516.8 1091.5,517.2 1094.2,517.5C1097.0,517.9 1099.8,518.3 1102.5,518.7C1105.3,519.0 1108.0,519.4 1110.8,519.8C1113.5,520.2 1116.3,520.6 1119.0,521.1C1121.8,521.5 1124.5,521.9 1127.2,522.4C1130.0,522.8 1132.7,523.3 1135.4,523.8C1138.2,524.2 1142.2,525.0 1143.6,525.2" stroke="#9a32cd" stroke-dasharray="8,8"/>
<path d="M1312.5,278.8C1313.9,278.8 1317.9,278.9 1320.6,278.9C1323.3,279.0 1326.1,279.1 1328.8,279.2C1331.5,279.2 1334.2,279.3 1337.0,279.4C1339.7,279.5 1342.4,279.7 1345.2,279.8C1347.9,279.9 1350.6,280.1 1353.4,280.2C1356.1,280.4 1358.9,280.5 1361.6,280.7C1364.4,280.9 1367.1,281.1 1369.9,281.3C1372.6,281.6 1375.3,281.8 1378.1,282.0C1380.8,282.3 1383.6,282.6 1386.3,282.8C1389.1,283.1 1391.8,283.4 1394.6,283.7C1397.3,284.1 1400.0,284.4 1402.8,284.8C1405.5,285.1 1408.3,285.5 1411.0,285.9C1413.7,286.3 1416.4,286.7 1419.2,287.1C1421.9,287.5 1424.6,288.0 1427.3,288.5C1430.0,288.9 1432.8,289.4 1435.5,289.9C1438.2,290.5 1440.9,291.0 1443.6,291.6C1446.3,292.1 1448.9,292.7 1451.6,293.3C1454.3,293.9 1457.0,294.5 1459.6,295.2C1462.3,295.8 1465.0,296.5 1467.6,297.2C1470.3,297.9 1472.9,298.6 1475.5,299.4C1478.2,300.1 1480.8,300.9 1483.4,301.7C1486.0,302.5 1488.6,303.3 1491.2,304.2C1493.8,305.0 1496.4,305.9 1498.9,306.8C1501.5,307.7 1504.0,308.7 1506.6,309.6C1509.1,310.6 1511.7,311.6 1514.2,312.6C1516.7,313.6 1519.2,314.7 1521.7,315.8C1524.2,316.8 1526.7,317.9 1529.1,319.1C1531.6,320.2 1534.0,321.4 1536.5,322.6C1538.9,323.8 1541.3,325.0 1543.7,326.3C1546.1,327.6 1548.5,328.9 1550.8,330.2C1553.2,331.5 1555.6,332.9 1557.9,334.3C1560.2,335.7 1562.5,337.1 1564.8,338.6C1567.1,340.0 1569.4,341.5 1571.7,343.1C1573.9,344.6 1576.2,346.2 1578.4,347.8C1580.6,349.4 1582.8,351.0 1585.0,352.7C1587.2,354.4 1589.3,356.1 1591.5,357.9C1593.6,359.6 1595.7,361.4 1597.8,363.2C1599.9,365.0 1602.0,366.9 1604.0,368.8C1606.0,370.7 1608.1,372.7 1610.1,374.6C1612.1,376.6 1615.0,379.7 1616.0,380.7" stroke="#9a32cd" stroke-dasharray="8,8"/>
<path d="M1270.3,516.3C1271.7,516.0 1275.8,515.2 1278.5,514.6C1281.2,514.1 1283.9,513.5 1286.6,512.9C1289.3,512.3 1292.0,511.7 1294.7,511.1C1297.4,510.4 1300.1,509.8 1302.8,509.2C1305.5,508.5 1308.2,507.9 1310.9,507.2C1313.6,506.5 1316.2,505.8 1318.9,505.1C1321.6,504.4 1324.3,503.7 1326.9,503.0C1329.6,502.3 1332.3,501.6 1334.9,500.8C1337.6,500.1 1340.2,499.3 1342.9,498.6C1345.6,497.8 1348.2,497.1 1350.8,496.3C1353.5,495.5 1356.1,494.7 1358.8,493.9C1361.4,493.1 1364.1,492.3 1366.7,491.5C1369.3,490.7 1372.0,489.9 1374.6,489.0C1377.2,488.2 1379.8,487.3 1382.5,486.5C1385.1,485.6 1387.7,484.8 1390.3,483.9C1392.9,483.1 1395.6,482.2 1398.2,481.3C1400.8,480.4 1403.4,479.5 1406.0,478.6C1408.6,477.8 1411.2,476.9 1413.8,475.9C1416.4,475.0 1419.0,474.1 1421.6,473.2C1424.2,472.3 1426.8,471.4 1429.4,470.4C1432.0,469.5 1434.6,468.6 1437.2,467.6C1439.8,466.7 1442.4,465.8 1445.0,464.8C1447.6,463.9 1450.2,462.9 1452.8,461.9C1455.3,461.0 1457.9,460.0 1460.5,459.1C1463.1,458.1 1465.7,457.1 1468.3,456.2C1470.9,455.2 1473.4,454.2 1476.0,453.2C1478.6,452.3 1481.2,451.3 1483.8,450.3C1486.3,449.3 1488.9,448.3 1491.5,447.3C1494.1,446.3 1496.7,445.4 1499.2,444.4C1501.8,443.4 1504.4,442.4 1507.0,441.4C1509.6,440.4 1512.1,439.4 1514.7,438.4C1517.3,437.4 1519.9,436.4 1522.4,435.4C1525.0,434.4 1527.6,433.4 1530.2,432.4C1532.8,431.5 1535.3,430.5 1537.9,429.5C1540.5,428.5 1543.1,427.5 1545.7,426.5C1548.2,425.5 1550.8,424.5 1553.4,423.5C1556.0,422.5 1558.6,421.5 1561.2,420.6C1563.7,419.6 1566.3,418.6 1568.9,417.6C1571.5,416.6 1574.1,415.7 1576.7,414.7C1579.3,413.7 1581.8,412.7 1584.4,411.8C1587.0,410.8 1589.6,409.8 1592.2,408.9C1594.8,407.9 1598.7,406.5 1600.0,406.0" stroke="#9a32cd" stroke-dasharray="8,8"/>
<path d="M1730.2,385.2C1731.6,385.1 1735.8,384.7 1738.5,384.5C1741.3,384.4 1744.1,384.2 1746.9,384.1C1749.7,384.0 1752.5,384.0 1755.2,383.9C1758.0,383.9 1760.8,383.9 1763.6,384.0C1766.4,384.0 1769.2,384.1 1771.9,384.2C1774.7,384.4 1777.5,384.5 1780.2,384.8C1783.0,385.0 1785.8,385.2 1788.5,385.5C1791.3,385.8 1794.1,386.1 1796.8,386.4C1799.6,386.8 1802.3,387.2 1805.0,387.6C1807.8,388.1 1810.5,388.5 1813.2,389.0C1815.9,389.6 1818.6,390.1 1821.3,390.7C1824.0,391.3 1826.7,391.9 1829.4,392.5C1832.1,393.2 1834.8,393.9 1837.4,394.6C1840.1,395.4 1842.7,396.1 1845.4,396.9C1848.0,397.7 1850.6,398.6 1853.2,399.4C1855.8,400.3 1858.4,401.2 1861.0,402.2C1863.6,403.1 1866.1,404.1 1868.7,405.1C1871.2,406.1 1873.7,407.2 1876.3,408.3C1878.8,409.4 1881.3,410.5 1883.7,411.6C1886.2,412.8 1888.7,414.0 1891.1,415.2C1893.6,416.5 1896.0,417.7 1898.4,419.0C1900.8,420.3 1903.1,421.6 1905.5,423.0C1907.9,424.4 1910.2,425.8 1912.5,427.2C1914.8,428.7 1917.1,430.1 1919.4,431.6C1921.6,433.1 1923.9,434.7 1926.1,436.2C1928.3,437.8 1930.5,439.4 1932.7,441.1C1934.8,442.7 1937.0,444.4 1939.1,446.1C1941.2,447.8 1943.3,449.5 1945.3,451.3C1947.4,453.0 1949.4,454.9 1951.4,456.7C1953.4,458.5 1955.4,460.4 1957.3,462.3C1959.3,464.2 1961.2,466.1 1963.0,468.1C1964.9,470.1 1966.8,472.1 1968.6,474.1C1970.4,476.1 1972.2,478.2 1973.9,480.3C1975.7,482.4 1977.4,484.5 1979.1,486.6C1980.7,488.8 1982.4,491.0 1984.0,493.2C1985.6,495.4 1987.2,497.6 1988.7,499.9C1990.3,502.1 1991.8,504.4 1993.3,506.7C1994.7,509.1 1996.2,511.4 1997.6,513.8C1999.0,516.2 2000.3,518.6 2001.7,521.0C2003.0,523.4 2004.3,525.8 2005.5,528.3C2006.8,530.8 2008.0,533.3 2009.1,535.8C2010.3,538.3 2011.4,540.9 2012.5,543.4C2013.6,546.0 2014.7,548.6 2015.7,551.2C2016.7,553.8 2017.7,556.5 2018.6,559.1C2019.5,561.8 2020.4,564.5 2021.3,567.2C2022.1,569.8 2023.3,573.9 2023.7,575.3" stroke="#9a32cd" stroke-dasharray="8,8"/>
<path d="M1996.6,563.2C1997.5,562.2 1999.6,558.7 2001.7,557.0C2003.8,555.2 2006.5,553.7 2009.3,552.5C2012.1,551.3 2015.3,550.4 2018.5,549.8C2021.7,549.2 2025.2,548.8 2028.6,548.7C2032.0,548.7 2035.6,548.9 2038.9,549.3C2042.2,549.8 2045.6,550.5 2048.5,551.4C2051.5,552.4 2054.4,553.6 2056.7,555.0C2059.0,556.5 2061.1,558.2 2062.3,560.2C2063.6,562.2 2064.4,564.4 2064.2,566.9C2064.0,569.4 2061.5,573.9 2061.0,575.3" stroke="#9a32cd" stroke-dasharray="8,8"/>
<path d="M2009.8,602.2C2008.8,603.0 2005.6,605.6 2003.5,607.3C2001.4,609.0 1999.3,610.7 1997.2,612.4C1995.1,614.0 1993.0,615.7 1990.9,617.4C1988.8,619.1 1986.7,620.8 1984.6,622.5C1982.5,624.2 1980.4,625.9 1978.3,627.6C1976.2,629.3 1974.0,631.0 1971.9,632.7C1969.8,634.4 1967.7,636.1 1965.6,637.8C1963.5,639.5 1961.4,641.2 1959.3,642.9C1957.1,644.6 1955.0,646.3 1952.9,648.0C1950.8,649.7 1948.7,651.4 1946.6,653.1C1944.5,654.8 1942.3,656.5 1940.2,658.2C1938.1,659.9 1936.0,661.6 1933.9,663.3C1931.8,665.1 1929.7,666.8 1927.6,668.5C1925.4,670.2 1923.3,671.9 1921.2,673.6C1919.1,675.4 1917.0,677.1 1914.9,678.8C1912.8,680.5 1910.7,682.3 1908.6,684.0C1906.5,685.7 1904.4,687.5 1902.3,689.2C1900.2,690.9 1898.1,692.7 1896.0,694.4C1893.9,696.2 1891.8,697.9 1889.7,699.7C1887.7,701.4 1885.6,703.2 1883.5,704.9C1881.4,706.7 1879.3,708.4 1877.2,710.2C1875.2,712.0 1873.1,713.7 1871.0,715.5C1869.0,717.3 1866.9,719.0 1864.8,720.8C1862.8,722.6 1860.7,724.4 1858.7,726.2C1856.6,727.9 1854.5,729.7 1852.5,731.5C1850.4,733.3 1848.4,735.1 1846.4,736.9C1844.3,738.7 1842.3,740.5 1840.3,742.3C1838.2,744.2 1836.2,746.0 1834.2,747.8C1832.2,749.6 1830.2,751.4 1828.1,753.3C1826.1,755.1 1824.1,756.9 1822.1,758.8C1820.1,760.6 1818.1,762.5 1816.2,764.3C1814.2,766.2 1812.2,768.0 1810.2,769.9C1808.2,771.7 1806.3,773.6 1804.3,775.5C1802.3,777.3 1800.4,779.2 1798.4,781.1C1796.5,783.0 1794.5,784.9 1792.6,786.8C1790.7,788.7 1788.7,790.6 1786.8,792.5C1784.9,794.4 1783.0,796.3 1781.1,798.2C1779.1,800.2 1777.2,802.1 1775.3,804.0C1773.5,805.9 1771.6,807.9 1769.7,809.8C1767.8,811.8 1765.9,813.7 1764.1,815.7C1762.2,817.7 1760.4,819.6 1758.5,821.6C1756.7,823.6 1754.8,825.6 1753.0,827.5C1751.2,829.5 1749.3,831.5 1747.5,833.5C1745.7,835.5 1743.9,837.5 1742.1,839.6C1740.3,841.6 1738.5,843.6 1736.8,845.6C1735.0,847.7 1733.2,849.7 1731.5,851.8C1729.7,853.8 1728.0,855.9 1726.2,857.9C1724.5,860.0 1722.8,862.1 1721.1,864.2C1719.3,866.3 1717.6,868.3 1715.9,870.4C1714.3,872.5 1712.6,874.7 1710.9,876.8C1709.2,878.9 1707.6,881.0 1705.9,883.1C1704.3,885.3 1702.6,887.4 1701.0,889.6C1699.4,891.7 1697.7,893.9 1696.1,896.1C1694.5,898.2 1692.9,900.4 1691.3,902.6C1689.8,904.8 1688.2,907.0 1686.6,909.2C1685.1,911.4 1683.5,913.6 1682.0,915.8C1680.4,918.1 1678.9,920.3 1677.4,922.6C1675.9,924.8 1674.4,927.1 1672.9,929.3C1671.4,931.6 1670.0,933.9 1668.5,936.2C1667.0,938.4 1665.6,940.7 1664.2,943.0C1662.7,945.4 1661.3,947.7 1659.9,950.0C1658.5,952.3 1657.1,954.7 1655.7,957.0C1654.3,959.4 1653.0,961.7 1651.6,964.1C1650.3,966.4 1648.9,968.8 1647.5,971.2C1646.2,973.5 1644.8,975.9 1643.5,978.3C1642.1,980.7 1640.8,983.0 1639.4,985.4C1638.1,987.8 1636.7,990.1 1635.4,992.5C1634.0,994.8 1632.6,997.2 1631.3,999.5C1629.9,1001.9 1628.5,1004.2 1627.1,1006.5C1625.7,1008.8 1624.3,1011.2 1622.8,1013.4C1621.4,1015.7 1619.9,1018.0 1618.5,1020.3C1617.0,1022.5 1615.5,1024.8 1614.0,1027.0C1612.4,1029.2 1610.9,1031.4 1609.3,1033.6C1607.8,1035.8 1606.2,1037.9 1604.5,1040.1C1602.9,1042.2 1601.3,1044.3 1599.6,1046.4C1597.9,1048.5 1596.1,1050.5 1594.4,1052.5C1592.6,1054.5 1590.8,1056.5 1589.0,1058.5C1587.1,1060.4 1585.2,1062.3 1583.3,1064.2C1581.4,1066.1 1579.4,1068.0 1577.5,1069.8C1575.5,1071.6 1573.5,1073.4 1571.4,1075.2C1569.4,1077.0 1567.3,1078.7 1565.2,1080.4C1563.1,1082.1 1561.0,1083.8 1558.8,1085.5C1556.7,1087.2 1554.5,1088.8 1552.3,1090.5C1550.1,1092.1 1547.9,1093.7 1545.6,1095.3C1543.4,1096.9 1541.1,1098.4 1538.8,1100.0C1536.6,1101.5 1534.3,1103.1 1532.0,1104.6C1529.7,1106.1 1527.3,1107.6 1525.0,1109.1C1522.7,1110.6 1519.2,1112.8 1518.0,1113.5" stroke="#9a32cd" stroke-dasharray="8,8"/>
<path d="M1518.0,1113.5C1516.7,1113.9 1512.7,1115.2 1510.0,1116.0C1507.4,1116.9 1504.7,1117.7 1502.1,1118.5C1499.4,1119.3 1496.7,1120.1 1494.1,1120.9C1491.4,1121.7 1488.7,1122.5 1486.1,1123.3C1483.4,1124.1 1480.7,1124.8 1478.0,1125.6C1475.3,1126.3 1472.7,1127.1 1470.0,1127.8C1467.3,1128.5 1464.6,1129.2 1461.9,1130.0C1459.2,1130.7 1456.5,1131.4 1453.8,1132.1C1451.1,1132.7 1448.4,1133.4 1445.7,1134.1C1443.0,1134.8 1440.3,1135.4 1437.6,1136.1C1434.9,1136.8 1432.2,1137.4 1429.5,1138.0C1426.7,1138.7 1424.0,1139.3 1421.3,1139.9C1418.6,1140.5 1415.9,1141.1 1413.1,1141.7C1410.4,1142.3 1407.7,1142.9 1405.0,1143.5C1402.2,1144.1 1399.5,1144.7 1396.8,1145.3C1394.1,1145.8 1391.3,1146.4 1388.6,1146.9C1385.9,1147.5 1383.1,1148.0 1380.4,1148.6C1377.7,1149.1 1374.9,1149.6 1372.2,1150.1C1369.4,1150.7 1366.7,1151.2 1364.0,1151.7C1361.2,1152.2 1358.5,1152.7 1355.7,1153.2C1353.0,1153.7 1350.2,1154.2 1347.5,1154.6C1344.8,1155.1 1342.0,1155.6 1339.3,1156.0C1336.5,1156.5 1333.8,1157.0 1331.0,1157.4C1328.3,1157.9 1325.5,1158.3 1322.8,1158.8C1320.0,1159.2 1317.3,1159.6 1314.5,1160.0C1311.8,1160.5 1307.7,1161.1 1306.3,1161.3" stroke="#9a32cd" stroke-dasharray="8,8"/>
<path d="M1328.8,1177.8C1330.1,1177.7 1334.2,1177.5 1336.8,1177.3C1339.5,1177.1 1342.2,1177.0 1344.9,1176.8C1347.6,1176.7 1350.2,1176.5 1352.9,1176.4C1355.6,1176.2 1358.3,1176.1 1361.0,1175.9C1363.7,1175.8 1366.4,1175.6 1369.0,1175.5C1371.7,1175.4 1374.4,1175.2 1377.1,1175.1C1379.8,1175.0 1382.5,1174.8 1385.2,1174.7C1387.9,1174.6 1390.6,1174.5 1393.3,1174.3C1396.0,1174.2 1398.7,1174.1 1401.4,1174.0C1404.1,1173.9 1406.8,1173.7 1409.5,1173.6C1412.2,1173.5 1414.9,1173.4 1417.6,1173.3C1420.3,1173.2 1423.0,1173.1 1425.7,1173.0C1428.4,1172.9 1431.1,1172.8 1433.8,1172.6C1436.5,1172.5 1439.2,1172.4 1441.9,1172.3C1444.6,1172.2 1447.3,1172.1 1450.0,1172.0C1452.7,1171.9 1455.5,1171.8 1458.2,1171.7C1460.9,1171.6 1463.6,1171.5 1466.3,1171.4C1469.0,1171.3 1471.7,1171.2 1474.4,1171.1C1477.1,1171.0 1479.9,1170.9 1482.6,1170.8C1485.3,1170.8 1488.0,1170.7 1490.7,1170.6C1493.4,1170.5 1496.1,1170.4 1498.9,1170.3C1501.6,1170.2 1504.3,1170.1 1507.0,1170.0C1509.7,1169.9 1512.4,1169.8 1515.1,1169.7C1517.9,1169.6 1520.6,1169.5 1523.3,1169.4C1526.0,1169.2 1528.7,1169.1 1531.4,1169.0C1534.2,1168.9 1536.9,1168.8 1539.6,1168.7C1542.3,1168.6 1545.0,1168.5 1547.7,1168.4C1550.5,1168.3 1553.2,1168.2 1555.9,1168.0C1558.6,1167.9 1561.3,1167.8 1564.0,1167.7C1566.8,1167.6 1569.5,1167.4 1572.2,1167.3C1574.9,1167.2 1577.6,1167.1 1580.3,1166.9C1583.1,1166.8 1585.8,1166.7 1588.5,1166.5C1591.2,1166.4 1593.9,1166.3 1596.6,1166.1C1599.4,1166.0 1602.1,1165.8 1604.8,1165.7C1607.5,1165.5 1610.2,1165.4 1612.9,1165.2C1615.6,1165.1 1618.4,1164.9 1621.1,1164.8C1623.8,1164.6 1626.5,1164.4 1629.2,1164.3C1631.9,1164.1 1634.6,1163.9 1637.3,1163.7C1640.0,1163.6 1642.8,1163.4 1645.5,1163.2C1648.2,1163.0 1650.9,1162.8 1653.6,1162.6C1656.3,1162.4 1659.0,1162.2 1661.7,1162.0C1664.4,1161.8 1667.1,1161.6 1669.8,1161.4C1672.5,1161.2 1675.2,1161.0 1677.9,1160.7C1680.6,1160.5 1683.3,1160.3 1686.0,1160.1C1688.7,1159.8 1691.4,1159.6 1694.1,1159.3C1696.8,1159.1 1699.5,1158.8 1702.2,1158.6C1704.9,1158.3 1707.6,1158.1 1710.3,1157.8C1713.0,1157.5 1715.7,1157.3 1718.4,1157.0C1721.1,1156.7 1723.8,1156.4 1726.5,1156.1C1729.2,1155.8 1731.9,1155.5 1734.5,1155.2C1737.2,1154.9 1739.9,1154.6 1742.6,1154.3C1745.3,1154.0 1748.0,1153.6 1750.7,1153.3C1753.3,1153.0 1756.0,1152.6 1758.7,1152.3C1761.4,1151.9 1764.0,1151.6 1766.7,1151.2C1769.4,1150.8 1772.1,1150.5 1774.8,1150.1C1777.4,1149.7 1780.1,1149.3 1782.8,1148.9C1785.4,1148.5 1788.1,1148.1 1790.8,1147.7C1793.4,1147.3 1796.1,1146.9 1798.8,1146.5C1801.4,1146.0 1804.1,1145.6 1806.8,1145.2C1809.4,1144.7 1812.1,1144.3 1814.7,1143.8C1817.4,1143.3 1820.0,1142.9 1822.7,1142.4C1825.3,1141.9 1828.0,1141.4 1830.6,1140.9C1833.3,1140.4 1835.9,1139.9 1838.6,1139.4C1841.2,1138.9 1843.9,1138.4 1846.5,1137.8C1849.1,1137.3 1851.8,1136.7 1854.4,1136.2C1857.1,1135.6 1859.7,1135.1 1862.3,1134.5C1865.0,1133.9 1867.6,1133.3 1870.2,1132.7C1872.8,1132.1 1875.5,1131.5 1878.1,1130.9C1880.7,1130.3 1883.3,1129.7 1886.0,1129.0C1888.6,1128.4 1891.2,1127.8 1893.8,1127.1C1896.4,1126.4 1899.0,1125.8 1901.6,1125.1C1904.2,1124.4 1906.8,1123.7 1909.5,1123.0C1912.1,1122.3 1914.7,1121.6 1917.3,1120.9C1919.9,1120.1 1922.5,1119.4 1925.0,1118.6C1927.6,1117.9 1930.2,1117.1 1932.8,1116.4C1935.4,1115.6 1938.0,1114.8 1940.6,1114.0C1943.2,1113.2 1945.7,1112.4 1948.3,1111.6C1950.9,1110.8 1953.5,1109.9 1956.0,1109.1C1958.6,1108.2 1961.2,1107.4 1963.7,1106.5C1966.3,1105.6 1968.9,1104.7 1971.4,1103.8C1974.0,1102.9 1976.5,1102.0 1979.1,1101.1C1981.7,1100.2 1984.2,1099.2 1986.8,1098.3C1989.3,1097.3 1991.8,1096.4 1994.4,1095.4C1996.9,1094.4 2000.7,1092.9 2002.0,1092.4" stroke="#9a32cd" stroke-dasharray="8,8"/>
<path d="M1298.5,1193.4C1299.9,1193.6 1304.0,1194.2 1306.7,1194.6C1309.4,1195.0 1312.2,1195.4 1314.9,1195.8C1317.6,1196.2 1320.4,1196.6 1323.1,1197.0C1325.9,1197.4 1328.6,1197.8 1331.3,1198.2C1334.1,1198.5 1336.8,1198.9 1339.5,1199.3C1342.3,1199.6 1345.0,1200.0 1347.8,1200.3C1350.5,1200.7 1353.2,1201.0 1356.0,1201.4C1358.7,1201.7 1361.5,1202.0 1364.2,1202.4C1367.0,1202.7 1369.7,1203.0 1372.5,1203.3C1375.2,1203.7 1377.9,1204.0 1380.7,1204.3C1383.4,1204.6 1386.2,1204.9 1388.9,1205.2C1391.7,1205.5 1394.4,1205.8 1397.2,1206.1C1399.9,1206.3 1402.7,1206.6 1405.4,1206.9C1408.2,1207.2 1410.9,1207.4 1413.7,1207.7C1416.4,1208.0 1419.2,1208.2 1421.9,1208.5C1424.7,1208.7 1427.4,1209.0 1430.2,1209.2C1432.9,1209.4 1435.7,1209.7 1438.4,1209.9C1441.2,1210.1 1444.0,1210.4 1446.7,1210.6C1449.5,1210.8 1452.2,1211.0 1455.0,1211.2C1457.7,1211.4 1460.5,1211.6 1463.2,1211.8C1466.0,1212.0 1468.8,1212.2 1471.5,1212.4C1474.3,1212.6 1477.0,1212.7 1479.8,1212.9C1482.5,1213.1 1485.3,1213.2 1488.1,1213.4C1490.8,1213.6 1493.6,1213.7 1496.3,1213.9C1499.1,1214.0 1501.9,1214.2 1504.6,1214.3C1507.4,1214.4 1510.1,1214.6 1512.9,1214.7C1515.7,1214.8 1518.4,1214.9 1521.2,1215.0C1523.9,1215.2 1526.7,1215.3 1529.5,1215.4C1532.2,1215.5 1535.0,1215.6 1537.7,1215.7C1540.5,1215.8 1543.3,1215.8 1546.0,1215.9C1548.8,1216.0 1551.6,1216.1 1554.3,1216.1C1557.1,1216.2 1559.9,1216.3 1562.6,1216.3C1565.4,1216.4 1568.1,1216.4 1570.9,1216.5C1573.7,1216.5 1577.8,1216.6 1579.2,1216.6" stroke="#9a32cd" stroke-dasharray="8,8"/>
<path d="M850.6,1158.8C852.0,1158.9 856.1,1159.1 858.9,1159.2C861.6,1159.3 864.4,1159.5 867.2,1159.6C869.9,1159.7 872.7,1159.9 875.5,1160.0C878.2,1160.1 881.0,1160.3 883.7,1160.4C886.5,1160.5 889.3,1160.7 892.0,1160.8C894.8,1160.9 897.5,1161.1 900.3,1161.2C903.1,1161.3 905.8,1161.5 908.6,1161.6C911.3,1161.7 914.1,1161.8 916.9,1162.0C919.6,1162.1 922.4,1162.2 925.2,1162.4C927.9,1162.5 930.7,1162.6 933.4,1162.8C936.2,1162.9 939.0,1163.0 941.7,1163.2C944.5,1163.3 947.2,1163.4 950.0,1163.6C952.8,1163.7 955.5,1163.8 958.3,1164.0C961.1,1164.1 963.8,1164.2 966.6,1164.4C969.3,1164.5 972.1,1164.6 974.9,1164.8C977.6,1164.9 980.4,1165.1 983.1,1165.2C985.9,1165.3 988.7,1165.5 991.4,1165.6C994.2,1165.7 996.9,1165.9 999.7,1166.0C1002.5,1166.2 1005.2,1166.3 1008.0,1166.5C1010.8,1166.6 1013.5,1166.7 1016.3,1166.9C1019.0,1167.0 1021.8,1167.2 1024.6,1167.3C1027.3,1167.5 1030.1,1167.6 1032.8,1167.8C1035.6,1167.9 1038.4,1168.1 1041.1,1168.2C1043.9,1168.4 1046.6,1168.5 1049.4,1168.7C1052.2,1168.8 1054.9,1169.0 1057.7,1169.1C1060.4,1169.3 1063.2,1169.5 1066.0,1169.6C1068.7,1169.8 1071.5,1169.9 1074.2,1170.1C1077.0,1170.3 1079.8,1170.4 1082.5,1170.6C1085.3,1170.8 1088.0,1170.9 1090.8,1171.1C1093.6,1171.3 1096.3,1171.4 1099.1,1171.6C1101.8,1171.8 1104.6,1171.9 1107.3,1172.1C1110.1,1172.3 1112.9,1172.5 1115.6,1172.7C1118.4,1172.8 1122.5,1173.1 1123.9,1173.2" stroke="#9a32cd" stroke-dasharray="8,8"/>
<path d="M850.6,1210.7C852.0,1210.7 856.2,1210.9 858.9,1211.0C861.7,1211.1 864.5,1211.2 867.3,1211.3C870.1,1211.3 872.8,1211.4 875.6,1211.5C878.4,1211.6 881.2,1211.7 884.0,1211.7C886.8,1211.8 889.5,1211.9 892.3,1211.9C895.1,1212.0 897.9,1212.1 900.7,1212.1C903.5,1212.2 906.2,1212.2 909.0,1212.3C911.8,1212.3 914.6,1212.4 917.4,1212.4C920.2,1212.4 923.0,1212.4 925.8,1212.5C928.5,1212.5 931.3,1212.5 934.1,1212.5C936.9,1212.5 939.7,1212.5 942.5,1212.5C945.3,1212.5 948.0,1212.5 950.8,1212.5C953.6,1212.5 956.4,1212.5 959.2,1212.5C962.0,1212.4 964.8,1212.4 967.6,1212.4C970.3,1212.3 973.1,1212.3 975.9,1212.2C978.7,1212.2 981.5,1212.1 984.3,1212.0C987.1,1211.9 989.8,1211.9 992.6,1211.8C995.4,1211.7 998.2,1211.6 1001.0,1211.5C1003.8,1211.4 1006.5,1211.3 1009.3,1211.1C1012.1,1211.0 1014.9,1210.9 1017.7,1210.7C1020.5,1210.6 1023.2,1210.4 1026.0,1210.3C1028.8,1210.1 1031.6,1209.9 1034.3,1209.7C1037.1,1209.6 1039.9,1209.4 1042.7,1209.2C1045.5,1209.0 1048.2,1208.7 1051.0,1208.5C1053.8,1208.3 1056.5,1208.1 1059.3,1207.8C1062.1,1207.6 1064.9,1207.3 1067.6,1207.0C1070.4,1206.8 1073.2,1206.5 1075.9,1206.2C1078.7,1205.9 1081.5,1205.6 1084.2,1205.3C1087.0,1204.9 1089.8,1204.6 1092.5,1204.3C1095.3,1203.9 1098.0,1203.6 1100.8,1203.2C1103.5,1202.8 1106.3,1202.4 1109.1,1202.1C1111.8,1201.7 1114.6,1201.2 1117.3,1200.8C1120.1,1200.4 1122.8,1200.0 1125.6,1199.5C1128.3,1199.1 1131.1,1198.6 1133.8,1198.1C1136.5,1197.6 1139.3,1197.1 1142.0,1196.6C1144.8,1196.1 1147.5,1195.6 1150.2,1195.1C1153.0,1194.5 1155.7,1194.0 1158.4,1193.4C1161.2,1192.8 1163.9,1192.2 1166.6,1191.6C1169.4,1191.0 1173.4,1190.1 1174.8,1189.8" stroke="#9a32cd" stroke-dasharray="8,8"/>
<path d="M1182.4,1151.8C1183.2,1150.7 1185.3,1147.1 1187.2,1145.4C1189.2,1143.7 1191.6,1142.7 1194.2,1141.8C1196.8,1140.9 1199.8,1140.5 1202.8,1140.0C1205.9,1139.6 1209.2,1139.3 1212.5,1139.1C1215.8,1138.9 1219.4,1138.8 1222.7,1138.9C1226.1,1139.0 1229.5,1139.3 1232.7,1139.8C1235.9,1140.2 1239.1,1140.9 1241.9,1141.8C1244.7,1142.7 1247.4,1143.8 1249.6,1145.2C1251.7,1146.6 1253.8,1148.2 1254.9,1150.1C1256.0,1152.1 1256.7,1154.3 1256.0,1156.7C1255.3,1159.1 1251.4,1163.5 1250.5,1164.8" stroke="#9a32cd" stroke-dasharray="8,8"/>
<path d="M1712.7,1222.7C1714.1,1222.8 1718.2,1222.9 1720.9,1223.0C1723.7,1223.1 1726.4,1223.2 1729.2,1223.2C1731.9,1223.3 1734.7,1223.3 1737.4,1223.3C1740.2,1223.3 1743.0,1223.2 1745.7,1223.2C1748.5,1223.1 1751.3,1223.0 1754.1,1222.9C1756.8,1222.8 1759.6,1222.7 1762.4,1222.5C1765.2,1222.4 1767.9,1222.2 1770.7,1222.0C1773.5,1221.8 1776.3,1221.6 1779.1,1221.3C1781.8,1221.1 1784.6,1220.8 1787.4,1220.5C1790.1,1220.2 1792.9,1219.8 1795.7,1219.5C1798.5,1219.1 1801.2,1218.7 1804.0,1218.3C1806.7,1217.9 1809.5,1217.5 1812.3,1217.0C1815.0,1216.5 1817.8,1216.0 1820.5,1215.5C1823.2,1215.0 1826.0,1214.4 1828.7,1213.9C1831.4,1213.3 1834.1,1212.7 1836.9,1212.1C1839.6,1211.4 1842.3,1210.8 1845.0,1210.1C1847.7,1209.4 1850.3,1208.7 1853.0,1207.9C1855.7,1207.2 1858.4,1206.4 1861.0,1205.6C1863.7,1204.8 1866.3,1204.0 1868.9,1203.1C1871.6,1202.3 1874.2,1201.4 1876.8,1200.4C1879.4,1199.5 1882.0,1198.6 1884.6,1197.6C1887.1,1196.6 1889.7,1195.6 1892.3,1194.6C1894.8,1193.5 1897.3,1192.4 1899.9,1191.3C1902.4,1190.2 1904.9,1189.1 1907.4,1187.9C1909.8,1186.8 1912.3,1185.6 1914.8,1184.3C1917.2,1183.1 1919.6,1181.9 1922.1,1180.6C1924.5,1179.3 1926.9,1177.9 1929.2,1176.6C1931.6,1175.2 1934.0,1173.8 1936.3,1172.4C1938.6,1171.0 1940.9,1169.5 1943.2,1168.0C1945.5,1166.6 1947.8,1165.0 1950.0,1163.5C1952.3,1161.9 1954.5,1160.3 1956.7,1158.7C1958.9,1157.1 1961.0,1155.4 1963.2,1153.7C1965.3,1152.1 1967.4,1150.3 1969.5,1148.6C1971.6,1146.8 1973.7,1145.0 1975.7,1143.2C1977.8,1141.4 1979.8,1139.5 1981.8,1137.6C1983.8,1135.7 1985.7,1133.8 1987.7,1131.8C1989.6,1129.8 1991.5,1127.8 1993.4,1125.8C1995.2,1123.7 1997.1,1121.7 1998.9,1119.5C2000.7,1117.4 2002.5,1115.3 2004.2,1113.1C2005.9,1110.9 2007.7,1108.7 2009.3,1106.4C2011.0,1104.2 2012.7,1101.9 2014.3,1099.5C2015.9,1097.2 2018.2,1093.6 2019.0,1092.4" stroke="#9a32cd" stroke-dasharray="8,8"/>
<path d="M1723.3,1283.1C1724.6,1283.2 1728.6,1283.7 1731.3,1283.9C1734.0,1284.2 1736.8,1284.4 1739.5,1284.6C1742.2,1284.9 1745.0,1285.1 1747.8,1285.3C1750.5,1285.5 1753.3,1285.6 1756.1,1285.8C1758.9,1285.9 1761.7,1286.0 1764.5,1286.1C1767.3,1286.2 1770.2,1286.3 1773.0,1286.3C1775.8,1286.4 1778.6,1286.4 1781.5,1286.4C1784.3,1286.4 1787.1,1286.3 1790.0,1286.2C1792.8,1286.2 1795.6,1286.0 1798.5,1285.9C1801.3,1285.7 1804.1,1285.6 1807.0,1285.3C1809.8,1285.1 1812.6,1284.9 1815.4,1284.6C1818.2,1284.3 1821.0,1283.9 1823.8,1283.5C1826.6,1283.2 1829.4,1282.7 1832.1,1282.3C1834.9,1281.8 1837.6,1281.3 1840.4,1280.7C1843.1,1280.1 1845.8,1279.5 1848.5,1278.9C1851.2,1278.2 1853.9,1277.5 1856.6,1276.7C1859.2,1276.0 1861.9,1275.2 1864.5,1274.3C1867.1,1273.5 1869.7,1272.6 1872.2,1271.6C1874.8,1270.7 1877.4,1269.7 1879.9,1268.6C1882.4,1267.6 1884.9,1266.5 1887.3,1265.3C1889.8,1264.1 1892.2,1262.9 1894.6,1261.7C1897.0,1260.4 1899.4,1259.1 1901.7,1257.7C1904.0,1256.4 1906.3,1255.0 1908.6,1253.5C1910.8,1252.0 1913.0,1250.5 1915.2,1248.9C1917.4,1247.3 1919.6,1245.7 1921.7,1244.0C1923.8,1242.3 1925.9,1240.6 1927.9,1238.8C1929.9,1237.0 1931.9,1235.1 1933.9,1233.2C1935.8,1231.3 1937.8,1229.4 1939.6,1227.4C1941.5,1225.4 1943.4,1223.4 1945.2,1221.4C1947.0,1219.3 1948.8,1217.2 1950.5,1215.0C1952.3,1212.9 1954.0,1210.7 1955.7,1208.5C1957.4,1206.3 1959.0,1204.0 1960.7,1201.7C1962.3,1199.4 1963.9,1197.1 1965.5,1194.8C1967.0,1192.5 1968.6,1190.1 1970.1,1187.7C1971.6,1185.3 1973.1,1182.9 1974.6,1180.5C1976.1,1178.1 1977.5,1175.6 1979.0,1173.2C1980.4,1170.7 1981.8,1168.3 1983.2,1165.8C1984.6,1163.3 1986.0,1160.8 1987.4,1158.3C1988.7,1155.8 1990.1,1153.3 1991.4,1150.8C1992.7,1148.3 1994.1,1145.8 1995.4,1143.3C1996.7,1140.8 1998.0,1138.3 1999.3,1135.8C2000.6,1133.3 2001.9,1130.8 2003.1,1128.4C2004.4,1125.9 2005.7,1123.4 2006.9,1121.0C2008.2,1118.5 2009.5,1116.1 2010.7,1113.6C2012.0,1111.2 2013.2,1108.8 2014.5,1106.4C2015.7,1104.0 2017.0,1101.7 2018.2,1099.3C2019.5,1097.0 2021.4,1093.6 2022.0,1092.4" stroke="#9a32cd" stroke-dasharray="8,8"/>
<path d="M1048.6,1334.8C1049.9,1335.2 1053.8,1336.2 1056.4,1336.9C1058.9,1337.7 1061.5,1338.4 1064.1,1339.1C1066.7,1339.8 1069.3,1340.4 1071.9,1341.1C1074.5,1341.8 1077.1,1342.5 1079.7,1343.2C1082.3,1343.8 1084.9,1344.5 1087.5,1345.2C1090.1,1345.8 1092.7,1346.5 1095.3,1347.1C1097.9,1347.8 1100.5,1348.4 1103.2,1349.1C1105.8,1349.7 1108.4,1350.3 1111.0,1350.9C1113.6,1351.6 1116.2,1352.2 1118.8,1352.8C1121.5,1353.4 1124.1,1354.0 1126.7,1354.6C1129.3,1355.2 1131.9,1355.8 1134.6,1356.4C1137.2,1356.9 1139.8,1357.5 1142.4,1358.1C1145.1,1358.6 1147.7,1359.2 1150.3,1359.8C1153.0,1360.3 1155.6,1360.9 1158.2,1361.4C1160.9,1362.0 1163.5,1362.5 1166.1,1363.0C1168.8,1363.6 1171.4,1364.1 1174.0,1364.6C1176.7,1365.1 1179.3,1365.6 1182.0,1366.1C1184.6,1366.6 1187.3,1367.1 1189.9,1367.6C1192.5,1368.1 1195.2,1368.6 1197.8,1369.0C1200.5,1369.5 1203.1,1370.0 1205.8,1370.4C1208.4,1370.9 1211.1,1371.4 1213.7,1371.8C1216.4,1372.3 1219.0,1372.7 1221.7,1373.1C1224.3,1373.6 1227.0,1374.0 1229.7,1374.4C1232.3,1374.8 1235.0,1375.2 1237.6,1375.6C1240.3,1376.0 1242.9,1376.4 1245.6,1376.8C1248.3,1377.2 1250.9,1377.6 1253.6,1378.0C1256.2,1378.4 1258.9,1378.7 1261.6,1379.1C1264.2,1379.5 1266.9,1379.8 1269.6,1380.2C1272.2,1380.5 1274.9,1380.8 1277.6,1381.2C1280.2,1381.5 1282.9,1381.8 1285.6,1382.2C1288.2,1382.5 1290.9,1382.8 1293.6,1383.1C1296.3,1383.4 1298.9,1383.7 1301.6,1384.0C1304.3,1384.3 1306.9,1384.5 1309.6,1384.8C1312.3,1385.1 1315.0,1385.4 1317.6,1385.6C1320.3,1385.9 1323.0,1386.1 1325.7,1386.4C1328.4,1386.6 1331.0,1386.8 1333.7,1387.1C1336.4,1387.3 1339.1,1387.5 1341.7,1387.7C1344.4,1388.0 1347.1,1388.2 1349.8,1388.4C1352.5,1388.6 1355.1,1388.7 1357.8,1388.9C1360.5,1389.1 1363.2,1389.3 1365.9,1389.5C1368.5,1389.6 1371.2,1389.8 1373.9,1389.9C1376.6,1390.1 1379.3,1390.2 1382.0,1390.4C1384.6,1390.5 1387.3,1390.6 1390.0,1390.8C1392.7,1390.9 1395.4,1391.0 1398.1,1391.1C1400.7,1391.2 1403.4,1391.3 1406.1,1391.4C1408.8,1391.5 1411.5,1391.6 1414.2,1391.6C1416.8,1391.7 1419.5,1391.8 1422.2,1391.8C1424.9,1391.9 1427.6,1391.9 1430.3,1392.0C1432.9,1392.0 1435.6,1392.0 1438.3,1392.1C1441.0,1392.1 1443.7,1392.1 1446.4,1392.1C1449.1,1392.1 1451.7,1392.1 1454.4,1392.1C1457.1,1392.1 1459.8,1392.1 1462.5,1392.1C1465.2,1392.0 1467.9,1392.0 1470.5,1392.0C1473.2,1391.9 1475.9,1391.9 1478.6,1391.8C1481.3,1391.8 1484.0,1391.7 1486.6,1391.6C1489.3,1391.6 1492.0,1391.5 1494.7,1391.4C1497.4,1391.3 1500.1,1391.2 1502.7,1391.1C1505.4,1391.0 1508.1,1390.9 1510.8,1390.7C1513.5,1390.6 1516.1,1390.5 1518.8,1390.3C1521.5,1390.2 1524.2,1390.1 1526.9,1389.9C1529.6,1389.7 1532.2,1389.6 1534.9,1389.4C1537.6,1389.2 1540.3,1389.0 1543.0,1388.8C1545.6,1388.7 1548.3,1388.5 1551.0,1388.2C1553.7,1388.0 1556.3,1387.8 1559.0,1387.6C1561.7,1387.4 1564.4,1387.1 1567.0,1386.9C1569.7,1386.6 1572.4,1386.4 1575.1,1386.1C1577.7,1385.9 1580.4,1385.6 1583.1,1385.3C1585.8,1385.0 1588.4,1384.7 1591.1,1384.4C1593.8,1384.1 1596.4,1383.8 1599.1,1383.5C1601.8,1383.2 1604.4,1382.9 1607.1,1382.6C1609.8,1382.2 1612.4,1381.9 1615.1,1381.5C1617.8,1381.2 1620.4,1380.8 1623.1,1380.5C1625.8,1380.1 1628.4,1379.7 1631.1,1379.3C1633.8,1378.9 1636.4,1378.5 1639.1,1378.1C1641.7,1377.7 1644.4,1377.3 1647.1,1376.9C1649.7,1376.5 1652.4,1376.0 1655.0,1375.6C1657.7,1375.2 1660.3,1374.7 1663.0,1374.2C1665.6,1373.8 1668.3,1373.3 1671.0,1372.8C1673.6,1372.4 1676.3,1371.9 1678.9,1371.4C1681.6,1370.9 1684.2,1370.4 1686.8,1369.9C1689.5,1369.3 1692.1,1368.8 1694.8,1368.3C1697.4,1367.7 1700.1,1367.2 1702.7,1366.6C1705.3,1366.1 1708.0,1365.5 1710.6,1364.9C1713.2,1364.4 1715.9,1363.8 1718.5,1363.2C1721.1,1362.6 1723.8,1362.0 1726.4,1361.3C1729.0,1360.7 1731.6,1360.1 1734.3,1359.4C1736.9,1358.8 1739.5,1358.1 1742.1,1357.5C1744.7,1356.8 1747.3,1356.1 1749.9,1355.4C1752.5,1354.7 1755.1,1354.0 1757.7,1353.3C1760.3,1352.6 1762.9,1351.9 1765.5,1351.1C1768.1,1350.4 1770.7,1349.6 1773.3,1348.9C1775.8,1348.1 1778.4,1347.3 1781.0,1346.5C1783.5,1345.7 1786.1,1344.9 1788.7,1344.1C1791.2,1343.2 1793.8,1342.4 1796.3,1341.5C1798.9,1340.7 1801.4,1339.8 1804.0,1338.9C1806.5,1338.1 1809.0,1337.2 1811.6,1336.2C1814.1,1335.3 1816.6,1334.4 1819.1,1333.4C1821.6,1332.5 1824.1,1331.5 1826.6,1330.6C1829.1,1329.6 1831.6,1328.6 1834.1,1327.6C1836.6,1326.6 1839.1,1325.5 1841.6,1324.5C1844.0,1323.5 1846.5,1322.4 1849.0,1321.3C1851.4,1320.3 1853.9,1319.2 1856.3,1318.1C1858.8,1316.9 1861.2,1315.8 1863.6,1314.7C1866.1,1313.5 1868.5,1312.4 1870.9,1311.2C1873.3,1310.0 1875.7,1308.8 1878.1,1307.6C1880.5,1306.4 1882.9,1305.1 1885.3,1303.9C1887.7,1302.6 1890.0,1301.3 1892.4,1300.1C1894.8,1298.8 1897.1,1297.5 1899.5,1296.1C1901.8,1294.8 1904.1,1293.4 1906.4,1292.1C1908.7,1290.7 1911.0,1289.3 1913.3,1287.9C1915.6,1286.4 1917.9,1285.0 1920.1,1283.5C1922.3,1282.0 1924.5,1280.5 1926.7,1279.0C1928.9,1277.5 1931.1,1275.9 1933.2,1274.3C1935.4,1272.7 1937.5,1271.1 1939.5,1269.5C1941.6,1267.8 1943.7,1266.1 1945.7,1264.4C1947.7,1262.7 1949.7,1260.9 1951.6,1259.1C1953.6,1257.3 1955.5,1255.5 1957.3,1253.7C1959.2,1251.8 1961.0,1249.9 1962.8,1248.0C1964.6,1246.0 1966.3,1244.0 1968.0,1242.0C1969.7,1240.0 1971.3,1237.9 1972.9,1235.8C1974.5,1233.7 1976.0,1231.6 1977.5,1229.4C1979.0,1227.2 1980.4,1224.9 1981.8,1222.7C1983.2,1220.4 1984.6,1218.1 1985.9,1215.8C1987.2,1213.4 1988.4,1211.0 1989.7,1208.6C1990.9,1206.2 1992.1,1203.8 1993.2,1201.3C1994.3,1198.9 1995.4,1196.4 1996.5,1193.9C1997.6,1191.4 1998.6,1188.8 1999.6,1186.3C2000.6,1183.7 2001.6,1181.1 2002.5,1178.6C2003.4,1176.0 2004.3,1173.4 2005.2,1170.8C2006.1,1168.1 2006.9,1165.5 2007.7,1162.9C2008.6,1160.2 2009.4,1157.6 2010.1,1155.0C2010.9,1152.3 2011.6,1149.7 2012.4,1147.0C2013.1,1144.3 2013.8,1141.7 2014.5,1139.0C2015.2,1136.4 2015.8,1133.7 2016.5,1131.1C2017.2,1128.5 2017.8,1125.8 2018.4,1123.2C2019.1,1120.6 2019.7,1118.0 2020.3,1115.4C2020.9,1112.7 2021.5,1110.2 2022.1,1107.6C2022.6,1105.0 2023.2,1102.5 2023.8,1099.9C2024.4,1097.4 2025.2,1093.7 2025.5,1092.4" stroke="#9a32cd" stroke-dasharray="8,8"/>
<path d="M780.7,894.3C781.4,895.5 783.6,899.1 785.1,901.5C786.5,903.9 787.9,906.3 789.3,908.7C790.7,911.2 792.1,913.6 793.5,916.0C794.9,918.5 796.2,920.9 797.6,923.4C798.9,925.9 800.3,928.3 801.6,930.8C802.9,933.3 804.3,935.8 805.6,938.2C806.9,940.7 808.2,943.2 809.5,945.7C810.8,948.2 812.1,950.7 813.4,953.2C814.7,955.7 816.0,958.2 817.3,960.7C818.6,963.2 819.9,965.7 821.2,968.2C822.5,970.7 823.7,973.2 825.0,975.7C826.3,978.2 827.6,980.7 829.0,983.2C830.3,985.7 831.6,988.2 832.9,990.7C834.2,993.1 835.5,995.6 836.9,998.1C838.2,1000.6 839.6,1003.0 840.9,1005.5C842.3,1008.0 843.7,1010.4 845.1,1012.9C846.5,1015.3 847.9,1017.8 849.3,1020.2C850.7,1022.6 852.1,1025.0 853.6,1027.4C855.0,1029.8 856.5,1032.2 858.0,1034.6C859.5,1037.0 861.0,1039.4 862.5,1041.7C864.1,1044.1 865.6,1046.4 867.2,1048.7C868.8,1051.1 870.4,1053.4 872.0,1055.7C873.7,1058.0 876.2,1061.4 877.0,1062.5" stroke="#9a32cd" stroke-dasharray="8,8"/>
<path d="M877.0,1062.5C878.2,1063.1 881.9,1064.7 884.3,1065.8C886.8,1066.8 889.3,1067.8 891.8,1068.8C894.3,1069.7 896.8,1070.7 899.3,1071.5C901.8,1072.4 904.3,1073.3 906.8,1074.1C909.3,1074.9 911.9,1075.7 914.4,1076.4C917.0,1077.2 919.5,1077.9 922.1,1078.6C924.6,1079.3 927.2,1079.9 929.8,1080.5C932.4,1081.1 935.0,1081.7 937.6,1082.3C940.1,1082.9 942.8,1083.4 945.4,1083.9C948.0,1084.4 950.6,1084.9 953.2,1085.4C955.8,1085.8 958.5,1086.3 961.1,1086.7C963.7,1087.1 966.4,1087.5 969.0,1087.8C971.7,1088.2 974.3,1088.6 977.0,1088.9C979.6,1089.2 982.3,1089.5 984.9,1089.8C987.6,1090.1 990.3,1090.4 993.0,1090.7C995.6,1090.9 998.3,1091.2 1001.0,1091.4C1003.7,1091.7 1006.3,1091.9 1009.0,1092.1C1011.7,1092.3 1014.4,1092.5 1017.1,1092.7C1019.8,1092.9 1022.5,1093.1 1025.1,1093.3C1027.8,1093.4 1030.5,1093.6 1033.2,1093.8C1035.9,1093.9 1038.6,1094.1 1041.3,1094.2C1044.0,1094.4 1046.7,1094.5 1049.4,1094.7C1052.1,1094.8 1054.8,1095.0 1057.5,1095.1C1060.2,1095.2 1062.9,1095.4 1065.6,1095.5C1068.3,1095.6 1070.9,1095.8 1073.6,1095.9C1076.3,1096.0 1079.0,1096.1 1081.7,1096.2C1084.4,1096.3 1087.1,1096.4 1089.8,1096.6C1092.5,1096.7 1095.2,1096.8 1097.9,1096.9C1100.6,1097.0 1103.3,1097.1 1106.0,1097.2C1108.7,1097.2 1111.4,1097.3 1114.1,1097.4C1116.8,1097.5 1119.5,1097.6 1122.2,1097.7C1124.9,1097.7 1127.6,1097.8 1130.3,1097.9C1133.0,1098.0 1135.7,1098.0 1138.4,1098.1C1141.1,1098.2 1143.8,1098.2 1146.5,1098.3C1149.2,1098.4 1151.9,1098.4 1154.6,1098.5C1157.3,1098.5 1160.0,1098.6 1162.7,1098.6C1165.4,1098.7 1168.1,1098.7 1170.7,1098.8C1173.4,1098.8 1176.1,1098.9 1178.8,1098.9C1181.5,1098.9 1184.2,1099.0 1186.9,1099.0C1189.6,1099.1 1192.3,1099.1 1195.0,1099.1C1197.7,1099.1 1200.4,1099.2 1203.1,1099.2C1205.8,1099.2 1208.5,1099.2 1211.2,1099.3C1213.9,1099.3 1216.6,1099.3 1219.3,1099.3C1222.0,1099.3 1224.7,1099.3 1227.4,1099.4C1230.1,1099.4 1232.8,1099.4 1235.5,1099.4C1238.2,1099.4 1240.9,1099.4 1243.6,1099.4C1246.3,1099.4 1249.0,1099.4 1251.7,1099.4C1254.4,1099.4 1257.1,1099.4 1259.8,1099.4C1262.5,1099.4 1265.2,1099.4 1267.9,1099.4C1270.6,1099.4 1273.3,1099.4 1276.0,1099.4C1278.7,1099.4 1281.4,1099.4 1284.1,1099.4C1286.8,1099.4 1289.5,1099.3 1292.2,1099.3C1294.9,1099.3 1297.6,1099.3 1300.3,1099.3C1303.0,1099.3 1305.7,1099.2 1308.4,1099.2C1311.1,1099.2 1313.8,1099.2 1316.5,1099.2C1319.2,1099.2 1321.9,1099.1 1324.6,1099.1C1327.3,1099.1 1330.0,1099.1 1332.7,1099.0C1335.4,1099.0 1338.1,1099.0 1340.8,1099.0C1343.5,1098.9 1346.2,1098.9 1348.9,1098.9C1351.6,1098.9 1354.3,1098.8 1357.0,1098.8C1359.7,1098.8 1362.4,1098.8 1365.1,1098.7C1367.8,1098.7 1370.5,1098.7 1373.2,1098.6C1375.9,1098.6 1378.6,1098.6 1381.3,1098.5C1384.0,1098.5 1386.7,1098.5 1389.4,1098.5C1392.1,1098.4 1394.8,1098.4 1397.4,1098.4C1400.1,1098.3 1402.8,1098.3 1405.5,1098.3C1408.2,1098.2 1410.9,1098.2 1413.6,1098.2C1416.3,1098.1 1419.0,1098.1 1421.7,1098.1C1424.4,1098.0 1427.1,1098.0 1429.8,1098.0C1432.5,1097.9 1435.2,1097.9 1437.9,1097.9C1440.6,1097.8 1443.3,1097.8 1446.0,1097.8C1448.7,1097.7 1451.4,1097.7 1454.1,1097.7C1456.7,1097.6 1459.4,1097.6 1462.1,1097.6C1464.8,1097.5 1467.5,1097.5 1470.2,1097.4C1472.9,1097.4 1475.6,1097.4 1478.3,1097.3C1481.0,1097.3 1483.7,1097.3 1486.4,1097.2C1489.1,1097.2 1491.8,1097.1 1494.5,1097.1C1497.2,1097.1 1499.9,1097.0 1502.5,1097.0C1505.2,1096.9 1507.9,1096.9 1510.6,1096.9C1513.3,1096.8 1516.0,1096.8 1518.7,1096.7C1521.4,1096.7 1524.1,1096.6 1526.8,1096.6C1529.5,1096.6 1532.2,1096.5 1534.9,1096.5C1537.6,1096.4 1540.2,1096.4 1542.9,1096.3C1545.6,1096.3 1548.3,1096.2 1551.0,1096.2C1553.7,1096.1 1556.4,1096.1 1559.1,1096.0C1561.8,1096.0 1564.5,1095.9 1567.2,1095.9C1569.9,1095.9 1572.6,1095.8 1575.2,1095.8C1577.9,1095.7 1580.6,1095.6 1583.3,1095.6C1586.0,1095.5 1588.7,1095.5 1591.4,1095.4C1594.1,1095.4 1596.8,1095.3 1599.5,1095.3C1602.2,1095.2 1604.9,1095.2 1607.6,1095.1C1610.2,1095.1 1612.9,1095.0 1615.6,1094.9C1618.3,1094.9 1621.0,1094.8 1623.7,1094.8C1626.4,1094.7 1629.1,1094.7 1631.8,1094.6C1634.5,1094.5 1637.2,1094.5 1639.9,1094.4C1642.5,1094.4 1645.2,1094.3 1647.9,1094.2C1650.6,1094.2 1653.3,1094.1 1656.0,1094.0C1658.7,1094.0 1661.4,1093.9 1664.1,1093.8C1666.8,1093.8 1669.5,1093.7 1672.2,1093.6C1674.8,1093.6 1677.5,1093.5 1680.2,1093.4C1682.9,1093.4 1685.6,1093.3 1688.3,1093.2C1691.0,1093.2 1693.7,1093.1 1696.4,1093.0C1699.1,1093.0 1701.8,1092.9 1704.5,1092.8C1707.1,1092.7 1709.8,1092.7 1712.5,1092.6C1715.2,1092.5 1717.9,1092.4 1720.6,1092.4C1723.3,1092.3 1726.0,1092.2 1728.7,1092.1C1731.4,1092.0 1734.1,1092.0 1736.8,1091.9C1739.4,1091.8 1742.1,1091.7 1744.8,1091.6C1747.5,1091.6 1750.2,1091.5 1752.9,1091.4C1755.6,1091.3 1758.3,1091.2 1761.0,1091.1C1763.7,1091.1 1766.4,1091.0 1769.1,1090.9C1771.8,1090.8 1774.4,1090.7 1777.1,1090.6C1779.8,1090.5 1782.5,1090.4 1785.2,1090.3C1787.9,1090.3 1790.6,1090.2 1793.3,1090.1C1796.0,1090.0 1798.7,1089.9 1801.4,1089.8C1804.1,1089.7 1806.8,1089.6 1809.5,1089.5C1812.1,1089.4 1814.8,1089.3 1817.5,1089.2C1820.2,1089.1 1822.9,1089.0 1825.6,1088.9C1828.3,1088.8 1831.0,1088.7 1833.7,1088.6C1836.4,1088.5 1839.1,1088.4 1841.8,1088.3C1844.5,1088.2 1847.2,1088.1 1849.9,1088.0C1852.6,1087.9 1855.2,1087.7 1857.9,1087.6C1860.6,1087.5 1863.3,1087.4 1866.0,1087.3C1868.7,1087.2 1871.4,1087.1 1874.1,1087.0C1876.8,1086.8 1879.5,1086.7 1882.2,1086.6C1884.9,1086.5 1887.6,1086.4 1890.3,1086.3C1893.0,1086.1 1895.7,1086.0 1898.4,1085.9C1901.1,1085.8 1903.8,1085.7 1906.5,1085.5C1909.1,1085.4 1911.8,1085.3 1914.5,1085.2C1917.2,1085.0 1919.9,1084.9 1922.6,1084.8C1925.3,1084.7 1928.0,1084.5 1930.7,1084.4C1933.4,1084.3 1936.1,1084.1 1938.8,1084.0C1941.5,1083.9 1945.6,1083.7 1946.9,1083.6" stroke="#9a32cd" stroke-dasharray="8,8"/>
<path d="M839.1,831.0C840.4,831.9 844.7,834.7 847.1,836.6C849.5,838.6 851.6,840.7 853.5,842.8C855.4,844.9 857.0,847.2 858.5,849.4C859.9,851.7 861.2,854.1 862.2,856.5C863.3,858.9 864.1,861.4 864.9,864.0C865.6,866.5 866.1,869.1 866.5,871.7C866.9,874.4 867.1,877.1 867.3,879.8C867.4,882.5 867.4,885.3 867.4,888.1C867.3,890.9 867.1,893.7 866.9,896.6C866.7,899.4 866.4,902.3 866.0,905.2C865.7,908.1 865.3,911.0 864.9,914.0C864.5,916.9 864.0,919.8 863.6,922.7C863.1,925.7 862.7,928.6 862.3,931.5C861.9,934.4 861.5,937.4 861.1,940.3C860.8,943.2 860.5,946.0 860.3,948.9C860.0,951.8 859.9,954.6 859.8,957.4C859.8,960.2 859.8,963.0 859.9,965.7C860.1,968.4 860.4,971.1 860.8,973.8C861.2,976.4 861.7,979.0 862.5,981.6C863.2,984.1 864.1,986.6 865.1,989.1C866.2,991.5 867.5,993.9 868.9,996.1C870.4,998.4 872.1,1000.7 874.0,1002.8C875.9,1005.0 879.4,1008.0 880.5,1009.0" stroke="#9a32cd" stroke-dasharray="8,8"/>
<path d="M880.5,1009.0C881.8,1009.1 885.9,1009.4 888.6,1009.6C891.3,1009.8 894.0,1010.0 896.6,1010.2C899.3,1010.3 902.0,1010.5 904.7,1010.7C907.4,1010.9 910.1,1011.1 912.8,1011.3C915.5,1011.5 918.2,1011.7 920.9,1011.9C923.6,1012.1 926.2,1012.3 928.9,1012.4C931.6,1012.6 934.3,1012.8 937.0,1013.0C939.7,1013.2 942.4,1013.4 945.1,1013.6C947.8,1013.8 950.5,1014.0 953.2,1014.1C955.9,1014.3 958.5,1014.5 961.2,1014.7C963.9,1014.9 966.6,1015.1 969.3,1015.3C972.0,1015.5 974.7,1015.7 977.4,1015.8C980.1,1016.0 982.8,1016.2 985.5,1016.4C988.2,1016.6 990.8,1016.8 993.5,1017.0C996.2,1017.2 998.9,1017.3 1001.6,1017.5C1004.3,1017.7 1007.0,1017.9 1009.7,1018.1C1012.4,1018.3 1015.1,1018.5 1017.8,1018.6C1020.5,1018.8 1023.1,1019.0 1025.8,1019.2C1028.5,1019.4 1031.2,1019.6 1033.9,1019.8C1036.6,1019.9 1039.3,1020.1 1042.0,1020.3C1044.7,1020.5 1047.4,1020.7 1050.1,1020.9C1052.8,1021.0 1055.4,1021.2 1058.1,1021.4C1060.8,1021.6 1063.5,1021.8 1066.2,1022.0C1068.9,1022.2 1071.6,1022.3 1074.3,1022.5C1077.0,1022.7 1079.7,1022.9 1082.4,1023.1C1085.1,1023.2 1087.8,1023.4 1090.4,1023.6C1093.1,1023.8 1095.8,1024.0 1098.5,1024.2C1101.2,1024.3 1103.9,1024.5 1106.6,1024.7C1109.3,1024.9 1112.0,1025.1 1114.7,1025.2C1117.4,1025.4 1120.1,1025.6 1122.8,1025.8C1125.5,1026.0 1128.1,1026.2 1130.8,1026.3C1133.5,1026.5 1136.2,1026.7 1138.9,1026.9C1141.6,1027.1 1144.3,1027.2 1147.0,1027.4C1149.7,1027.6 1152.4,1027.8 1155.1,1028.0C1157.8,1028.1 1160.5,1028.3 1163.1,1028.5C1165.8,1028.7 1168.5,1028.8 1171.2,1029.0C1173.9,1029.2 1176.6,1029.4 1179.3,1029.6C1182.0,1029.7 1184.7,1029.9 1187.4,1030.1C1190.1,1030.3 1192.8,1030.4 1195.5,1030.6C1198.2,1030.8 1200.8,1031.0 1203.5,1031.2C1206.2,1031.3 1208.9,1031.5 1211.6,1031.7C1214.3,1031.9 1217.0,1032.0 1219.7,1032.2C1222.4,1032.4 1225.1,1032.6 1227.8,1032.7C1230.5,1032.9 1233.2,1033.1 1235.9,1033.3C1238.5,1033.4 1241.2,1033.6 1243.9,1033.8C1246.6,1034.0 1249.3,1034.1 1252.0,1034.3C1254.7,1034.5 1257.4,1034.7 1260.1,1034.8C1262.8,1035.0 1265.5,1035.2 1268.2,1035.4C1270.9,1035.5 1273.6,1035.7 1276.3,1035.9C1278.9,1036.1 1281.6,1036.2 1284.3,1036.4C1287.0,1036.6 1289.7,1036.8 1292.4,1036.9C1295.1,1037.1 1297.8,1037.3 1300.5,1037.4C1303.2,1037.6 1305.9,1037.8 1308.6,1038.0C1311.3,1038.1 1314.0,1038.3 1316.6,1038.5C1319.3,1038.6 1322.0,1038.8 1324.7,1039.0C1327.4,1039.2 1330.1,1039.3 1332.8,1039.5C1335.5,1039.7 1338.2,1039.8 1340.9,1040.0C1343.6,1040.2 1346.3,1040.4 1349.0,1040.5C1351.7,1040.7 1354.4,1040.9 1357.1,1041.0C1359.7,1041.2 1362.4,1041.4 1365.1,1041.5C1367.8,1041.7 1370.5,1041.9 1373.2,1042.0C1375.9,1042.2 1378.6,1042.4 1381.3,1042.6C1384.0,1042.7 1386.7,1042.9 1389.4,1043.1C1392.1,1043.2 1394.8,1043.4 1397.5,1043.6C1400.1,1043.7 1402.8,1043.9 1405.5,1044.1C1408.2,1044.2 1410.9,1044.4 1413.6,1044.6C1416.3,1044.7 1419.0,1044.9 1421.7,1045.1C1424.4,1045.2 1427.1,1045.4 1429.8,1045.6C1432.5,1045.7 1435.2,1045.9 1437.9,1046.1C1440.5,1046.2 1443.2,1046.4 1445.9,1046.6C1448.6,1046.7 1451.3,1046.9 1454.0,1047.0C1456.7,1047.2 1459.4,1047.4 1462.1,1047.5C1464.8,1047.7 1467.5,1047.9 1470.2,1048.0C1472.9,1048.2 1475.6,1048.4 1478.3,1048.5C1481.0,1048.7 1483.6,1048.9 1486.3,1049.0C1489.0,1049.2 1491.7,1049.3 1494.4,1049.5C1497.1,1049.7 1499.8,1049.8 1502.5,1050.0C1505.2,1050.2 1507.9,1050.3 1510.6,1050.5C1513.3,1050.6 1516.0,1050.8 1518.7,1051.0C1521.4,1051.1 1524.0,1051.3 1526.7,1051.4C1529.4,1051.6 1532.1,1051.8 1534.8,1051.9C1537.5,1052.1 1540.2,1052.3 1542.9,1052.4C1545.6,1052.6 1548.3,1052.7 1551.0,1052.9C1553.7,1053.1 1556.4,1053.2 1559.1,1053.4C1561.8,1053.5 1564.5,1053.7 1567.1,1053.8C1569.8,1054.0 1572.5,1054.2 1575.2,1054.3C1577.9,1054.5 1580.6,1054.6 1583.3,1054.8C1586.0,1055.0 1588.7,1055.1 1591.4,1055.3C1594.1,1055.4 1596.8,1055.6 1599.5,1055.7C1602.2,1055.9 1604.9,1056.1 1607.6,1056.2C1610.2,1056.4 1612.9,1056.5 1615.6,1056.7C1618.3,1056.8 1621.0,1057.0 1623.7,1057.2C1626.4,1057.3 1629.1,1057.5 1631.8,1057.6C1634.5,1057.8 1637.2,1057.9 1639.9,1058.1C1642.6,1058.2 1645.3,1058.4 1648.0,1058.6C1650.6,1058.7 1653.3,1058.9 1656.0,1059.0C1658.7,1059.2 1661.4,1059.3 1664.1,1059.5C1666.8,1059.6 1669.5,1059.8 1672.2,1059.9C1674.9,1060.1 1677.6,1060.3 1680.3,1060.4C1683.0,1060.6 1685.7,1060.7 1688.4,1060.9C1691.1,1061.0 1693.7,1061.2 1696.4,1061.3C1699.1,1061.5 1701.8,1061.6 1704.5,1061.8C1707.2,1061.9 1709.9,1062.1 1712.6,1062.2C1715.3,1062.4 1718.0,1062.5 1720.7,1062.7C1723.4,1062.8 1726.1,1063.0 1728.8,1063.1C1731.5,1063.3 1734.1,1063.4 1736.8,1063.6C1739.5,1063.7 1742.2,1063.9 1744.9,1064.0C1747.6,1064.2 1750.3,1064.3 1753.0,1064.5C1755.7,1064.6 1758.4,1064.8 1761.1,1064.9C1763.8,1065.1 1766.5,1065.2 1769.2,1065.4C1771.9,1065.5 1774.5,1065.7 1777.2,1065.8C1779.9,1066.0 1782.6,1066.1 1785.3,1066.3C1788.0,1066.4 1790.7,1066.6 1793.4,1066.7C1796.1,1066.9 1798.8,1067.0 1801.5,1067.2C1804.2,1067.3 1806.9,1067.5 1809.6,1067.6C1812.3,1067.8 1814.9,1067.9 1817.6,1068.0C1820.3,1068.2 1823.0,1068.3 1825.7,1068.5C1828.4,1068.6 1831.1,1068.8 1833.8,1068.9C1836.5,1069.1 1839.2,1069.2 1841.9,1069.4C1844.6,1069.5 1847.3,1069.6 1850.0,1069.8C1852.6,1069.9 1855.3,1070.1 1858.0,1070.2C1860.7,1070.4 1863.4,1070.5 1866.1,1070.7C1868.8,1070.8 1871.5,1070.9 1874.2,1071.1C1876.9,1071.2 1879.6,1071.4 1882.3,1071.5C1885.0,1071.7 1887.7,1071.8 1890.4,1071.9C1893.0,1072.1 1895.7,1072.2 1898.4,1072.4C1901.1,1072.5 1903.8,1072.7 1906.5,1072.8C1909.2,1072.9 1911.9,1073.1 1914.6,1073.2C1917.3,1073.4 1920.0,1073.5 1922.7,1073.6C1925.4,1073.8 1928.1,1073.9 1930.7,1074.1C1933.4,1074.2 1936.1,1074.3 1938.8,1074.5C1941.5,1074.6 1945.6,1074.8 1946.9,1074.9" stroke="#9a32cd" stroke-dasharray="8,8"/>
<path d="M839.1,831.0C840.3,831.7 844.1,833.7 846.5,835.2C848.9,836.7 851.3,838.4 853.6,840.1C855.8,841.9 857.9,843.8 859.8,845.7C861.7,847.7 863.5,849.9 865.0,852.1C866.5,854.3 867.8,856.7 868.8,859.1C869.8,861.6 870.5,864.2 870.9,866.8C871.2,869.5 871.2,872.3 871.1,875.2C871.0,878.0 870.6,880.9 870.2,883.8C869.9,886.7 869.3,889.6 869.0,892.5C868.7,895.3 868.3,898.2 868.2,900.9C868.2,903.6 868.3,906.2 868.7,908.7C869.1,911.2 869.8,913.6 870.7,915.9C871.5,918.2 872.7,920.3 873.9,922.4C875.2,924.5 876.7,926.5 878.3,928.4C880.0,930.3 881.8,932.1 883.7,933.8C885.6,935.5 887.7,937.2 889.9,938.7C892.0,940.3 894.3,941.8 896.7,943.2C899.0,944.7 901.4,946.0 903.9,947.3C906.3,948.6 908.9,949.9 911.4,951.0C913.9,952.2 916.5,953.4 919.0,954.5C921.6,955.5 924.2,956.6 926.8,957.6C929.4,958.6 932.0,959.5 934.6,960.4C937.2,961.3 939.8,962.1 942.5,962.9C945.1,963.7 947.8,964.4 950.5,965.1C953.1,965.8 955.8,966.4 958.5,967.0C961.2,967.6 963.9,968.1 966.6,968.6C969.3,969.1 972.0,969.6 974.8,970.0C977.5,970.4 980.2,970.7 982.9,971.0C985.7,971.3 988.4,971.6 991.1,971.8C993.9,972.0 996.6,972.2 999.4,972.3C1002.1,972.5 1004.9,972.5 1007.6,972.6C1010.4,972.6 1013.1,972.6 1015.9,972.6C1018.6,972.5 1021.4,972.4 1024.1,972.3C1026.9,972.1 1029.6,971.9 1032.3,971.7C1035.1,971.5 1037.8,971.2 1040.5,970.9C1043.3,970.6 1046.0,970.3 1048.7,969.9C1051.4,969.5 1054.1,969.1 1056.9,968.6C1059.6,968.1 1062.3,967.6 1064.9,967.0C1067.6,966.5 1070.3,965.9 1073.0,965.3C1075.6,964.7 1078.3,964.0 1081.0,963.3C1083.6,962.6 1086.3,961.9 1088.9,961.2C1091.5,960.5 1094.2,959.7 1096.8,959.0C1099.5,958.2 1102.1,957.5 1104.7,956.7C1107.3,955.9 1110.0,955.2 1112.6,954.4C1115.2,953.6 1117.8,952.8 1120.5,952.1C1123.1,951.3 1125.7,950.6 1128.4,949.8C1131.0,949.1 1133.6,948.4 1136.2,947.7C1138.9,947.0 1141.5,946.3 1144.2,945.7C1146.8,945.0 1149.4,944.4 1152.1,943.8C1154.7,943.3 1157.4,942.7 1160.1,942.2C1162.7,941.7 1165.4,941.3 1168.1,940.9C1170.8,940.5 1173.5,940.1 1176.2,939.8C1178.9,939.5 1182.9,939.2 1184.3,939.1" stroke="#9a32cd" stroke-dasharray="8,8"/>
<path d="M840.9,821.2C842.3,821.3 846.5,821.6 849.2,821.8C852.0,822.0 854.8,822.2 857.6,822.4C860.4,822.6 863.2,822.8 865.9,823.0C868.7,823.2 871.5,823.4 874.3,823.6C877.1,823.8 879.8,824.0 882.6,824.2C885.4,824.4 888.2,824.7 891.0,824.9C893.7,825.1 896.5,825.3 899.3,825.6C902.1,825.8 904.9,826.0 907.6,826.2C910.4,826.5 913.2,826.7 916.0,826.9C918.8,827.2 921.5,827.4 924.3,827.6C927.1,827.9 929.9,828.1 932.7,828.3C935.4,828.6 938.2,828.8 941.0,829.1C943.8,829.3 946.5,829.5 949.3,829.8C952.1,830.0 954.9,830.3 957.7,830.5C960.4,830.8 963.2,831.0 966.0,831.3C968.8,831.5 971.5,831.8 974.3,832.0C977.1,832.3 979.9,832.5 982.7,832.8C985.4,833.0 988.2,833.3 991.0,833.5C993.8,833.8 996.5,834.0 999.3,834.3C1002.1,834.5 1004.9,834.8 1007.7,835.0C1010.4,835.3 1013.2,835.5 1016.0,835.8C1018.8,836.0 1021.5,836.3 1024.3,836.5C1027.1,836.8 1029.9,837.0 1032.6,837.3C1035.4,837.5 1038.2,837.8 1041.0,838.0C1043.8,838.3 1046.5,838.5 1049.3,838.8C1052.1,839.0 1054.9,839.3 1057.6,839.5C1060.4,839.8 1063.2,840.0 1066.0,840.2C1068.8,840.5 1071.5,840.7 1074.3,841.0C1077.1,841.2 1079.9,841.4 1082.6,841.7C1085.4,841.9 1088.2,842.2 1091.0,842.4C1093.8,842.6 1096.5,842.9 1099.3,843.1C1102.1,843.3 1104.9,843.6 1107.7,843.8C1110.4,844.0 1113.2,844.2 1116.0,844.5C1118.8,844.7 1121.6,844.9 1124.3,845.1C1127.1,845.3 1129.9,845.5 1132.7,845.8C1135.5,846.0 1138.2,846.2 1141.0,846.4C1143.8,846.6 1146.6,846.8 1149.4,847.0C1152.1,847.2 1156.3,847.5 1157.7,847.6" stroke="#9a32cd" stroke-dasharray="8,8"/>
<path d="M840.5,807.0C841.8,807.0 845.9,806.9 848.5,806.8C851.2,806.7 853.9,806.7 856.6,806.6C859.3,806.6 862.0,806.5 864.6,806.5C867.3,806.4 870.0,806.3 872.7,806.3C875.4,806.2 878.0,806.2 880.7,806.1C883.4,806.1 886.1,806.0 888.8,806.0C891.5,805.9 894.1,805.9 896.8,805.8C899.5,805.8 902.2,805.7 904.9,805.7C907.5,805.6 910.2,805.6 912.9,805.6C915.6,805.5 918.3,805.5 921.0,805.4C923.6,805.4 926.3,805.3 929.0,805.3C931.7,805.3 934.4,805.2 937.1,805.2C939.7,805.1 942.4,805.1 945.1,805.1C947.8,805.0 950.5,805.0 953.1,805.0C955.8,804.9 958.5,804.9 961.2,804.8C963.9,804.8 966.6,804.8 969.2,804.7C971.9,804.7 974.6,804.7 977.3,804.7C980.0,804.6 982.7,804.6 985.3,804.6C988.0,804.5 990.7,804.5 993.4,804.5C996.1,804.4 998.8,804.4 1001.4,804.4C1004.1,804.4 1006.8,804.3 1009.5,804.3C1012.2,804.3 1014.9,804.3 1017.5,804.2C1020.2,804.2 1022.9,804.2 1025.6,804.2C1028.3,804.1 1030.9,804.1 1033.6,804.1C1036.3,804.1 1039.0,804.0 1041.7,804.0C1044.4,804.0 1047.0,804.0 1049.7,803.9C1052.4,803.9 1055.1,803.9 1057.8,803.9C1060.5,803.9 1063.1,803.8 1065.8,803.8C1068.5,803.8 1071.2,803.8 1073.9,803.8C1076.6,803.7 1079.2,803.7 1081.9,803.7C1084.6,803.7 1087.3,803.7 1090.0,803.7C1092.7,803.6 1095.3,803.6 1098.0,803.6C1100.7,803.6 1103.4,803.6 1106.1,803.5C1108.8,803.5 1111.4,803.5 1114.1,803.5C1116.8,803.5 1119.5,803.5 1122.2,803.4C1124.9,803.4 1127.5,803.4 1130.2,803.4C1132.9,803.4 1135.6,803.4 1138.3,803.4C1141.0,803.3 1143.7,803.3 1146.3,803.3C1149.0,803.3 1151.7,803.3 1154.4,803.3C1157.1,803.2 1159.8,803.2 1162.4,803.2C1165.1,803.2 1167.8,803.2 1170.5,803.2C1173.2,803.2 1175.9,803.1 1178.5,803.1C1181.2,803.1 1183.9,803.1 1186.6,803.1C1189.3,803.1 1192.0,803.1 1194.6,803.0C1197.3,803.0 1200.0,803.0 1202.7,803.0C1205.4,803.0 1208.1,803.0 1210.7,803.0C1213.4,802.9 1216.1,802.9 1218.8,802.9C1221.5,802.9 1224.2,802.9 1226.9,802.9C1229.5,802.9 1232.2,802.9 1234.9,802.8C1237.6,802.8 1240.3,802.8 1243.0,802.8C1245.6,802.8 1248.3,802.8 1251.0,802.8C1253.7,802.8 1256.4,802.7 1259.1,802.7C1261.7,802.7 1264.4,802.7 1267.1,802.7C1269.8,802.7 1272.5,802.7 1275.2,802.7C1277.8,802.7 1280.5,802.6 1283.2,802.6C1285.9,802.6 1288.6,802.6 1291.3,802.6C1294.0,802.6 1296.6,802.6 1299.3,802.6C1302.0,802.6 1304.7,802.5 1307.4,802.5C1310.1,802.5 1312.7,802.5 1315.4,802.5C1318.1,802.5 1320.8,802.5 1323.5,802.5C1326.2,802.5 1328.9,802.5 1331.5,802.4C1334.2,802.4 1336.9,802.4 1339.6,802.4C1342.3,802.4 1345.0,802.4 1347.6,802.4C1350.3,802.4 1353.0,802.4 1355.7,802.4C1358.4,802.3 1361.1,802.3 1363.7,802.3C1366.4,802.3 1369.1,802.3 1371.8,802.3C1374.5,802.3 1377.2,802.3 1379.9,802.3C1382.5,802.3 1385.2,802.2 1387.9,802.2C1390.6,802.2 1393.3,802.2 1396.0,802.2C1398.6,802.2 1401.3,802.2 1404.0,802.2C1406.7,802.2 1409.4,802.2 1412.1,802.2C1414.8,802.2 1417.4,802.1 1420.1,802.1C1422.8,802.1 1425.5,802.1 1428.2,802.1C1430.9,802.1 1433.5,802.1 1436.2,802.1C1438.9,802.1 1441.6,802.1 1444.3,802.1C1447.0,802.0 1449.7,802.0 1452.3,802.0C1455.0,802.0 1457.7,802.0 1460.4,802.0C1463.1,802.0 1465.8,802.0 1468.5,802.0C1471.1,802.0 1473.8,802.0 1476.5,802.0C1479.2,802.0 1481.9,801.9 1484.6,801.9C1487.2,801.9 1489.9,801.9 1492.6,801.9C1495.3,801.9 1498.0,801.9 1500.7,801.9C1503.4,801.9 1506.0,801.9 1508.7,801.9C1511.4,801.9 1514.1,801.8 1516.8,801.8C1519.5,801.8 1522.1,801.8 1524.8,801.8C1527.5,801.8 1530.2,801.8 1532.9,801.8C1535.6,801.8 1538.3,801.8 1540.9,801.8C1543.6,801.8 1546.3,801.8 1549.0,801.7C1551.7,801.7 1554.4,801.7 1557.0,801.7C1559.7,801.7 1562.4,801.7 1565.1,801.7C1567.8,801.7 1570.5,801.7 1573.2,801.7C1575.8,801.7 1578.5,801.7 1581.2,801.7C1583.9,801.6 1586.6,801.6 1589.3,801.6C1592.0,801.6 1594.6,801.6 1597.3,801.6C1600.0,801.6 1602.7,801.6 1605.4,801.6C1608.1,801.6 1610.7,801.6 1613.4,801.6C1616.1,801.6 1618.8,801.6 1621.5,801.5C1624.2,801.5 1626.9,801.5 1629.5,801.5C1632.2,801.5 1634.9,801.5 1637.6,801.5C1640.3,801.5 1643.0,801.5 1645.7,801.5C1648.3,801.5 1651.0,801.5 1653.7,801.5C1656.4,801.5 1659.1,801.5 1661.8,801.5C1664.4,801.5 1667.1,801.5 1669.8,801.5C1672.5,801.5 1675.2,801.5 1677.9,801.5C1680.6,801.5 1683.2,801.5 1685.9,801.4C1688.6,801.4 1691.3,801.4 1694.0,801.4C1696.7,801.4 1699.3,801.4 1702.0,801.4C1704.7,801.4 1707.4,801.5 1710.1,801.5C1712.8,801.5 1715.5,801.5 1718.1,801.5C1720.8,801.5 1723.5,801.5 1726.2,801.5C1728.9,801.5 1731.6,801.5 1734.2,801.5C1736.9,801.5 1739.6,801.5 1742.3,801.5C1745.0,801.5 1747.7,801.5 1750.4,801.5C1753.0,801.5 1755.7,801.5 1758.4,801.6C1761.1,801.6 1763.8,801.6 1766.5,801.6C1769.1,801.6 1771.8,801.6 1774.5,801.6C1777.2,801.6 1779.9,801.7 1782.6,801.7C1785.3,801.7 1787.9,801.7 1790.6,801.7C1793.3,801.7 1796.0,801.8 1798.7,801.8C1801.4,801.8 1804.0,801.8 1806.7,801.8C1809.4,801.8 1812.1,801.9 1814.8,801.9C1817.5,801.9 1820.1,801.9 1822.8,802.0C1825.5,802.0 1828.2,802.0 1830.9,802.0C1833.6,802.1 1836.2,802.1 1838.9,802.1C1841.6,802.2 1844.3,802.2 1847.0,802.2C1849.7,802.2 1852.3,802.3 1855.0,802.3C1857.7,802.3 1860.4,802.4 1863.1,802.4C1865.8,802.4 1868.4,802.5 1871.1,802.5C1873.8,802.6 1876.5,802.6 1879.2,802.6C1881.9,802.7 1884.5,802.7 1887.2,802.8C1889.9,802.8 1892.6,802.9 1895.3,802.9C1898.0,802.9 1900.6,803.0 1903.3,803.0C1906.0,803.1 1908.7,803.1 1911.4,803.2C1914.1,803.2 1916.7,803.3 1919.4,803.4C1922.1,803.4 1924.8,803.5 1927.5,803.5C1930.2,803.6 1932.8,803.6 1935.5,803.7C1938.2,803.8 1940.9,803.8 1943.6,803.9C1946.3,803.9 1948.9,804.0 1951.6,804.1C1954.3,804.1 1957.0,804.2 1959.7,804.3C1962.3,804.3 1965.0,804.4 1967.7,804.5C1970.4,804.6 1973.1,804.6 1975.8,804.7C1978.4,804.8 1981.1,804.9 1983.8,804.9C1986.5,805.0 1989.2,805.1 1991.8,805.2C1994.5,805.3 1997.2,805.4 1999.9,805.4C2002.6,805.5 2005.3,805.6 2007.9,805.7C2010.6,805.8 2013.3,805.9 2016.0,806.0C2018.7,806.1 2021.3,806.2 2024.0,806.3C2026.7,806.4 2029.4,806.5 2032.1,806.6C2034.7,806.7 2037.4,806.8 2040.1,806.9C2042.8,807.0 2045.5,807.1 2048.2,807.2C2050.8,807.3 2053.5,807.4 2056.2,807.5C2058.9,807.6 2061.6,807.8 2064.2,807.9C2066.9,808.0 2069.6,808.1 2072.3,808.2C2075.0,808.4 2077.6,808.5 2080.3,808.6C2083.0,808.7 2085.7,808.9 2088.4,809.0C2091.0,809.1 2093.7,809.2 2096.4,809.4C2099.1,809.5 2101.8,809.6 2104.4,809.8C2107.1,809.9 2109.8,810.1 2112.5,810.2C2115.2,810.3 2117.8,810.5 2120.5,810.6C2123.2,810.8 2125.9,810.9 2128.6,811.1C2131.2,811.2 2133.9,811.4 2136.6,811.5C2139.3,811.7 2141.9,811.9 2144.6,812.0C2147.3,812.2 2150.0,812.3 2152.7,812.5C2155.3,812.7 2158.0,812.8 2160.7,813.0C2163.4,813.2 2166.1,813.4 2168.7,813.5C2171.4,813.7 2174.1,813.9 2176.8,814.1C2179.4,814.3 2182.1,814.4 2184.8,814.6C2187.5,814.8 2190.2,815.0 2192.8,815.2C2195.5,815.4 2198.2,815.6 2200.9,815.8C2203.5,816.0 2206.2,816.2 2208.9,816.4C2211.6,816.6 2214.3,816.8 2216.9,817.0C2219.6,817.2 2222.3,817.4 2225.0,817.6C2227.6,817.8 2230.3,818.0 2233.0,818.2C2235.7,818.5 2238.3,818.7 2241.0,818.9C2243.7,819.1 2246.4,819.3 2249.0,819.6C2251.7,819.8 2254.4,820.0 2257.1,820.3C2259.8,820.5 2262.4,820.7 2265.1,821.0C2267.8,821.2 2270.5,821.5 2273.1,821.7C2275.8,822.0 2278.5,822.2 2281.2,822.5C2283.8,822.7 2286.5,823.0 2289.2,823.2C2291.9,823.5 2294.5,823.7 2297.2,824.0C2299.9,824.3 2302.6,824.5 2305.2,824.8C2307.9,825.1 2310.6,825.3 2313.3,825.6C2315.9,825.9 2318.6,826.2 2321.3,826.4C2324.0,826.7 2328.0,827.2 2329.3,827.3" stroke="#9a32cd" stroke-dasharray="8,8"/>
<path d="M1294.6,853.5C1295.9,853.5 1300.0,853.5 1302.7,853.4C1305.4,853.4 1308.1,853.4 1310.8,853.4C1313.5,853.4 1316.2,853.3 1318.9,853.3C1321.6,853.3 1324.3,853.3 1327.0,853.3C1329.7,853.2 1332.4,853.2 1335.1,853.2C1337.8,853.2 1340.5,853.2 1343.2,853.1C1345.9,853.1 1348.6,853.1 1351.3,853.1C1354.0,853.0 1356.7,853.0 1359.4,853.0C1362.1,853.0 1364.8,852.9 1367.5,852.9C1370.2,852.9 1372.9,852.9 1375.5,852.9C1378.2,852.8 1380.9,852.8 1383.6,852.8C1386.3,852.8 1389.0,852.7 1391.7,852.7C1394.4,852.7 1397.1,852.7 1399.8,852.6C1402.5,852.6 1405.2,852.6 1407.9,852.6C1410.6,852.5 1413.3,852.5 1416.0,852.5C1418.7,852.4 1421.4,852.4 1424.1,852.4C1426.8,852.4 1429.5,852.3 1432.2,852.3C1434.9,852.3 1437.6,852.3 1440.3,852.2C1443.0,852.2 1445.7,852.2 1448.4,852.1C1451.1,852.1 1453.8,852.1 1456.5,852.1C1459.2,852.0 1461.9,852.0 1464.6,852.0C1467.3,851.9 1470.0,851.9 1472.7,851.9C1475.4,851.9 1478.1,851.8 1480.8,851.8C1483.5,851.8 1486.2,851.7 1488.9,851.7C1491.6,851.7 1494.3,851.6 1497.0,851.6C1499.7,851.6 1502.4,851.5 1505.1,851.5C1507.8,851.5 1510.5,851.5 1513.2,851.4C1515.9,851.4 1518.6,851.4 1521.3,851.3C1523.9,851.3 1526.6,851.3 1529.3,851.2C1532.0,851.2 1534.7,851.2 1537.4,851.1C1540.1,851.1 1542.8,851.1 1545.5,851.0C1548.2,851.0 1550.9,851.0 1553.6,850.9C1556.3,850.9 1559.0,850.9 1561.7,850.8C1564.4,850.8 1567.1,850.8 1569.8,850.7C1572.5,850.7 1575.2,850.7 1577.9,850.6C1580.6,850.6 1583.3,850.6 1586.0,850.5C1588.7,850.5 1591.4,850.5 1594.1,850.4C1596.8,850.4 1599.5,850.4 1602.2,850.3C1604.9,850.3 1607.6,850.3 1610.3,850.2C1613.0,850.2 1615.7,850.2 1618.4,850.1C1621.1,850.1 1623.8,850.0 1626.5,850.0C1629.2,850.0 1631.9,849.9 1634.6,849.9C1637.3,849.9 1640.0,849.8 1642.7,849.8C1645.4,849.8 1648.1,849.7 1650.8,849.7C1653.5,849.7 1656.2,849.6 1658.9,849.6C1661.6,849.5 1664.3,849.5 1666.9,849.5C1669.6,849.4 1672.3,849.4 1675.0,849.4C1677.7,849.3 1680.4,849.3 1683.1,849.2C1685.8,849.2 1688.5,849.2 1691.2,849.1C1693.9,849.1 1696.6,849.1 1699.3,849.0C1702.0,849.0 1704.7,849.0 1707.4,848.9C1710.1,848.9 1712.8,848.8 1715.5,848.8C1718.2,848.8 1720.9,848.7 1723.6,848.7C1726.3,848.7 1729.0,848.6 1731.7,848.6C1734.4,848.5 1737.1,848.5 1739.8,848.5C1742.5,848.4 1745.2,848.4 1747.9,848.3C1750.6,848.3 1753.3,848.3 1756.0,848.2C1758.7,848.2 1761.4,848.2 1764.1,848.1C1766.8,848.1 1769.5,848.0 1772.2,848.0C1774.9,848.0 1777.6,847.9 1780.3,847.9C1783.0,847.9 1785.7,847.8 1788.4,847.8C1791.1,847.7 1793.8,847.7 1796.5,847.7C1799.2,847.6 1801.9,847.6 1804.6,847.5C1807.2,847.5 1809.9,847.5 1812.6,847.4C1815.3,847.4 1818.0,847.4 1820.7,847.3C1823.4,847.3 1826.1,847.2 1828.8,847.2C1831.5,847.2 1834.2,847.1 1836.9,847.1C1839.6,847.0 1842.3,847.0 1845.0,847.0C1847.7,846.9 1850.4,846.9 1853.1,846.9C1855.8,846.8 1858.5,846.8 1861.2,846.7C1863.9,846.7 1866.6,846.7 1869.3,846.6C1872.0,846.6 1874.7,846.5 1877.4,846.5C1880.1,846.5 1882.8,846.4 1885.5,846.4C1888.2,846.4 1890.9,846.3 1893.6,846.3C1896.3,846.2 1899.0,846.2 1901.7,846.2C1904.4,846.1 1907.1,846.1 1909.8,846.0C1912.5,846.0 1915.2,846.0 1917.9,845.9C1920.6,845.9 1923.3,845.9 1926.0,845.8C1928.7,845.8 1931.4,845.7 1934.1,845.7C1936.8,845.7 1939.5,845.6 1942.2,845.6C1944.9,845.5 1947.5,845.5 1950.2,845.5C1952.9,845.4 1955.6,845.4 1958.3,845.4C1961.0,845.3 1963.7,845.3 1966.4,845.2C1969.1,845.2 1971.8,845.2 1974.5,845.1C1977.2,845.1 1979.9,845.1 1982.6,845.0C1985.3,845.0 1988.0,844.9 1990.7,844.9C1993.4,844.9 1996.1,844.8 1998.8,844.8C2001.5,844.8 2004.2,844.7 2006.9,844.7C2009.6,844.7 2012.3,844.6 2015.0,844.6C2017.7,844.5 2020.4,844.5 2023.1,844.5C2025.8,844.4 2028.5,844.4 2031.2,844.4C2033.9,844.3 2036.6,844.3 2039.3,844.3C2042.0,844.2 2044.7,844.2 2047.4,844.1C2050.1,844.1 2052.8,844.1 2055.5,844.0C2058.2,844.0 2060.9,844.0 2063.6,843.9C2066.3,843.9 2069.0,843.9 2071.7,843.8C2074.4,843.8 2077.1,843.8 2079.8,843.7C2082.5,843.7 2085.2,843.7 2087.8,843.6C2090.5,843.6 2093.2,843.6 2095.9,843.5C2098.6,843.5 2101.3,843.4 2104.0,843.4C2106.7,843.4 2109.4,843.3 2112.1,843.3C2114.8,843.3 2117.5,843.2 2120.2,843.2C2122.9,843.2 2125.6,843.1 2128.3,843.1C2131.0,843.1 2133.7,843.0 2136.4,843.0C2139.1,843.0 2141.8,842.9 2144.5,842.9C2147.2,842.9 2149.9,842.9 2152.6,842.8C2155.3,842.8 2158.0,842.8 2160.7,842.7C2163.4,842.7 2166.1,842.7 2168.8,842.6C2171.5,842.6 2174.2,842.6 2176.9,842.5C2179.6,842.5 2182.3,842.5 2185.0,842.4C2187.7,842.4 2190.4,842.4 2193.1,842.4C2195.8,842.3 2198.5,842.3 2201.2,842.3C2203.9,842.2 2206.6,842.2 2209.3,842.2C2212.0,842.1 2214.7,842.1 2217.4,842.1C2220.1,842.1 2222.8,842.0 2225.5,842.0C2228.2,842.0 2230.9,841.9 2233.5,841.9C2236.2,841.9 2238.9,841.9 2241.6,841.8C2244.3,841.8 2247.0,841.8 2249.7,841.7C2252.4,841.7 2255.1,841.7 2257.8,841.7C2260.5,841.6 2263.2,841.6 2265.9,841.6C2268.6,841.6 2271.3,841.5 2274.0,841.5C2276.7,841.5 2279.4,841.4 2282.1,841.4C2284.8,841.4 2287.5,841.4 2290.2,841.3C2292.9,841.3 2295.6,841.3 2298.3,841.3C2301.0,841.2 2305.1,841.2 2306.4,841.2" stroke="#9a32cd" stroke-dasharray="8,8"/>
<path d="M1325.8,918.7C1327.1,918.6 1331.2,918.1 1333.9,917.8C1336.6,917.6 1339.3,917.3 1342.0,917.0C1344.7,916.7 1347.4,916.4 1350.0,916.1C1352.7,915.9 1355.4,915.6 1358.1,915.3C1360.8,915.0 1363.5,914.8 1366.2,914.5C1368.9,914.2 1371.6,914.0 1374.3,913.7C1377.0,913.4 1379.7,913.2 1382.4,912.9C1385.1,912.6 1387.8,912.4 1390.5,912.1C1393.2,911.8 1395.9,911.6 1398.6,911.3C1401.3,911.1 1404.0,910.8 1406.6,910.6C1409.3,910.3 1412.0,910.1 1414.7,909.8C1417.4,909.6 1420.1,909.3 1422.8,909.1C1425.5,908.8 1428.2,908.6 1430.9,908.3C1433.6,908.1 1436.3,907.8 1439.0,907.6C1441.7,907.3 1444.4,907.1 1447.1,906.9C1449.8,906.6 1452.5,906.4 1455.2,906.1C1457.9,905.9 1460.6,905.7 1463.3,905.4C1466.0,905.2 1468.7,905.0 1471.4,904.7C1474.1,904.5 1476.8,904.3 1479.5,904.1C1482.2,903.8 1484.9,903.6 1487.6,903.4C1490.3,903.2 1493.0,902.9 1495.7,902.7C1498.4,902.5 1501.1,902.3 1503.8,902.0C1506.5,901.8 1509.2,901.6 1511.9,901.4C1514.6,901.2 1517.3,900.9 1520.0,900.7C1522.7,900.5 1525.4,900.3 1528.1,900.1C1530.8,899.9 1533.5,899.7 1536.2,899.5C1538.9,899.2 1541.6,899.0 1544.3,898.8C1547.0,898.6 1549.7,898.4 1552.4,898.2C1555.1,898.0 1557.8,897.8 1560.5,897.6C1563.2,897.4 1565.9,897.2 1568.6,897.0C1571.3,896.8 1574.0,896.6 1576.7,896.4C1579.4,896.2 1582.1,896.0 1584.8,895.8C1587.5,895.6 1590.2,895.4 1592.9,895.2C1595.6,895.0 1598.3,894.8 1601.0,894.6C1603.7,894.4 1606.4,894.2 1609.1,894.0C1611.8,893.8 1614.5,893.6 1617.2,893.5C1619.9,893.3 1622.6,893.1 1625.3,892.9C1628.0,892.7 1630.7,892.5 1633.4,892.3C1636.1,892.1 1638.8,892.0 1641.5,891.8C1644.2,891.6 1646.9,891.4 1649.6,891.2C1652.3,891.0 1655.0,890.8 1657.7,890.7C1660.4,890.5 1663.1,890.3 1665.8,890.1C1668.5,889.9 1671.2,889.8 1673.9,889.6C1676.6,889.4 1679.3,889.2 1682.0,889.0C1684.7,888.9 1687.4,888.7 1690.1,888.5C1692.8,888.3 1695.6,888.2 1698.3,888.0C1701.0,887.8 1703.7,887.6 1706.4,887.5C1709.1,887.3 1711.8,887.1 1714.5,886.9C1717.2,886.8 1719.9,886.6 1722.6,886.4C1725.3,886.3 1728.0,886.1 1730.7,885.9C1733.4,885.7 1736.1,885.6 1738.8,885.4C1741.5,885.2 1744.2,885.1 1746.9,884.9C1749.6,884.7 1752.3,884.6 1755.0,884.4C1757.7,884.2 1760.4,884.1 1763.1,883.9C1765.8,883.7 1768.5,883.6 1771.2,883.4C1773.9,883.2 1776.6,883.1 1779.4,882.9C1782.1,882.7 1784.8,882.6 1787.5,882.4C1790.2,882.2 1792.9,882.1 1795.6,881.9C1798.3,881.7 1801.0,881.6 1803.7,881.4C1806.4,881.3 1809.1,881.1 1811.8,880.9C1814.5,880.8 1817.2,880.6 1819.9,880.4C1822.6,880.3 1825.3,880.1 1828.0,880.0C1830.7,879.8 1833.4,879.6 1836.1,879.5C1838.8,879.3 1841.5,879.1 1844.2,879.0C1847.0,878.8 1849.7,878.7 1852.4,878.5C1855.1,878.3 1857.8,878.2 1860.5,878.0C1863.2,877.9 1865.9,877.7 1868.6,877.5C1871.3,877.4 1874.0,877.2 1876.7,877.1C1879.4,876.9 1882.1,876.7 1884.8,876.6C1887.5,876.4 1890.2,876.2 1892.9,876.1C1895.6,875.9 1898.3,875.8 1901.0,875.6C1903.7,875.4 1906.4,875.3 1909.1,875.1C1911.8,875.0 1914.6,874.8 1917.3,874.6C1920.0,874.5 1922.7,874.3 1925.4,874.2C1928.1,874.0 1930.8,873.8 1933.5,873.7C1936.2,873.5 1938.9,873.4 1941.6,873.2C1944.3,873.0 1947.0,872.9 1949.7,872.7C1952.4,872.5 1955.1,872.4 1957.8,872.2C1960.5,872.1 1963.2,871.9 1965.9,871.7C1968.6,871.6 1971.3,871.4 1974.0,871.2C1976.7,871.1 1979.5,870.9 1982.2,870.8C1984.9,870.6 1987.6,870.4 1990.3,870.3C1993.0,870.1 1995.7,869.9 1998.4,869.8C2001.1,869.6 2003.8,869.4 2006.5,869.3C2009.2,869.1 2011.9,868.9 2014.6,868.8C2017.3,868.6 2020.0,868.4 2022.7,868.3C2025.4,868.1 2028.1,867.9 2030.8,867.8C2033.5,867.6 2036.2,867.4 2038.9,867.3C2041.6,867.1 2044.3,866.9 2047.0,866.7C2049.7,866.6 2052.5,866.4 2055.2,866.2C2057.9,866.1 2060.6,865.9 2063.3,865.7C2066.0,865.5 2068.7,865.4 2071.4,865.2C2074.1,865.0 2076.8,864.8 2079.5,864.7C2082.2,864.5 2084.9,864.3 2087.6,864.1C2090.3,864.0 2093.0,863.8 2095.7,863.6C2098.4,863.4 2101.1,863.3 2103.8,863.1C2106.5,862.9 2109.2,862.7 2111.9,862.5C2114.6,862.4 2117.3,862.2 2120.0,862.0C2122.7,861.8 2125.4,861.6 2128.1,861.4C2130.8,861.3 2133.5,861.1 2136.2,860.9C2138.9,860.7 2141.7,860.5 2144.4,860.3C2147.1,860.1 2149.8,860.0 2152.5,859.8C2155.2,859.6 2157.9,859.4 2160.6,859.2C2163.3,859.0 2166.0,858.8 2168.7,858.6C2171.4,858.4 2174.1,858.2 2176.8,858.0C2179.5,857.9 2182.2,857.7 2184.9,857.5C2187.6,857.3 2190.3,857.1 2193.0,856.9C2195.7,856.7 2198.4,856.5 2201.1,856.3C2203.8,856.1 2206.5,855.9 2209.2,855.7C2211.9,855.5 2214.6,855.3 2217.3,855.1C2220.0,854.9 2222.7,854.7 2225.4,854.4C2228.1,854.2 2230.8,854.0 2233.5,853.8C2236.2,853.6 2238.9,853.4 2241.6,853.2C2244.3,853.0 2247.0,852.8 2249.7,852.6C2252.4,852.3 2255.1,852.1 2257.8,851.9C2260.5,851.7 2263.2,851.5 2265.9,851.3C2268.6,851.0 2271.3,850.8 2274.0,850.6C2276.7,850.4 2279.4,850.2 2282.1,849.9C2284.8,849.7 2287.5,849.5 2290.2,849.3C2292.9,849.0 2295.6,848.8 2298.3,848.6C2301.0,848.4 2305.1,848.0 2306.4,847.9" stroke="#9a32cd" stroke-dasharray="8,8"/>
<path d="M2063.5,1060.5C2064.7,1059.8 2068.2,1057.5 2070.6,1056.1C2072.9,1054.6 2075.3,1053.1 2077.6,1051.6C2080.0,1050.2 2082.3,1048.7 2084.7,1047.2C2087.0,1045.7 2089.4,1044.3 2091.7,1042.8C2094.1,1041.3 2096.4,1039.8 2098.8,1038.4C2101.2,1036.9 2103.5,1035.4 2105.9,1033.9C2108.2,1032.5 2110.6,1031.0 2112.9,1029.5C2115.3,1028.0 2117.6,1026.6 2120.0,1025.1C2122.4,1023.6 2124.7,1022.2 2127.1,1020.7C2129.4,1019.2 2131.8,1017.7 2134.1,1016.3C2136.5,1014.8 2138.9,1013.3 2141.2,1011.9C2143.6,1010.4 2145.9,1008.9 2148.3,1007.5C2150.7,1006.0 2153.0,1004.5 2155.4,1003.1C2157.7,1001.6 2160.1,1000.1 2162.4,998.7C2164.8,997.2 2167.2,995.7 2169.5,994.2C2171.9,992.8 2174.2,991.3 2176.6,989.8C2179.0,988.4 2181.3,986.9 2183.7,985.4C2186.0,984.0 2188.4,982.5 2190.8,981.0C2193.1,979.6 2195.5,978.1 2197.8,976.6C2200.2,975.2 2202.6,973.7 2204.9,972.2C2207.3,970.8 2209.6,969.3 2212.0,967.8C2214.4,966.4 2216.7,964.9 2219.1,963.4C2221.4,962.0 2223.8,960.5 2226.2,959.0C2228.5,957.6 2230.9,956.1 2233.2,954.6C2235.6,953.2 2237.9,951.7 2240.3,950.2C2242.7,948.8 2245.0,947.3 2247.4,945.8C2249.7,944.4 2252.1,942.9 2254.5,941.4C2256.8,940.0 2259.2,938.5 2261.5,937.0C2263.9,935.6 2266.3,934.1 2268.6,932.6C2271.0,931.2 2273.3,929.7 2275.7,928.2C2278.0,926.8 2280.4,925.3 2282.8,923.8C2285.1,922.3 2287.5,920.9 2289.8,919.4C2292.2,917.9 2294.5,916.5 2296.9,915.0C2299.3,913.5 2301.6,912.0 2304.0,910.6C2306.3,909.1 2308.7,907.6 2311.0,906.2C2313.4,904.7 2315.8,903.2 2318.1,901.7C2320.5,900.3 2322.8,898.8 2325.2,897.3C2327.5,895.8 2329.9,894.4 2332.2,892.9C2334.6,891.4 2336.9,889.9 2339.3,888.5C2341.7,887.0 2344.0,885.5 2346.4,884.0C2348.7,882.6 2351.1,881.1 2353.4,879.6C2355.8,878.1 2358.1,876.6 2360.5,875.2C2362.8,873.7 2365.2,872.2 2367.5,870.7C2369.9,869.2 2372.2,867.7 2374.6,866.3C2376.9,864.8 2379.3,863.3 2381.6,861.8C2384.0,860.3 2386.3,858.8 2388.7,857.4C2391.0,855.9 2394.5,853.6 2395.7,852.9" stroke="#9a32cd" stroke-dasharray="8,8"/>
<path d="M1207.9,547.8C1207.1,548.8 1204.6,552.0 1202.9,554.1C1201.2,556.1 1199.4,558.2 1197.6,560.2C1195.8,562.2 1194.0,564.2 1192.2,566.2C1190.4,568.2 1188.5,570.2 1186.6,572.1C1184.7,574.1 1182.7,576.0 1180.8,577.9C1178.8,579.8 1176.9,581.7 1174.8,583.6C1172.8,585.5 1170.8,587.3 1168.7,589.2C1166.7,591.0 1164.6,592.8 1162.5,594.6C1160.4,596.4 1158.3,598.2 1156.1,600.0C1154.0,601.7 1151.8,603.5 1149.6,605.2C1147.4,606.9 1145.2,608.6 1143.0,610.2C1140.7,611.9 1138.5,613.5 1136.2,615.1C1134.0,616.7 1131.7,618.3 1129.4,619.9C1127.1,621.4 1124.7,623.0 1122.4,624.5C1120.1,626.0 1117.7,627.4 1115.4,628.9C1113.0,630.3 1110.6,631.7 1108.2,633.1C1105.8,634.5 1103.4,635.8 1101.0,637.1C1098.6,638.4 1096.2,639.7 1093.7,640.9C1091.3,642.1 1088.9,643.3 1086.4,644.5C1083.9,645.6 1081.4,646.7 1079.0,647.8C1076.5,648.8 1074.0,649.8 1071.4,650.7C1068.9,651.7 1066.4,652.5 1063.8,653.3C1061.3,654.1 1058.7,654.9 1056.1,655.6C1053.5,656.2 1050.9,656.8 1048.3,657.4C1045.7,657.9 1043.0,658.3 1040.4,658.7C1037.7,659.1 1035.1,659.4 1032.4,659.6C1029.7,659.9 1027.0,660.1 1024.3,660.3C1021.6,660.4 1018.9,660.5 1016.1,660.6C1013.4,660.7 1010.7,660.7 1007.9,660.8C1005.2,660.8 1002.4,660.8 999.7,660.8C996.9,660.8 994.2,660.8 991.4,660.9C988.6,660.9 985.9,660.9 983.1,660.9C980.4,660.9 977.6,660.9 974.8,661.0C972.1,661.0 969.3,661.1 966.6,661.2C963.8,661.3 961.1,661.4 958.3,661.6C955.6,661.7 952.9,661.9 950.2,662.1C947.5,662.4 944.7,662.7 942.1,663.0C939.4,663.3 936.7,663.7 934.0,664.1C931.3,664.6 928.7,665.1 926.1,665.6C923.4,666.2 920.8,666.9 918.2,667.6C915.6,668.3 913.1,669.1 910.5,669.9C907.9,670.8 905.4,671.7 902.9,672.7C900.4,673.6 897.9,674.7 895.4,675.8C893.0,676.9 890.5,678.1 888.1,679.3C885.7,680.6 883.3,681.9 880.9,683.2C878.5,684.6 876.2,686.0 873.9,687.4C871.5,688.9 869.2,690.4 867.0,692.0C864.7,693.5 862.4,695.1 860.2,696.8C858.0,698.4 855.8,700.1 853.7,701.9C851.5,703.6 849.4,705.4 847.3,707.2C845.2,709.0 843.1,710.9 841.0,712.8C839.0,714.7 837.0,716.6 835.0,718.6C833.0,720.6 831.1,722.6 829.1,724.6C827.2,726.6 825.3,728.7 823.5,730.8C821.6,732.9 819.8,735.0 818.0,737.1C816.2,739.2 814.5,741.4 812.8,743.6C811.0,745.7 809.4,747.9 807.7,750.2C806.1,752.4 804.5,754.6 802.9,756.8C801.3,759.1 799.8,761.3 798.3,763.6C796.8,765.9 795.3,768.1 793.9,770.4C792.5,772.7 791.1,775.0 789.8,777.3C788.4,779.5 787.1,781.8 785.9,784.1C784.6,786.4 782.8,789.9 782.2,791.0" stroke="#9a32cd" stroke-dasharray="8,8"/>
<path d="M1207.3,406.3C1206.4,407.5 1203.7,411.0 1201.9,413.4C1200.1,415.7 1198.3,418.1 1196.5,420.4C1194.7,422.7 1192.8,425.1 1191.0,427.4C1189.2,429.7 1187.3,432.0 1185.5,434.3C1183.6,436.7 1181.8,439.0 1179.9,441.3C1178.1,443.6 1176.2,445.9 1174.4,448.2C1172.5,450.5 1170.6,452.8 1168.8,455.1C1166.9,457.4 1165.0,459.7 1163.2,462.0C1161.3,464.3 1159.4,466.6 1157.5,468.8C1155.7,471.1 1153.8,473.4 1151.9,475.7C1150.1,478.0 1148.2,480.3 1146.3,482.6C1144.5,484.9 1142.6,487.2 1140.8,489.5C1138.9,491.8 1137.0,494.1 1135.2,496.4C1133.3,498.7 1131.5,501.1 1129.7,503.4C1127.8,505.7 1126.0,508.0 1124.2,510.4C1122.4,512.7 1120.5,515.0 1118.7,517.4C1116.9,519.7 1115.1,522.1 1113.3,524.4C1111.5,526.8 1108.9,530.3 1108.0,531.5" stroke="#9a32cd" stroke-dasharray="8,8"/>
<path d="M1108.0,531.5C1106.9,532.5 1103.7,535.5 1101.5,537.3C1099.3,539.2 1097.0,540.8 1094.7,542.4C1092.4,544.0 1090.1,545.4 1087.7,546.7C1085.3,548.1 1082.9,549.3 1080.5,550.4C1078.1,551.5 1075.6,552.5 1073.1,553.5C1070.6,554.4 1068.1,555.2 1065.5,556.0C1063.0,556.8 1060.4,557.4 1057.8,558.1C1055.2,558.7 1052.6,559.2 1049.9,559.7C1047.3,560.2 1044.6,560.6 1041.9,561.0C1039.3,561.3 1036.6,561.6 1033.8,561.9C1031.1,562.2 1028.4,562.5 1025.7,562.7C1022.9,562.9 1020.2,563.1 1017.4,563.2C1014.7,563.4 1011.9,563.5 1009.2,563.7C1006.4,563.8 1003.6,563.9 1000.9,564.1C998.1,564.2 995.3,564.3 992.6,564.5C989.8,564.6 987.0,564.7 984.3,564.9C981.5,565.1 978.7,565.3 976.0,565.5C973.2,565.7 970.5,566.0 967.8,566.3C965.0,566.5 962.3,566.9 959.6,567.2C956.9,567.6 954.2,568.0 951.5,568.4C948.8,568.8 946.1,569.3 943.5,569.8C940.9,570.4 938.2,570.9 935.6,571.6C933.0,572.2 930.4,572.9 927.8,573.6C925.3,574.3 922.7,575.1 920.2,576.0C917.7,576.8 915.2,577.8 912.7,578.7C910.3,579.7 907.8,580.8 905.4,581.9C903.0,583.0 900.7,584.2 898.3,585.4C896.0,586.7 893.7,588.0 891.4,589.3C889.1,590.7 886.9,592.1 884.6,593.6C882.4,595.1 880.2,596.6 878.1,598.2C876.0,599.8 873.8,601.4 871.8,603.1C869.7,604.8 867.6,606.6 865.6,608.4C863.6,610.2 861.7,612.0 859.7,613.9C857.8,615.8 855.9,617.7 854.1,619.7C852.2,621.6 850.4,623.6 848.6,625.7C846.8,627.7 845.1,629.8 843.4,631.9C841.7,634.1 840.0,636.2 838.3,638.4C836.7,640.6 835.1,642.8 833.6,645.1C832.0,647.4 830.5,649.7 829.0,652.0C827.5,654.3 826.0,656.6 824.6,659.0C823.2,661.4 821.8,663.8 820.5,666.2C819.1,668.7 817.8,671.1 816.5,673.6C815.2,676.1 814.0,678.6 812.8,681.1C811.6,683.6 810.4,686.1 809.2,688.7C808.1,691.2 807.0,693.8 805.9,696.4C804.8,698.9 803.8,701.5 802.8,704.1C801.8,706.7 800.8,709.4 799.8,712.0C798.9,714.6 798.0,717.3 797.1,719.9C796.2,722.5 795.4,725.2 794.6,727.8C793.8,730.5 793.0,733.1 792.2,735.8C791.5,738.5 790.8,741.1 790.1,743.8C789.4,746.4 788.7,749.1 788.1,751.8C787.5,754.4 786.9,757.1 786.3,759.7C785.8,762.3 785.2,765.0 784.7,767.6C784.2,770.2 783.7,772.9 783.3,775.5C782.9,778.1 782.4,780.7 782.1,783.3C781.7,785.9 781.2,789.7 781.0,791.0" stroke="#9a32cd" stroke-dasharray="8,8"/>
<path d="M1152.2,293.3C1150.7,293.7 1146.1,294.8 1143.1,295.9C1140.2,297.1 1137.2,298.6 1134.5,300.3C1131.8,302.0 1129.2,304.0 1126.9,306.1C1124.6,308.2 1122.5,310.6 1120.7,313.0C1118.9,315.4 1117.4,317.9 1116.3,320.5C1115.3,323.1 1114.5,325.7 1114.2,328.4C1113.9,331.0 1114.1,333.7 1114.6,336.3C1115.0,338.9 1115.9,341.5 1117.2,343.9C1118.4,346.4 1120.0,348.9 1121.8,351.2C1123.7,353.5 1125.9,355.8 1128.2,357.9C1130.5,360.0 1133.1,362.1 1135.8,364.0C1138.4,366.0 1141.2,367.8 1144.0,369.5C1146.7,371.2 1149.6,372.9 1152.3,374.4C1155.1,375.9 1157.8,377.3 1160.3,378.5C1162.8,379.8 1166.2,381.4 1167.4,382.0" stroke="#9a32cd" stroke-dasharray="8,8"/>
<path d="M847.2,268.6C848.6,268.6 852.8,268.7 855.5,268.7C858.3,268.8 861.1,268.8 863.9,268.8C866.7,268.9 869.5,268.9 872.2,268.9C875.0,269.0 877.8,269.0 880.6,269.0C883.4,269.1 886.2,269.1 888.9,269.1C891.7,269.1 894.5,269.2 897.3,269.2C900.1,269.2 902.9,269.2 905.6,269.2C908.4,269.3 911.2,269.3 914.0,269.3C916.8,269.3 919.6,269.3 922.4,269.4C925.1,269.4 927.9,269.4 930.7,269.4C933.5,269.4 936.3,269.5 939.1,269.5C941.8,269.5 944.6,269.5 947.4,269.5C950.2,269.6 953.0,269.6 955.8,269.6C958.5,269.6 961.3,269.6 964.1,269.7C966.9,269.7 969.7,269.7 972.5,269.7C975.2,269.7 978.0,269.8 980.8,269.8C983.6,269.8 986.4,269.8 989.2,269.9C991.9,269.9 994.7,269.9 997.5,270.0C1000.3,270.0 1003.1,270.0 1005.9,270.1C1008.6,270.1 1011.4,270.1 1014.2,270.2C1017.0,270.2 1019.8,270.2 1022.6,270.3C1025.3,270.3 1028.1,270.4 1030.9,270.4C1033.7,270.5 1036.5,270.5 1039.3,270.6C1042.0,270.6 1044.8,270.7 1047.6,270.7C1050.4,270.8 1053.2,270.9 1056.0,270.9C1058.7,271.0 1061.5,271.1 1064.3,271.1C1067.1,271.2 1069.9,271.3 1072.6,271.3C1075.4,271.4 1078.2,271.5 1081.0,271.6C1083.8,271.7 1086.6,271.8 1089.3,271.9C1092.1,271.9 1094.9,272.0 1097.7,272.1C1100.5,272.2 1103.2,272.4 1106.0,272.5C1108.8,272.6 1111.6,272.7 1114.4,272.8C1117.2,272.9 1119.9,273.0 1122.7,273.2C1125.5,273.3 1128.3,273.4 1131.1,273.6C1133.8,273.7 1138.0,273.9 1139.4,274.0" stroke="#9a32cd" stroke-dasharray="8,8"/>
</g>
<rect x="5.0" y="239.3" width="118.9" height="25.2" fill="#ffffff" stroke="#000000" stroke-width="1.33"/>
<text x="64.5" y="255.0" text-anchor="middle" textLength="93.8" lengthAdjust="spacingAndGlyphs">vtkTimeStamp</text>
<rect x="347.7" y="117.9" width="137.7" height="25.2" fill="#ffffff" stroke="#ff0000" stroke-width="1.33"/>
<text x="416.5" y="133.6" text-anchor="middle" textLength="114.7" lengthAdjust="spacingAndGlyphs">vtkOpenGLHelper</text>
<rect x="700.3" y="256.6" width="133.7" height="25.3" fill="#ffffff" stroke="#ff0000" stroke-width="1.33"/>
<text x="767.1" y="272.4" text-anchor="middle" textLength="109.6" lengthAdjust="spacingAndGlyphs">vtkTextureObject</text>
<rect x="1139.4" y="267.1" width="158.7" height="25.6" fill="#ffffff" stroke="#ff0000" stroke-width="1.33"/>
<text x="1218.8" y="283.0" text-anchor="middle" textLength="135.2" lengthAdjust="spacingAndGlyphs">vtkDepthPeelingPass</text>
<rect x="691.7" y="402.1" width="150.6" height="24.7" fill="#ffffff" stroke="#ff0000" stroke-width="1.33"/>
<text x="767.0" y="417.6" text-anchor="middle" textLength="128.9" lengthAdjust="spacingAndGlyphs">vtkShaderProgram2</text>
<rect x="313.3" y="437.9" width="206.5" height="38.9" fill="#ffffff" stroke="#ff0000" stroke-width="1.33"/>
<text x="416.5" y="452.8" text-anchor="middle" textLength="182.5" lengthAdjust="spacingAndGlyphs">vtkWeakPointer&lt; vtkRender</text>
<text x="416.5" y="467.2" text-anchor="middle" textLength="65.7" lengthAdjust="spacingAndGlyphs">Window &gt;</text>
<rect x="1167.4" y="380.5" width="102.8" height="25.5" fill="#ffffff" stroke="#ff0000" stroke-width="1.33"/>
<text x="1218.8" y="396.4" text-anchor="middle" textLength="79.1" lengthAdjust="spacingAndGlyphs">vtkRenderer</text>
<rect x="1562.4" y="380.7" width="153.4" height="25.3" fill="#ffffff" stroke="#000000" stroke-width="1.33"/>
<text x="1639.1" y="396.5" text-anchor="middle" textLength="131.1" lengthAdjust="spacingAndGlyphs">vtkOpenGLRenderer</text>
<rect x="1143.3" y="521.7" width="150.9" height="25.6" fill="#ffffff" stroke="#ff0000" stroke-width="1.33"/>
<text x="1218.8" y="537.6" text-anchor="middle" textLength="127.2" lengthAdjust="spacingAndGlyphs">vtkShadowMapPass</text>
<rect x="1933.1" y="575.3" width="196.4" height="25.2" fill="#ffffff" stroke="#000000" stroke-width="1.33"/>
<text x="2031.3" y="591.0" text-anchor="middle" textLength="173.3" lengthAdjust="spacingAndGlyphs">vtkSynchronizedRenderers</text>
<rect x="707.7" y="803.5" width="118.6" height="24.9" fill="#ffffff" stroke="#000000" stroke-width="1.33"/>
<text x="767.0" y="819.1" text-anchor="middle" textLength="94.8" lengthAdjust="spacingAndGlyphs">vtkRenderPass</text>
<rect x="2306.4" y="827.3" width="223.1" height="25.1" fill="#bfbfbf" stroke="#000000" stroke-width="1.33"/>
<text x="2417.9" y="842.9" text-anchor="middle" textLength="200.3" lengthAdjust="spacingAndGlyphs">vtkIceTSynchronizedRenderers</text>
<rect x="5.4" y="856.6" width="118.0" height="25.4" fill="#ffffff" stroke="#ff0000" stroke-width="1.33"/>
<text x="64.4" y="872.4" text-anchor="middle" textLength="93.7" lengthAdjust="spacingAndGlyphs">vtkObjectBase</text>
<rect x="373.6" y="856.6" width="85.5" height="25.3" fill="#ffffff" stroke="#000000" stroke-width="1.33"/>
<text x="416.4" y="872.4" text-anchor="middle" textLength="62.1" lengthAdjust="spacingAndGlyphs">vtkObject</text>
<rect x="689.8" y="856.7" width="154.5" height="25.4" fill="#ffffff" stroke="#000000" stroke-width="1.33"/>
<text x="767.0" y="872.5" text-anchor="middle" textLength="131.6" lengthAdjust="spacingAndGlyphs">vtkPixelBufferObject</text>
<rect x="1157.7" y="842.0" width="122.7" height="25.1" fill="#ffffff" stroke="#000000" stroke-width="1.33"/>
<text x="1219.1" y="857.6" text-anchor="middle" textLength="99.5" lengthAdjust="spacingAndGlyphs">vtkCameraPass</text>
<rect x="1127.5" y="913.9" width="183.1" height="25.2" fill="#ffffff" stroke="#000000" stroke-width="1.33"/>
<text x="1219.0" y="929.6" text-anchor="middle" textLength="158.6" lengthAdjust="spacingAndGlyphs">vtkImageProcessingPass</text>
<rect x="1947.1" y="1067.3" width="168.3" height="25.1" fill="#ffffff" stroke="#000000" stroke-width="1.33"/>
<text x="2031.2" y="1082.9" text-anchor="middle" textLength="144.0" lengthAdjust="spacingAndGlyphs">vtkIceTCompositePass</text>
<rect x="697.7" y="1142.1" width="138.5" height="25.3" fill="#ffffff" stroke="#ff0000" stroke-width="1.33"/>
<text x="767.0" y="1157.8" text-anchor="middle" textLength="116.1" lengthAdjust="spacingAndGlyphs">vtkOutputWindow</text>
<rect x="1123.9" y="1164.8" width="190.6" height="25.0" fill="#ffffff" stroke="#000000" stroke-width="1.33"/>
<text x="1219.2" y="1180.4" text-anchor="middle" textLength="164.8" lengthAdjust="spacingAndGlyphs">vtkMultiProcessController</text>
<rect x="697.7" y="1192.9" width="138.5" height="25.3" fill="#ffffff" stroke="#000000" stroke-width="1.33"/>
<text x="767.0" y="1208.7" text-anchor="middle" textLength="115.7" lengthAdjust="spacingAndGlyphs">vtkCommunicator</text>
<rect x="1579.2" y="1206.1" width="120.2" height="25.1" fill="#ffffff" stroke="#000000" stroke-width="1.33"/>
<text x="1639.3" y="1221.8" text-anchor="middle" textLength="96.8" lengthAdjust="spacingAndGlyphs">vtkIceTContext</text>
<rect x="1543.7" y="1256.7" width="190.7" height="25.1" fill="#ffffff" stroke="#000000" stroke-width="1.33"/>
<text x="1639.1" y="1272.3" text-anchor="middle" textLength="165.6" lengthAdjust="spacingAndGlyphs">vtkNew&lt; vtkFloatArray &gt;</text>
<rect x="879.7" y="1304.6" width="220.3" height="25.5" fill="#ffffff" stroke="#000000" stroke-width="1.33"/>
<text x="989.9" y="1320.4" text-anchor="middle" textLength="197.1" lengthAdjust="spacingAndGlyphs">vtkOrderedCompositingHelper</text>
<polygon points="124.3,868.9 137.6,864.2 137.6,873.6" fill="#191970" stroke="#191970" stroke-width="1.33"/>
<polygon points="420.0,856.5 413.6,844.0 422.8,842.7" fill="#191970" stroke="#191970" stroke-width="1.33"/>
<polygon points="420.4,856.6 420.6,842.5 429.4,845.7" fill="#191970" stroke="#191970" stroke-width="1.33"/>
<polygon points="428.6,856.3 433.8,843.2 440.8,849.3" fill="#191970" stroke="#191970" stroke-width="1.33"/>
<polygon points="460.2,858.9 471.8,850.9 474.2,859.9" fill="#191970" stroke="#191970" stroke-width="1.33"/>
<polygon points="460.2,862.0 473.6,857.7 473.4,867.1" fill="#191970" stroke="#191970" stroke-width="1.33"/>
<polygon points="460.2,875.7 473.6,871.3 473.4,880.7" fill="#191970" stroke="#191970" stroke-width="1.33"/>
<polygon points="418.4,882.3 420.8,896.2 411.6,894.7" fill="#191970" stroke="#191970" stroke-width="1.33"/>
<polygon points="418.8,882.3 427.0,893.7 418.1,896.3" fill="#191970" stroke="#191970" stroke-width="1.33"/>
<polygon points="438.4,882.3 452.0,886.3 446.5,893.9" fill="#191970" stroke="#191970" stroke-width="1.33"/>
<polygon points="771.7,802.6 768.7,788.8 777.9,790.0" fill="#191970" stroke="#191970" stroke-width="1.33"/>
<polygon points="779.7,802.7 788.0,791.3 793.3,799.0" fill="#191970" stroke="#191970" stroke-width="1.33"/>
<polygon points="814.1,802.9 824.3,793.1 828.2,801.6" fill="#191970" stroke="#191970" stroke-width="1.33"/>
<polygon points="827.2,819.1 840.9,815.6 840.0,824.9" fill="#191970" stroke="#191970" stroke-width="1.33"/>
<polygon points="785.5,829.1 799.6,829.6 796.2,838.3" fill="#191970" stroke="#191970" stroke-width="1.33"/>
<polygon points="826.9,825.2 840.9,824.3 838.4,833.3" fill="#191970" stroke="#191970" stroke-width="1.33"/>
<polygon points="1271.4,386.5 1284.6,381.6 1284.8,391.0" fill="#191970" stroke="#191970" stroke-width="1.33"/>
<polygon points="1271.4,399.5 1284.7,394.8 1284.7,404.2" fill="#191970" stroke="#191970" stroke-width="1.33"/>
<polygon points="2052.1,601.4 2065.8,604.6 2060.7,612.5" fill="#191970" stroke="#191970" stroke-width="1.33"/>
<polygon points="69.2,238.5 69.2,224.4 78.0,227.5" fill="#9a32cd" stroke="#9a32cd" stroke-width="1.33"/>
<polygon points="77.5,238.6 82.5,225.4 89.6,231.5" fill="#9a32cd" stroke="#9a32cd" stroke-width="1.33"/>
<polygon points="125.2,239.7 137.8,233.3 139.0,242.6" fill="#9a32cd" stroke="#9a32cd" stroke-width="1.33"/>
<polygon points="781.6,255.7 786.4,242.4 793.6,248.4" fill="#9a32cd" stroke="#9a32cd" stroke-width="1.33"/>
<polygon points="457.1,117.8 467.7,108.5 471.2,117.2" fill="#9a32cd" stroke="#9a32cd" stroke-width="1.33"/>
<polygon points="486.7,123.0 499.3,116.6 500.5,125.8" fill="#9a32cd" stroke="#9a32cd" stroke-width="1.33"/>
<polygon points="486.7,141.4 500.5,138.7 499.2,147.9" fill="#9a32cd" stroke="#9a32cd" stroke-width="1.33"/>
<polygon points="124.8,253.4 138.1,248.8 138.1,258.2" fill="#9a32cd" stroke="#9a32cd" stroke-width="1.33"/>
<polygon points="120.3,264.6 134.3,262.7 132.4,271.9" fill="#9a32cd" stroke="#9a32cd" stroke-width="1.33"/>
<polygon points="66.7,265.4 72.6,278.2 63.3,279.1" fill="#9a32cd" stroke="#9a32cd" stroke-width="1.33"/>
<polygon points="74.7,265.0 86.7,272.4 79.4,278.3" fill="#9a32cd" stroke="#9a32cd" stroke-width="1.33"/>
<polygon points="495.0,436.1 503.6,424.9 508.6,432.8" fill="#9a32cd" stroke="#9a32cd" stroke-width="1.33"/>
<polygon points="520.5,444.9 533.0,438.4 534.3,447.7" fill="#9a32cd" stroke="#9a32cd" stroke-width="1.33"/>
<polygon points="427.2,478.4 437.5,488.0 429.2,492.4" fill="#9a32cd" stroke="#9a32cd" stroke-width="1.33"/>
<polygon points="779.1,283.2 790.6,291.5 782.9,296.8" fill="#9a32cd" stroke="#9a32cd" stroke-width="1.33"/>
<polygon points="779.2,401.1 784.6,388.1 791.5,394.3" fill="#9a32cd" stroke="#9a32cd" stroke-width="1.33"/>
<polygon points="804.3,401.5 814.8,392.0 818.4,400.6" fill="#9a32cd" stroke="#9a32cd" stroke-width="1.33"/>
<polygon points="783.3,428.2 796.0,434.5 789.3,441.0" fill="#9a32cd" stroke="#9a32cd" stroke-width="1.33"/>
<polygon points="1299.4,278.3 1312.9,274.1 1312.5,283.5" fill="#9a32cd" stroke="#9a32cd" stroke-width="1.33"/>
<polygon points="1257.9,521.9 1268.1,512.2 1272.0,520.7" fill="#9a32cd" stroke="#9a32cd" stroke-width="1.33"/>
<polygon points="1716.9,385.2 1730.2,380.5 1730.2,389.9" fill="#9a32cd" stroke="#9a32cd" stroke-width="1.33"/>
<polygon points="2002.3,574.7 1992.2,564.9 2000.6,560.7" fill="#9a32cd" stroke="#9a32cd" stroke-width="1.33"/>
<polygon points="1293.1,1164.4 1305.0,1156.8 1307.1,1165.9" fill="#9a32cd" stroke="#9a32cd" stroke-width="1.33"/>
<polygon points="1315.8,1177.8 1329.1,1173.1 1329.1,1182.5" fill="#9a32cd" stroke="#9a32cd" stroke-width="1.33"/>
<polygon points="1285.5,1189.8 1299.5,1188.8 1297.1,1197.8" fill="#9a32cd" stroke="#9a32cd" stroke-width="1.33"/>
<polygon points="837.8,1157.8 851.4,1154.2 850.7,1163.5" fill="#9a32cd" stroke="#9a32cd" stroke-width="1.33"/>
<polygon points="837.8,1210.2 851.3,1206.1 850.9,1215.4" fill="#9a32cd" stroke="#9a32cd" stroke-width="1.33"/>
<polygon points="1185.8,1163.5 1177.6,1152.1 1186.6,1149.5" fill="#9a32cd" stroke="#9a32cd" stroke-width="1.33"/>
<polygon points="1700.5,1222.7 1713.8,1218.0 1713.8,1227.4" fill="#9a32cd" stroke="#9a32cd" stroke-width="1.33"/>
<polygon points="1711.2,1282.4 1724.7,1278.5 1724.2,1287.8" fill="#9a32cd" stroke="#9a32cd" stroke-width="1.33"/>
<polygon points="1036.7,1330.4 1050.8,1330.6 1047.6,1339.4" fill="#9a32cd" stroke="#9a32cd" stroke-width="1.33"/>
<polygon points="775.4,882.9 785.2,893.0 776.8,896.9" fill="#9a32cd" stroke="#9a32cd" stroke-width="1.33"/>
<polygon points="826.3,824.8 840.3,826.4 836.2,834.8" fill="#9a32cd" stroke="#9a32cd" stroke-width="1.33"/>
<polygon points="826.4,820.6 839.9,816.5 839.5,825.8" fill="#9a32cd" stroke="#9a32cd" stroke-width="1.33"/>
<polygon points="826.4,808.2 839.2,802.4 840.1,811.7" fill="#9a32cd" stroke="#9a32cd" stroke-width="1.33"/>
<polygon points="1281.3,853.6 1294.6,848.8 1294.6,858.2" fill="#9a32cd" stroke="#9a32cd" stroke-width="1.33"/>
<polygon points="1311.8,919.5 1324.8,914.1 1325.3,923.4" fill="#9a32cd" stroke="#9a32cd" stroke-width="1.33"/>
<polygon points="2053.2,1066.8 2062.1,1055.9 2066.9,1063.9" fill="#9a32cd" stroke="#9a32cd" stroke-width="1.33"/>
<polygon points="775.4,802.9 777.9,789.0 786.1,793.7" fill="#9a32cd" stroke="#9a32cd" stroke-width="1.33"/>
<polygon points="770.8,802.8 767.9,789.0 777.1,790.2" fill="#9a32cd" stroke="#9a32cd" stroke-width="1.33"/>
<polygon points="834.7,268.6 848.0,263.9 848.0,273.3" fill="#9a32cd" stroke="#9a32cd" stroke-width="1.33"/>
<text x="601.3" y="17.0" text-anchor="middle" textLength="71.2" lengthAdjust="spacingAndGlyphs">CheckTime</text>
<text x="1220.4" y="16.1" text-anchor="middle" textLength="54.3" lengthAdjust="spacingAndGlyphs">Program</text>
<text x="767.8" y="82.7" text-anchor="middle" textLength="121.2" lengthAdjust="spacingAndGlyphs">FinalBlendProgram</text>
<text x="767.8" y="97.2" text-anchor="middle" textLength="175.1" lengthAdjust="spacingAndGlyphs">IntermediateBlendProgram</text>
<text x="219.5" y="119.5" text-anchor="middle" textLength="135.7" lengthAdjust="spacingAndGlyphs">AttributeUpdateTime</text>
<text x="219.5" y="134.2" text-anchor="middle" textLength="121.9" lengthAdjust="spacingAndGlyphs">ShaderSourceTime</text>
<text x="600.5" y="148.5" text-anchor="middle" textLength="100.3" lengthAdjust="spacingAndGlyphs">ShaderProgram</text>
<text x="600.8" y="194.1" text-anchor="middle" textLength="77.5" lengthAdjust="spacingAndGlyphs">RenderTime</text>
<text x="990.0" y="206.1" text-anchor="middle" textLength="106.8" lengthAdjust="spacingAndGlyphs">OpaqueZTexture</text>
<text x="990.0" y="220.6" text-anchor="middle" textLength="133.8" lengthAdjust="spacingAndGlyphs">OpaqueRGBATexture</text>
<text x="990.0" y="235.4" text-anchor="middle" textLength="131.7" lengthAdjust="spacingAndGlyphs">CurrentRGBATexture</text>
<text x="990.0" y="249.8" text-anchor="middle" textLength="130.6" lengthAdjust="spacingAndGlyphs">TranslucentZTexture</text>
<text x="990.0" y="264.2" text-anchor="middle" textLength="157.6" lengthAdjust="spacingAndGlyphs">TranslucentRGBATexture</text>
<text x="1431.0" y="218.7" text-anchor="middle" textLength="55.9" lengthAdjust="spacingAndGlyphs">ZTexture</text>
<text x="418.0" y="254.5" text-anchor="middle" textLength="138.4" lengthAdjust="spacingAndGlyphs">SendParametersTime</text>
<text x="600.8" y="285.0" text-anchor="middle" textLength="50.3" lengthAdjust="spacingAndGlyphs">Context</text>
<text x="991.7" y="286.8" text-anchor="middle" textLength="28.3" lengthAdjust="spacingAndGlyphs">Prog</text>
<text x="1430.6" y="276.6" text-anchor="middle" textLength="114.9" lengthAdjust="spacingAndGlyphs">DepthPeelingPass</text>
<text x="417.0" y="293.3" text-anchor="middle" textLength="84.9" lengthAdjust="spacingAndGlyphs">LastLinkTime</text>
<text x="417.0" y="307.7" text-anchor="middle" textLength="149.5" lengthAdjust="spacingAndGlyphs">LastSendUniformsTime</text>
<text x="1220.4" y="335.4" text-anchor="middle" textLength="100.3" lengthAdjust="spacingAndGlyphs">ShaderProgram</text>
<text x="1835.6" y="382.6" text-anchor="middle" textLength="58.7" lengthAdjust="spacingAndGlyphs">Renderer</text>
<text x="991.4" y="396.8" text-anchor="middle" textLength="102.9" lengthAdjust="spacingAndGlyphs">TranslucentPass</text>
<text x="600.8" y="424.7" text-anchor="middle" textLength="50.3" lengthAdjust="spacingAndGlyphs">Context</text>
<text x="1430.6" y="431.2" text-anchor="middle" textLength="106.9" lengthAdjust="spacingAndGlyphs">ShadowMapPass</text>
<text x="991.8" y="440.0" text-anchor="middle" textLength="83.4" lengthAdjust="spacingAndGlyphs">IntensityMap</text>
<text x="991.3" y="484.9" text-anchor="middle" textLength="54.3" lengthAdjust="spacingAndGlyphs">Program</text>
<text x="601.0" y="527.4" text-anchor="middle" textLength="104.6" lengthAdjust="spacingAndGlyphs">LastRenderTime</text>
<text x="991.4" y="534.5" text-anchor="middle" textLength="28.2" lengthAdjust="spacingAndGlyphs">Pass</text>
<text x="2033.0" y="546.7" text-anchor="middle" textLength="110.0" lengthAdjust="spacingAndGlyphs">CaptureDelegate</text>
<text x="220.5" y="563.6" text-anchor="middle" textLength="42.4" lengthAdjust="spacingAndGlyphs">MTime</text>
<text x="990.0" y="609.2" text-anchor="middle" textLength="114.5" lengthAdjust="spacingAndGlyphs">OpaqueSequence</text>
<text x="990.0" y="623.8" text-anchor="middle" textLength="134.5" lengthAdjust="spacingAndGlyphs">CompositeRGBAPass</text>
<text x="990.0" y="638.2" text-anchor="middle" textLength="79.1" lengthAdjust="spacingAndGlyphs">OpaquePass</text>
<text x="601.0" y="699.4" text-anchor="middle" textLength="50.3" lengthAdjust="spacingAndGlyphs">Context</text>
<text x="1640.5" y="796.3" text-anchor="middle" textLength="74.4" lengthAdjust="spacingAndGlyphs">RenderPass</text>
<text x="991.0" y="819.5" text-anchor="middle" textLength="87.1" lengthAdjust="spacingAndGlyphs">DelegatePass</text>
<text x="1640.9" y="842.5" text-anchor="middle" textLength="110.7" lengthAdjust="spacingAndGlyphs">ParallelController</text>
<text x="1836.0" y="841.0" text-anchor="middle" textLength="125.5" lengthAdjust="spacingAndGlyphs">CameraRenderPass</text>
<text x="1835.2" y="872.5" text-anchor="middle" textLength="138.3" lengthAdjust="spacingAndGlyphs">ImageProcessingPass</text>
<text x="990.9" y="927.5" text-anchor="middle" textLength="87.1" lengthAdjust="spacingAndGlyphs">DelegatePass</text>
<text x="2219.6" y="919.6" text-anchor="middle" textLength="123.7" lengthAdjust="spacingAndGlyphs">IceTCompositePass</text>
<text x="1430.6" y="1034.1" text-anchor="middle" textLength="74.4" lengthAdjust="spacingAndGlyphs">RenderPass</text>
<text x="1431.0" y="1092.7" text-anchor="middle" textLength="26.2" lengthAdjust="spacingAndGlyphs">PBO</text>
<text x="1221.0" y="1135.5" text-anchor="middle" textLength="88.1" lengthAdjust="spacingAndGlyphs">SingleMethod</text>
<text x="1641.0" y="1148.6" text-anchor="middle" textLength="63.3" lengthAdjust="spacingAndGlyphs">Controller</text>
<text x="991.1" y="1155.6" text-anchor="middle" textLength="95.8" lengthAdjust="spacingAndGlyphs">OutputWindow</text>
<text x="991.0" y="1186.5" text-anchor="middle" textLength="119.4" lengthAdjust="spacingAndGlyphs">RMICommunicator</text>
<text x="991.0" y="1200.8" text-anchor="middle" textLength="95.4" lengthAdjust="spacingAndGlyphs">Communicator</text>
<text x="1835.8" y="1186.5" text-anchor="middle" textLength="76.5" lengthAdjust="spacingAndGlyphs">IceTContext</text>
<text x="1430.8" y="1194.7" text-anchor="middle" textLength="63.3" lengthAdjust="spacingAndGlyphs">Controller</text>
<text x="1834.5" y="1237.4" text-anchor="middle" textLength="135.1" lengthAdjust="spacingAndGlyphs">LastRenderedDepths</text>
<text x="1834.5" y="1251.6" text-anchor="middle" textLength="149.7" lengthAdjust="spacingAndGlyphs">LastRenderedRGBA32F</text>
<text x="1431.0" y="1379.0" text-anchor="middle" textLength="176.8" lengthAdjust="spacingAndGlyphs">OrderedCompositingHelper</text>
</svg></body></html>
